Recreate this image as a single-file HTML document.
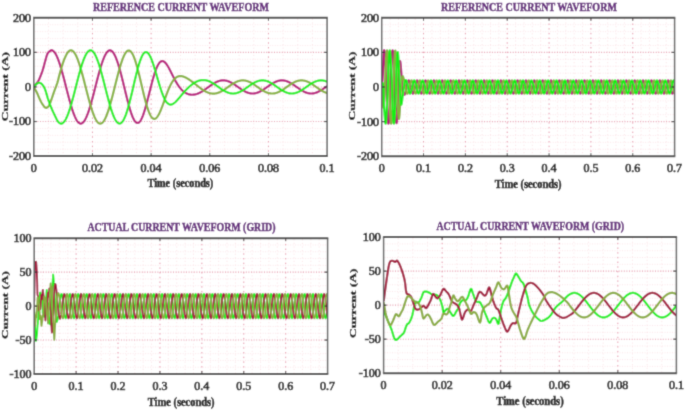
<!DOCTYPE html>
<html><head><meta charset="utf-8"><style>
html,body{margin:0;padding:0;background:#fff;width:685px;height:410px;overflow:hidden}
svg{display:block}
.mn{stroke:#fbe3e7;stroke-width:0.9;stroke-dasharray:1.2 2.4}
.mnh{stroke:#fbe3e7;stroke-width:1;stroke-dasharray:0.9 1.6}
.mj{stroke:#e590a6;stroke-width:1;stroke-dasharray:1.4 3.3}
.mjh{stroke:#e698ab;stroke-width:1.1;stroke-dasharray:1 1.6}
.ln{fill:none;stroke-linejoin:round;stroke-linecap:round}
.tk{stroke:#333;stroke-width:1.2}
.tkv{stroke:#333;stroke-width:0.9}
.bxh{fill:none;stroke:#474747;stroke-width:2}
.bxv{fill:none;stroke:#5e5e5e;stroke-width:1.5}
.tl{font-family:"Liberation Serif",serif;font-size:12px;fill:#222222;stroke:#222222;stroke-width:0.7px}
.tt{font-family:"Liberation Serif",serif;font-size:13px;font-weight:bold;fill:#62267a;stroke:#62267a;stroke-width:0.55px}
.yl{font-family:"Liberation Serif",serif;font-size:12.5px;font-weight:bold;fill:#141414;stroke:#141414;stroke-width:0.45px}
.lb{font-family:"Liberation Serif",serif;font-size:12px;font-weight:bold;fill:#111;stroke:#111;stroke-width:0.5px}
</style></head><body>
<svg width="685" height="410" viewBox="0 0 685 410">
<defs><clipPath id="c_tl"><rect x="33.8" y="17.8" width="293.3" height="138.29999999999998"/></clipPath><clipPath id="c_tr"><rect x="381.7" y="17.8" width="292.90000000000003" height="138.39999999999998"/></clipPath><clipPath id="c_bl"><rect x="34.2" y="238.2" width="293.40000000000003" height="135.8"/></clipPath><clipPath id="c_br"><rect x="383.6" y="237.1" width="292.79999999999995" height="136.1"/></clipPath><filter id="bl" x="0" y="0" width="100%" height="100%" filterUnits="userSpaceOnUse"><feConvolveMatrix order="3" kernelMatrix="0.0225 0.1050 0.0225 0.1050 0.4900 0.1050 0.0225 0.1050 0.0225" divisor="1" edgeMode="duplicate" preserveAlpha="true"/></filter></defs>
<g filter="url(#bl)">
<rect width="685" height="410" fill="#fff"/>
<line x1="48.46" y1="18.80" x2="48.46" y2="155.10" class="mn"/>
<line x1="63.13" y1="18.80" x2="63.13" y2="155.10" class="mn"/>
<line x1="77.79" y1="18.80" x2="77.79" y2="155.10" class="mn"/>
<line x1="107.12" y1="18.80" x2="107.12" y2="155.10" class="mn"/>
<line x1="121.79" y1="18.80" x2="121.79" y2="155.10" class="mn"/>
<line x1="136.46" y1="18.80" x2="136.46" y2="155.10" class="mn"/>
<line x1="165.78" y1="18.80" x2="165.78" y2="155.10" class="mn"/>
<line x1="180.45" y1="18.80" x2="180.45" y2="155.10" class="mn"/>
<line x1="195.12" y1="18.80" x2="195.12" y2="155.10" class="mn"/>
<line x1="224.44" y1="18.80" x2="224.44" y2="155.10" class="mn"/>
<line x1="239.11" y1="18.80" x2="239.11" y2="155.10" class="mn"/>
<line x1="253.77" y1="18.80" x2="253.77" y2="155.10" class="mn"/>
<line x1="283.11" y1="18.80" x2="283.11" y2="155.10" class="mn"/>
<line x1="297.77" y1="18.80" x2="297.77" y2="155.10" class="mn"/>
<line x1="312.44" y1="18.80" x2="312.44" y2="155.10" class="mn"/>
<line x1="34.80" y1="149.19" x2="326.10" y2="149.19" class="mnh"/>
<line x1="34.80" y1="142.27" x2="326.10" y2="142.27" class="mnh"/>
<line x1="34.80" y1="135.35" x2="326.10" y2="135.35" class="mnh"/>
<line x1="34.80" y1="128.44" x2="326.10" y2="128.44" class="mnh"/>
<line x1="34.80" y1="114.61" x2="326.10" y2="114.61" class="mnh"/>
<line x1="34.80" y1="107.69" x2="326.10" y2="107.69" class="mnh"/>
<line x1="34.80" y1="100.78" x2="326.10" y2="100.78" class="mnh"/>
<line x1="34.80" y1="93.87" x2="326.10" y2="93.87" class="mnh"/>
<line x1="34.80" y1="80.04" x2="326.10" y2="80.04" class="mnh"/>
<line x1="34.80" y1="73.12" x2="326.10" y2="73.12" class="mnh"/>
<line x1="34.80" y1="66.21" x2="326.10" y2="66.21" class="mnh"/>
<line x1="34.80" y1="59.29" x2="326.10" y2="59.29" class="mnh"/>
<line x1="34.80" y1="45.46" x2="326.10" y2="45.46" class="mnh"/>
<line x1="34.80" y1="38.55" x2="326.10" y2="38.55" class="mnh"/>
<line x1="34.80" y1="31.63" x2="326.10" y2="31.63" class="mnh"/>
<line x1="34.80" y1="24.72" x2="326.10" y2="24.72" class="mnh"/>
<line x1="92.46" y1="18.80" x2="92.46" y2="155.10" class="mj"/>
<line x1="151.12" y1="18.80" x2="151.12" y2="155.10" class="mj"/>
<line x1="209.78" y1="18.80" x2="209.78" y2="155.10" class="mj"/>
<line x1="268.44" y1="18.80" x2="268.44" y2="155.10" class="mj"/>
<line x1="34.80" y1="121.53" x2="326.10" y2="121.53" class="mjh"/>
<line x1="34.80" y1="86.95" x2="326.10" y2="86.95" class="mjh"/>
<line x1="34.80" y1="52.38" x2="326.10" y2="52.38" class="mjh"/>
<g clip-path="url(#c_tl)">
<path d="M33.80,86.95L34.27,86.36L34.93,85.53L35.71,84.55L36.52,83.51L37.28,82.48L37.91,81.56L38.40,80.75L38.81,80.00L39.17,79.27L39.51,78.51L39.86,77.69L40.25,76.75L40.68,75.69L41.12,74.55L41.57,73.33L42.02,72.06L42.47,70.77L42.89,69.46L43.30,68.10L43.70,66.69L44.08,65.25L44.47,63.80L44.85,62.38L45.24,61.02L45.62,59.67L45.98,58.31L46.34,56.98L46.72,55.72L47.13,54.57L47.59,53.59L48.12,52.75L48.71,52.03L49.34,51.43L49.97,50.95L50.57,50.58L51.10,50.32L51.56,50.20L51.97,50.22L52.35,50.35L52.71,50.58L53.07,50.86L53.45,51.18L53.84,51.55L54.23,51.98L54.62,52.47L55.02,53.02L55.41,53.63L55.80,54.30L56.19,55.02L56.58,55.80L56.97,56.64L57.36,57.53L57.75,58.47L58.14,59.46L58.56,60.59L59.01,61.88L59.46,63.23L59.88,64.50L60.24,65.58L60.49,66.35L60.78,67.31L61.08,68.29L61.37,69.29L61.66,70.31L61.96,71.35L62.25,72.40L62.54,73.46L62.84,74.54L63.13,75.63L63.42,76.73L63.72,77.84L64.01,78.96L64.30,80.08L64.60,81.22L64.89,82.36L65.18,83.50L65.48,84.65L65.77,85.80L66.06,86.95L66.36,88.10L66.65,89.25L66.94,90.40L67.24,91.55L67.53,92.69L67.82,93.82L68.12,94.95L68.41,96.07L68.70,97.18L69.00,98.28L69.29,99.37L69.58,100.44L69.88,101.51L70.17,102.56L70.46,103.59L70.76,104.61L71.05,105.61L71.34,106.59L71.64,107.55L71.93,108.50L72.22,109.42L72.52,110.31L72.81,111.19L73.10,112.04L73.40,112.87L73.69,113.67L73.98,114.44L74.28,115.19L74.57,115.91L74.86,116.60L75.16,117.27L75.45,117.90L75.74,118.50L76.04,119.07L76.33,119.61L76.62,120.11L76.92,120.59L77.21,121.03L77.50,121.44L77.79,121.81L78.09,122.15L78.38,122.45L78.67,122.72L78.97,122.95L79.26,123.15L79.55,123.31L79.85,123.44L80.14,123.53L80.43,123.58L80.73,123.60L81.02,123.58L81.31,123.53L81.61,123.44L81.90,123.31L82.19,123.15L82.49,122.95L82.78,122.71L83.07,122.44L83.37,122.14L83.66,121.80L83.95,121.43L84.25,121.02L84.54,120.58L84.83,120.10L85.13,119.60L85.42,119.06L85.71,118.48L86.01,117.88L86.30,117.25L86.59,116.59L86.89,115.89L87.18,115.17L87.47,114.42L87.77,113.65L88.06,112.84L88.35,112.02L88.65,111.16L88.94,110.29L89.23,109.39L89.53,108.46L89.82,107.52L90.11,106.56L90.41,105.57L90.70,104.57L90.99,103.55L91.29,102.52L91.58,101.47L91.87,100.40L92.17,99.32L92.46,98.23L92.75,97.13L93.05,96.01L93.34,94.89L93.63,93.76L93.93,92.63L94.22,91.48L94.51,90.34L94.81,89.19L95.10,88.04L95.39,86.88L95.69,85.73L95.98,84.58L96.27,83.43L96.57,82.28L96.86,81.14L97.15,80.00L97.45,78.87L97.74,77.75L98.03,76.64L98.33,75.53L98.62,74.44L98.91,73.36L99.21,72.30L99.50,71.25L99.79,70.21L100.09,69.19L100.38,68.19L100.67,67.21L100.97,66.24L101.26,65.30L101.55,64.38L101.85,63.48L102.14,62.60L102.43,61.75L102.73,60.92L103.02,60.12L103.31,59.35L103.61,58.60L103.90,57.88L104.19,57.19L104.49,56.53L104.78,55.90L105.07,55.30L105.37,54.73L105.66,54.20L105.95,53.70L106.25,53.23L106.54,52.79L106.83,52.39L107.12,52.02L107.42,51.69L107.71,51.39L108.00,51.13L108.30,50.91L108.59,50.72L108.88,50.56L109.18,50.45L109.47,50.37L109.76,50.33L110.06,50.32L110.35,50.35L110.64,50.42L110.94,50.53L111.23,50.67L111.52,50.85L111.82,51.07L112.11,51.32L112.40,51.61L112.70,51.94L112.99,52.30L113.28,52.70L113.58,53.13L113.87,53.60L114.16,54.10L114.46,54.63L114.75,55.20L115.04,55.81L115.34,56.44L115.63,57.11L115.92,57.80L116.22,58.53L116.51,59.29L116.80,60.08L117.10,60.90L117.39,61.74L117.68,62.61L117.98,63.51L118.27,64.43L118.56,65.38L118.86,66.35L119.15,67.34L119.44,68.35L119.74,69.39L120.03,70.44L120.32,71.52L120.62,72.61L120.91,73.71L121.20,74.83L121.50,75.97L121.79,77.12L122.08,78.28L122.38,79.45L122.67,80.63L122.96,81.82L123.26,83.02L123.55,84.22L123.84,85.42L124.14,86.63L124.43,87.84L124.72,89.05L125.02,90.26L125.31,91.47L125.60,92.67L125.90,93.87L126.19,95.06L126.48,96.25L126.78,97.43L127.07,98.59L127.36,99.74L127.66,100.89L127.95,102.01L128.24,103.12L128.54,104.21L128.83,105.29L129.12,106.34L129.42,107.37L129.71,108.38L130.00,109.37L130.30,110.33L130.59,111.27L130.88,112.17L131.18,113.05L131.47,113.90L131.76,114.71L132.06,115.50L132.35,116.25L132.64,116.96L132.94,117.64L133.23,118.28L133.52,118.89L133.82,119.45L134.11,119.98L134.40,120.47L134.70,120.91L134.99,121.31L135.28,121.68L135.58,121.99L135.87,122.27L136.16,122.50L136.45,122.68L136.75,122.82L137.04,122.92L137.33,122.97L137.63,122.97L137.92,122.93L138.21,122.85L138.51,122.71L138.80,122.54L139.09,122.32L139.39,122.05L139.68,121.74L139.97,121.38L140.27,120.98L140.56,120.54L140.85,120.06L141.15,119.53L141.44,118.96L141.73,118.36L142.03,117.71L142.32,117.03L142.61,116.31L142.91,115.56L143.20,114.77L143.49,113.95L143.79,113.09L144.08,112.21L144.37,111.29L144.67,110.35L144.96,109.38L145.25,108.39L145.55,107.37L145.84,106.33L146.13,105.27L146.43,104.20L146.72,103.10L147.01,101.99L147.31,100.87L147.60,99.74L147.89,98.59L148.19,97.44L148.48,96.28L148.77,95.12L149.07,93.95L149.36,92.79L149.65,91.62L149.95,90.45L150.24,89.29L150.53,88.13L150.83,86.98L151.12,85.84L151.41,84.71L151.71,83.59L152.00,82.49L152.29,81.40L152.59,80.32L152.88,79.27L153.17,78.23L153.47,77.21L153.76,76.22L154.05,75.25L154.35,74.30L154.64,73.38L154.93,72.49L155.23,71.62L155.52,70.79L155.81,69.98L156.11,69.21L156.40,68.46L156.69,67.75L156.99,67.08L157.28,66.43L157.57,65.82L157.87,65.25L158.16,64.71L158.45,64.21L158.75,63.75L159.04,63.32L159.33,62.93L159.63,62.58L159.92,62.26L160.21,61.98L160.51,61.74L160.80,61.53L161.09,61.37L161.39,61.24L161.68,61.14L161.97,61.08L162.27,61.06L162.56,61.07L162.85,61.11L163.15,61.19L163.44,61.30L163.73,61.45L164.03,61.62L164.32,61.82L164.61,62.06L164.91,62.32L165.20,62.61L165.49,62.92L165.79,63.26L166.08,63.63L166.37,64.02L166.66,64.42L166.96,64.85L167.25,65.30L167.54,65.77L167.84,66.25L168.13,66.75L168.42,67.26L168.72,67.78L169.01,68.32L169.30,68.87L169.60,69.42L169.89,69.99L170.18,70.56L170.48,71.13L170.77,71.72L171.06,72.30L171.36,72.89L171.65,73.48L171.94,74.07L172.24,74.65L172.53,75.24L172.82,75.83L173.12,76.41L173.41,76.99L173.70,77.56L174.00,78.13L174.29,78.69L174.58,79.25L174.88,79.80L175.17,80.34L175.46,80.87L175.76,81.39L176.05,81.91L176.34,82.41L176.64,82.91L176.93,83.40L177.22,83.87L177.52,84.34L177.81,84.79L178.10,85.24L178.40,85.67L178.69,86.09L178.98,86.50L179.28,86.90L179.57,87.29L179.86,87.67L180.16,88.04L180.45,88.39L180.74,88.74L181.04,89.07L181.33,89.39L181.62,89.70L181.92,90.01L182.21,90.30L182.50,90.58L182.80,90.85L183.09,91.11L183.38,91.35L183.68,91.59L183.97,91.82L184.26,92.04L184.56,92.25L184.85,92.45L185.14,92.64L185.44,92.83L185.73,93.00L186.02,93.16L186.32,93.32L186.61,93.47L186.90,93.60L187.20,93.73L187.49,93.85L187.78,93.97L188.08,94.07L188.37,94.17L188.66,94.26L188.96,94.34L189.25,94.41L189.54,94.48L189.84,94.54L190.13,94.59L190.42,94.64L190.72,94.67L191.01,94.70L191.30,94.73L191.60,94.74L191.89,94.75L192.18,94.75L192.48,94.75L192.77,94.74L193.06,94.72L193.36,94.70L193.65,94.67L193.94,94.63L194.24,94.59L194.53,94.54L194.82,94.49L195.12,94.42L195.41,94.36L195.70,94.29L195.99,94.21L196.29,94.12L196.58,94.03L196.87,93.94L197.17,93.84L197.46,93.73L197.75,93.62L198.05,93.50L198.34,93.38L198.63,93.26L198.93,93.13L199.22,92.99L199.51,92.85L199.81,92.70L200.10,92.55L200.39,92.40L200.69,92.24L200.98,92.08L201.27,91.92L201.57,91.75L201.86,91.57L202.15,91.40L202.45,91.22L202.74,91.03L203.03,90.85L203.33,90.66L203.62,90.47L203.91,90.27L204.21,90.08L204.50,89.88L204.79,89.68L205.09,89.47L205.38,89.27L205.67,89.06L205.97,88.85L206.26,88.64L206.55,88.43L206.85,88.22L207.14,88.01L207.43,87.80L207.73,87.59L208.02,87.38L208.31,87.16L208.61,86.95L208.90,86.74L209.19,86.53L209.49,86.32L209.78,86.11L210.07,85.90L210.37,85.69L210.66,85.49L210.95,85.28L211.25,85.08L211.54,84.88L211.83,84.68L212.13,84.49L212.42,84.30L212.71,84.11L213.01,83.92L213.30,83.74L213.59,83.56L213.89,83.38L214.18,83.21L214.47,83.04L214.77,82.87L215.06,82.71L215.35,82.55L215.65,82.40L215.94,82.25L216.23,82.11L216.53,81.97L216.82,81.84L217.11,81.71L217.41,81.59L217.70,81.47L217.99,81.36L218.29,81.25L218.58,81.15L218.87,81.05L219.17,80.96L219.46,80.88L219.75,80.80L220.05,80.73L220.34,80.66L220.63,80.60L220.93,80.55L221.22,80.50L221.51,80.46L221.81,80.43L222.10,80.40L222.39,80.38L222.69,80.36L222.98,80.35L223.27,80.35L223.57,80.36L223.86,80.37L224.15,80.38L224.45,80.41L224.74,80.44L225.03,80.47L225.32,80.52L225.62,80.57L225.91,80.62L226.20,80.68L226.50,80.75L226.79,80.83L227.08,80.90L227.38,80.99L227.67,81.08L227.96,81.18L228.26,81.28L228.55,81.39L228.84,81.51L229.14,81.62L229.43,81.75L229.72,81.88L230.02,82.01L230.31,82.15L230.60,82.30L230.90,82.45L231.19,82.60L231.48,82.76L231.78,82.92L232.07,83.08L232.36,83.25L232.66,83.43L232.95,83.60L233.24,83.78L233.54,83.96L233.83,84.15L234.12,84.34L234.42,84.53L234.71,84.72L235.00,84.92L235.30,85.12L235.59,85.31L235.88,85.52L236.18,85.72L236.47,85.92L236.76,86.13L237.06,86.33L237.35,86.54L237.64,86.74L237.94,86.95L238.23,87.16L238.52,87.36L238.82,87.57L239.11,87.77L239.40,87.98L239.70,88.18L239.99,88.38L240.28,88.58L240.58,88.78L240.87,88.98L241.16,89.18L241.46,89.37L241.75,89.56L242.04,89.75L242.34,89.93L242.63,90.12L242.92,90.30L243.22,90.47L243.51,90.64L243.80,90.81L244.10,90.98L244.39,91.14L244.68,91.30L244.98,91.45L245.27,91.60L245.56,91.74L245.86,91.88L246.15,92.01L246.44,92.14L246.74,92.27L247.03,92.38L247.32,92.50L247.62,92.61L247.91,92.71L248.20,92.80L248.50,92.90L248.79,92.98L249.08,93.06L249.38,93.13L249.67,93.20L249.96,93.26L250.26,93.31L250.55,93.36L250.84,93.40L251.14,93.44L251.43,93.47L251.72,93.49L252.02,93.51L252.31,93.52L252.60,93.52L252.90,93.52L253.19,93.51L253.48,93.49L253.78,93.47L254.07,93.44L254.36,93.40L254.65,93.36L254.95,93.31L255.24,93.26L255.53,93.20L255.83,93.13L256.12,93.06L256.41,92.98L256.71,92.89L257.00,92.80L257.29,92.71L257.59,92.60L257.88,92.50L258.17,92.38L258.47,92.26L258.76,92.14L259.05,92.01L259.35,91.88L259.64,91.74L259.93,91.60L260.23,91.45L260.52,91.29L260.81,91.14L261.11,90.98L261.40,90.81L261.69,90.64L261.99,90.47L262.28,90.29L262.57,90.11L262.87,89.93L263.16,89.75L263.45,89.56L263.75,89.37L264.04,89.18L264.33,88.98L264.63,88.78L264.92,88.58L265.21,88.38L265.51,88.18L265.80,87.98L266.09,87.77L266.39,87.57L266.68,87.36L266.97,87.16L267.27,86.95L267.56,86.74L267.85,86.54L268.15,86.33L268.44,86.13L268.73,85.92L269.03,85.72L269.32,85.52L269.61,85.32L269.91,85.12L270.20,84.92L270.49,84.72L270.79,84.53L271.08,84.34L271.37,84.15L271.67,83.97L271.96,83.79L272.25,83.61L272.55,83.43L272.84,83.26L273.13,83.09L273.43,82.92L273.72,82.76L274.01,82.61L274.31,82.45L274.60,82.30L274.89,82.16L275.19,82.02L275.48,81.89L275.77,81.76L276.07,81.64L276.36,81.52L276.65,81.40L276.95,81.30L277.24,81.19L277.53,81.10L277.83,81.01L278.12,80.92L278.41,80.84L278.71,80.77L279.00,80.70L279.29,80.64L279.59,80.59L279.88,80.54L280.17,80.50L280.47,80.46L280.76,80.43L281.05,80.41L281.35,80.39L281.64,80.38L281.93,80.38L282.23,80.38L282.52,80.39L282.81,80.41L283.11,80.43L283.40,80.46L283.69,80.50L283.98,80.54L284.28,80.59L284.57,80.64L284.86,80.70L285.16,80.77L285.45,80.84L285.74,80.92L286.04,81.01L286.33,81.10L286.62,81.19L286.92,81.30L287.21,81.40L287.50,81.52L287.80,81.64L288.09,81.76L288.38,81.89L288.68,82.02L288.97,82.16L289.26,82.30L289.56,82.45L289.85,82.61L290.14,82.76L290.44,82.92L290.73,83.09L291.02,83.26L291.32,83.43L291.61,83.61L291.90,83.79L292.20,83.97L292.49,84.15L292.78,84.34L293.08,84.53L293.37,84.72L293.66,84.92L293.96,85.12L294.25,85.32L294.54,85.52L294.84,85.72L295.13,85.92L295.42,86.13L295.72,86.33L296.01,86.54L296.30,86.74L296.60,86.95L296.89,87.16L297.18,87.36L297.48,87.57L297.77,87.77L298.06,87.98L298.36,88.18L298.65,88.38L298.94,88.58L299.24,88.78L299.53,88.98L299.82,89.18L300.12,89.37L300.41,89.56L300.70,89.75L301.00,89.93L301.29,90.11L301.58,90.29L301.88,90.47L302.17,90.64L302.46,90.81L302.76,90.98L303.05,91.14L303.34,91.29L303.64,91.45L303.93,91.60L304.22,91.74L304.52,91.88L304.81,92.01L305.10,92.14L305.40,92.26L305.69,92.38L305.98,92.50L306.28,92.60L306.57,92.71L306.86,92.80L307.16,92.89L307.45,92.98L307.74,93.06L308.04,93.13L308.33,93.20L308.62,93.26L308.92,93.31L309.21,93.36L309.50,93.40L309.80,93.44L310.09,93.47L310.38,93.49L310.68,93.51L310.97,93.52L311.26,93.52L311.56,93.52L311.85,93.51L312.14,93.49L312.44,93.47L312.73,93.44L313.02,93.40L313.31,93.36L313.61,93.31L313.90,93.26L314.19,93.20L314.49,93.13L314.78,93.06L315.07,92.98L315.37,92.89L315.66,92.80L315.95,92.71L316.25,92.60L316.54,92.50L316.83,92.38L317.13,92.26L317.42,92.14L317.71,92.01L318.01,91.88L318.30,91.74L318.59,91.60L318.89,91.45L319.18,91.29L319.47,91.14L319.77,90.98L320.06,90.81L320.35,90.64L320.65,90.47L320.94,90.29L321.23,90.11L321.53,89.93L321.82,89.75L322.11,89.56L322.41,89.37L322.70,89.18L322.99,88.98L323.29,88.78L323.58,88.58L323.87,88.38L324.17,88.18L324.46,87.98L324.75,87.77L325.05,87.57L325.34,87.36L325.63,87.16L325.93,86.95L326.22,86.74L326.51,86.54L326.81,86.33L327.10,86.13" stroke="#b8107c" class="ln" stroke-width="2.2"/>
<path d="M33.80,86.95L34.12,87.51L34.56,88.27L35.08,89.18L35.65,90.18L36.21,91.22L36.73,92.24L37.22,93.29L37.71,94.42L38.20,95.58L38.69,96.75L39.18,97.88L39.67,98.95L40.15,99.96L40.63,100.95L41.11,101.90L41.60,102.81L42.09,103.66L42.60,104.44L43.12,105.20L43.65,105.94L44.19,106.62L44.74,107.20L45.28,107.62L45.83,107.83L46.37,107.83L46.93,107.65L47.49,107.32L48.04,106.85L48.56,106.28L49.05,105.62L49.49,104.86L49.88,103.97L50.24,102.97L50.61,101.89L50.98,100.73L51.40,99.54L51.85,98.25L52.33,96.86L52.83,95.40L53.33,93.91L53.84,92.44L54.33,91.03L54.83,89.69L55.33,88.39L55.83,87.10L56.33,85.81L56.81,84.49L57.26,83.12L57.69,81.68L58.09,80.18L58.47,78.66L58.85,77.13L59.23,75.63L59.61,74.17L60.00,72.76L60.39,71.35L60.78,69.97L61.17,68.62L61.57,67.30L61.96,66.03L62.35,64.80L62.74,63.60L63.13,62.43L63.52,61.30L63.91,60.23L64.30,59.21L64.72,58.20L65.17,57.19L65.62,56.24L66.04,55.38L66.39,54.65L66.65,54.12L66.94,53.63L67.24,53.16L67.53,52.73L67.82,52.34L68.12,51.98L68.41,51.65L68.70,51.36L69.00,51.10L69.29,50.88L69.58,50.69L69.88,50.54L70.17,50.43L70.46,50.35L70.76,50.31L71.05,50.30L71.34,50.33L71.64,50.40L71.93,50.50L72.22,50.64L72.52,50.81L72.81,51.02L73.10,51.27L73.40,51.55L73.69,51.87L73.98,52.22L74.28,52.60L74.57,53.02L74.86,53.47L75.16,53.96L75.45,54.47L75.74,55.02L76.04,55.60L76.33,56.22L76.62,56.86L76.92,57.53L77.21,58.23L77.50,58.96L77.79,59.72L78.09,60.50L78.38,61.31L78.67,62.15L78.97,63.01L79.26,63.89L79.55,64.80L79.85,65.73L80.14,66.68L80.43,67.65L80.73,68.64L81.02,69.64L81.31,70.67L81.61,71.71L81.90,72.76L82.19,73.83L82.49,74.91L82.78,76.00L83.07,77.11L83.37,78.22L83.66,79.35L83.95,80.48L84.25,81.61L84.54,82.76L84.83,83.90L85.13,85.05L85.42,86.20L85.71,87.35L86.01,88.51L86.30,89.66L86.59,90.80L86.89,91.95L87.18,93.09L87.47,94.22L87.77,95.34L88.06,96.46L88.35,97.57L88.65,98.67L88.94,99.75L89.23,100.83L89.53,101.89L89.82,102.93L90.11,103.96L90.41,104.97L90.70,105.97L90.99,106.94L91.29,107.90L91.58,108.83L91.87,109.75L92.17,110.64L92.46,111.51L92.75,112.35L93.05,113.17L93.34,113.96L93.63,114.73L93.93,115.47L94.22,116.18L94.51,116.86L94.81,117.51L95.10,118.13L95.39,118.72L95.69,119.28L95.98,119.81L96.27,120.30L96.57,120.76L96.86,121.19L97.15,121.58L97.45,121.94L97.74,122.27L98.03,122.56L98.33,122.81L98.62,123.03L98.91,123.22L99.21,123.36L99.50,123.47L99.79,123.55L100.09,123.59L100.38,123.59L100.67,123.56L100.97,123.48L101.26,123.38L101.55,123.23L101.85,123.05L102.14,122.84L102.43,122.59L102.73,122.30L103.02,121.98L103.31,121.62L103.61,121.23L103.90,120.80L104.19,120.34L104.49,119.85L104.78,119.32L105.07,118.76L105.37,118.17L105.66,117.55L105.95,116.90L106.25,116.21L106.54,115.50L106.83,114.76L107.12,113.99L107.42,113.19L107.71,112.37L108.00,111.52L108.30,110.64L108.59,109.74L108.88,108.82L109.18,107.88L109.47,106.91L109.76,105.93L110.06,104.92L110.35,103.90L110.64,102.85L110.94,101.80L111.23,100.72L111.52,99.63L111.82,98.53L112.11,97.42L112.40,96.29L112.70,95.16L112.99,94.01L113.28,92.86L113.58,91.70L113.87,90.54L114.16,89.37L114.46,88.20L114.75,87.03L115.04,85.85L115.34,84.68L115.63,83.51L115.92,82.34L116.22,81.17L116.51,80.01L116.80,78.86L117.10,77.71L117.39,76.58L117.68,75.45L117.98,74.33L118.27,73.23L118.56,72.14L118.86,71.06L119.15,70.01L119.44,68.96L119.74,67.94L120.03,66.93L120.32,65.95L120.62,64.98L120.91,64.04L121.20,63.13L121.50,62.23L121.79,61.37L122.08,60.53L122.38,59.71L122.67,58.93L122.96,58.18L123.26,57.45L123.55,56.76L123.84,56.10L124.14,55.47L124.43,54.88L124.72,54.32L125.02,53.80L125.31,53.31L125.60,52.86L125.90,52.45L126.19,52.07L126.48,51.74L126.78,51.44L127.07,51.19L127.36,50.97L127.66,50.80L127.95,50.66L128.24,50.57L128.54,50.52L128.83,50.51L129.12,50.54L129.42,50.62L129.71,50.74L130.00,50.90L130.30,51.10L130.59,51.35L130.88,51.63L131.18,51.97L131.47,52.34L131.76,52.75L132.06,53.21L132.35,53.70L132.64,54.24L132.94,54.82L133.23,55.43L133.52,56.09L133.82,56.78L134.11,57.51L134.40,58.28L134.70,59.08L134.99,59.92L135.28,60.79L135.58,61.69L135.87,62.62L136.16,63.59L136.45,64.58L136.75,65.61L137.04,66.65L137.33,67.73L137.63,68.83L137.92,69.94L138.21,71.08L138.51,72.24L138.80,73.42L139.09,74.61L139.39,75.82L139.68,77.04L139.97,78.27L140.27,79.51L140.56,80.76L140.85,82.01L141.15,83.27L141.44,84.52L141.73,85.78L142.03,87.04L142.32,88.29L142.61,89.54L142.91,90.78L143.20,92.02L143.49,93.24L143.79,94.45L144.08,95.65L144.37,96.83L144.67,97.99L144.96,99.14L145.25,100.26L145.55,101.37L145.84,102.44L146.13,103.50L146.43,104.53L146.72,105.53L147.01,106.50L147.31,107.45L147.60,108.36L147.89,109.24L148.19,110.08L148.48,110.89L148.77,111.67L149.07,112.41L149.36,113.11L149.65,113.77L149.95,114.40L150.24,114.99L150.53,115.53L150.83,116.04L151.12,116.50L151.41,116.93L151.71,117.31L152.00,117.65L152.29,117.95L152.59,118.21L152.88,118.43L153.17,118.60L153.47,118.73L153.76,118.82L154.05,118.87L154.35,118.88L154.64,118.85L154.93,118.78L155.23,118.66L155.52,118.51L155.81,118.32L156.11,118.09L156.40,117.83L156.69,117.53L156.99,117.19L157.28,116.82L157.57,116.41L157.87,115.98L158.16,115.51L158.45,115.01L158.75,114.48L159.04,113.92L159.33,113.34L159.63,112.73L159.92,112.10L160.21,111.44L160.51,110.76L160.80,110.07L161.09,109.35L161.39,108.62L161.68,107.87L161.97,107.11L162.27,106.33L162.56,105.55L162.85,104.75L163.15,103.95L163.44,103.14L163.73,102.32L164.03,101.50L164.32,100.68L164.61,99.86L164.91,99.04L165.20,98.22L165.49,97.40L165.79,96.59L166.08,95.79L166.37,94.99L166.66,94.20L166.96,93.42L167.25,92.65L167.54,91.89L167.84,91.14L168.13,90.41L168.42,89.69L168.72,88.99L169.01,88.30L169.30,87.63L169.60,86.98L169.89,86.35L170.18,85.73L170.48,85.13L170.77,84.55L171.06,83.99L171.36,83.45L171.65,82.93L171.94,82.44L172.24,81.96L172.53,81.50L172.82,81.06L173.12,80.64L173.41,80.24L173.70,79.87L174.00,79.51L174.29,79.17L174.58,78.86L174.88,78.56L175.17,78.28L175.46,78.02L175.76,77.77L176.05,77.55L176.34,77.34L176.64,77.16L176.93,76.98L177.22,76.83L177.52,76.69L177.81,76.56L178.10,76.45L178.40,76.36L178.69,76.28L178.98,76.21L179.28,76.16L179.57,76.12L179.86,76.09L180.16,76.08L180.45,76.08L180.74,76.08L181.04,76.10L181.33,76.13L181.62,76.17L181.92,76.22L182.21,76.28L182.50,76.34L182.80,76.42L183.09,76.50L183.38,76.59L183.68,76.69L183.97,76.80L184.26,76.91L184.56,77.03L184.85,77.16L185.14,77.29L185.44,77.43L185.73,77.57L186.02,77.72L186.32,77.87L186.61,78.03L186.90,78.20L187.20,78.36L187.49,78.54L187.78,78.71L188.08,78.89L188.37,79.08L188.66,79.27L188.96,79.46L189.25,79.65L189.54,79.85L189.84,80.05L190.13,80.26L190.42,80.46L190.72,80.67L191.01,80.88L191.30,81.10L191.60,81.31L191.89,81.53L192.18,81.75L192.48,81.97L192.77,82.20L193.06,82.42L193.36,82.65L193.65,82.88L193.94,83.10L194.24,83.33L194.53,83.56L194.82,83.80L195.12,84.03L195.41,84.26L195.70,84.49L195.99,84.72L196.29,84.96L196.58,85.19L196.87,85.42L197.17,85.65L197.46,85.88L197.75,86.11L198.05,86.34L198.34,86.57L198.63,86.80L198.93,87.02L199.22,87.25L199.51,87.47L199.81,87.69L200.10,87.91L200.39,88.13L200.69,88.34L200.98,88.56L201.27,88.77L201.57,88.97L201.86,89.18L202.15,89.38L202.45,89.58L202.74,89.77L203.03,89.97L203.33,90.15L203.62,90.34L203.91,90.52L204.21,90.70L204.50,90.87L204.79,91.04L205.09,91.20L205.38,91.36L205.67,91.52L205.97,91.67L206.26,91.82L206.55,91.96L206.85,92.09L207.14,92.22L207.43,92.35L207.73,92.47L208.02,92.58L208.31,92.69L208.61,92.79L208.90,92.89L209.19,92.98L209.49,93.07L209.78,93.15L210.07,93.22L210.37,93.29L210.66,93.35L210.95,93.41L211.25,93.46L211.54,93.50L211.83,93.53L212.13,93.56L212.42,93.59L212.71,93.60L213.01,93.61L213.30,93.62L213.59,93.62L213.89,93.61L214.18,93.59L214.47,93.57L214.77,93.54L215.06,93.51L215.35,93.47L215.65,93.42L215.94,93.36L216.23,93.31L216.53,93.24L216.82,93.17L217.11,93.09L217.41,93.01L217.70,92.92L217.99,92.82L218.29,92.72L218.58,92.61L218.87,92.50L219.17,92.38L219.46,92.26L219.75,92.13L220.05,92.00L220.34,91.86L220.63,91.72L220.93,91.57L221.22,91.42L221.51,91.27L221.81,91.11L222.10,90.94L222.39,90.77L222.69,90.60L222.98,90.43L223.27,90.25L223.57,90.07L223.86,89.88L224.15,89.70L224.45,89.51L224.74,89.31L225.03,89.12L225.32,88.92L225.62,88.72L225.91,88.52L226.20,88.32L226.50,88.12L226.79,87.91L227.08,87.71L227.38,87.50L227.67,87.29L227.96,87.09L228.26,86.88L228.55,86.67L228.84,86.47L229.14,86.26L229.43,86.06L229.72,85.85L230.02,85.65L230.31,85.45L230.60,85.25L230.90,85.05L231.19,84.85L231.48,84.66L231.78,84.46L232.07,84.27L232.36,84.09L232.66,83.90L232.95,83.72L233.24,83.54L233.54,83.37L233.83,83.20L234.12,83.03L234.42,82.87L234.71,82.71L235.00,82.55L235.30,82.40L235.59,82.25L235.88,82.11L236.18,81.97L236.47,81.84L236.76,81.71L237.06,81.59L237.35,81.47L237.64,81.36L237.94,81.26L238.23,81.16L238.52,81.06L238.82,80.97L239.11,80.89L239.40,80.81L239.70,80.74L239.99,80.68L240.28,80.62L240.58,80.57L240.87,80.52L241.16,80.48L241.46,80.45L241.75,80.42L242.04,80.40L242.34,80.39L242.63,80.38L242.92,80.38L243.22,80.38L243.51,80.40L243.80,80.41L244.10,80.44L244.39,80.47L244.68,80.51L244.98,80.55L245.27,80.60L245.56,80.66L245.86,80.72L246.15,80.79L246.44,80.87L246.74,80.95L247.03,81.03L247.32,81.13L247.62,81.23L247.91,81.33L248.20,81.44L248.50,81.55L248.79,81.68L249.08,81.80L249.38,81.93L249.67,82.07L249.96,82.21L250.26,82.35L250.55,82.50L250.84,82.66L251.14,82.82L251.43,82.98L251.72,83.14L252.02,83.31L252.31,83.49L252.60,83.67L252.90,83.85L253.19,84.03L253.48,84.22L253.78,84.40L254.07,84.60L254.36,84.79L254.65,84.99L254.95,85.18L255.24,85.38L255.53,85.58L255.83,85.79L256.12,85.99L256.41,86.19L256.71,86.40L257.00,86.61L257.29,86.81L257.59,87.02L257.88,87.23L258.17,87.43L258.47,87.64L258.76,87.84L259.05,88.05L259.35,88.25L259.64,88.45L259.93,88.65L260.23,88.85L260.52,89.05L260.81,89.24L261.11,89.43L261.40,89.62L261.69,89.81L261.99,89.99L262.28,90.17L262.57,90.35L262.87,90.53L263.16,90.70L263.45,90.87L263.75,91.03L264.04,91.19L264.33,91.35L264.63,91.50L264.92,91.64L265.21,91.79L265.51,91.92L265.80,92.06L266.09,92.18L266.39,92.30L266.68,92.42L266.97,92.53L267.27,92.64L267.56,92.74L267.85,92.83L268.15,92.92L268.44,93.01L268.73,93.08L269.03,93.15L269.32,93.22L269.61,93.28L269.91,93.33L270.20,93.38L270.49,93.42L270.79,93.45L271.08,93.48L271.37,93.50L271.67,93.51L271.96,93.52L272.25,93.52L272.55,93.51L272.84,93.50L273.13,93.48L273.43,93.46L273.72,93.43L274.01,93.39L274.31,93.35L274.60,93.30L274.89,93.24L275.19,93.18L275.48,93.11L275.77,93.03L276.07,92.95L276.36,92.86L276.65,92.77L276.95,92.67L277.24,92.57L277.53,92.46L277.83,92.34L278.12,92.22L278.41,92.10L278.71,91.97L279.00,91.83L279.29,91.69L279.59,91.55L279.88,91.40L280.17,91.24L280.47,91.08L280.76,90.92L281.05,90.76L281.35,90.59L281.64,90.41L281.93,90.23L282.23,90.05L282.52,89.87L282.81,89.68L283.11,89.50L283.40,89.30L283.69,89.11L283.98,88.91L284.28,88.72L284.57,88.52L284.86,88.32L285.16,88.11L285.45,87.91L285.74,87.71L286.04,87.50L286.33,87.29L286.62,87.09L286.92,86.88L287.21,86.67L287.50,86.47L287.80,86.26L288.09,86.06L288.38,85.85L288.68,85.65L288.97,85.45L289.26,85.25L289.56,85.05L289.85,84.85L290.14,84.66L290.44,84.47L290.73,84.28L291.02,84.09L291.32,83.91L291.61,83.73L291.90,83.55L292.20,83.37L292.49,83.20L292.78,83.03L293.08,82.87L293.37,82.71L293.66,82.55L293.96,82.40L294.25,82.26L294.54,82.11L294.84,81.98L295.13,81.84L295.42,81.72L295.72,81.60L296.01,81.48L296.30,81.37L296.60,81.26L296.89,81.16L297.18,81.07L297.48,80.98L297.77,80.89L298.06,80.82L298.36,80.75L298.65,80.68L298.94,80.62L299.24,80.57L299.53,80.52L299.82,80.48L300.12,80.45L300.41,80.42L300.70,80.40L301.00,80.39L301.29,80.38L301.58,80.38L301.88,80.39L302.17,80.40L302.46,80.42L302.76,80.44L303.05,80.47L303.34,80.51L303.64,80.55L303.93,80.60L304.22,80.66L304.52,80.72L304.81,80.79L305.10,80.87L305.40,80.95L305.69,81.04L305.98,81.13L306.28,81.23L306.57,81.33L306.86,81.44L307.16,81.56L307.45,81.68L307.74,81.80L308.04,81.93L308.33,82.07L308.62,82.21L308.92,82.35L309.21,82.50L309.50,82.66L309.80,82.82L310.09,82.98L310.38,83.14L310.68,83.31L310.97,83.49L311.26,83.67L311.56,83.85L311.85,84.03L312.14,84.22L312.44,84.40L312.73,84.60L313.02,84.79L313.31,84.99L313.61,85.18L313.90,85.38L314.19,85.58L314.49,85.79L314.78,85.99L315.07,86.19L315.37,86.40L315.66,86.61L315.95,86.81L316.25,87.02L316.54,87.23L316.83,87.43L317.13,87.64L317.42,87.84L317.71,88.05L318.01,88.25L318.30,88.45L318.59,88.65L318.89,88.85L319.18,89.05L319.47,89.24L319.77,89.43L320.06,89.62L320.35,89.81L320.65,89.99L320.94,90.17L321.23,90.35L321.53,90.53L321.82,90.70L322.11,90.87L322.41,91.03L322.70,91.19L322.99,91.35L323.29,91.50L323.58,91.64L323.87,91.79L324.17,91.92L324.46,92.06L324.75,92.18L325.05,92.30L325.34,92.42L325.63,92.53L325.93,92.64L326.22,92.74L326.51,92.83L326.81,92.92L327.10,93.01" stroke="#86b23e" class="ln" stroke-width="2.2"/>
<path d="M33.80,86.95L34.12,86.58L34.56,86.04L35.08,85.42L35.65,84.78L36.21,84.21L36.73,83.77L37.22,83.44L37.71,83.17L38.20,82.95L38.69,82.81L39.18,82.76L39.67,82.80L40.16,82.95L40.65,83.18L41.15,83.51L41.64,83.91L42.13,84.39L42.60,84.94L43.05,85.54L43.49,86.19L43.92,86.92L44.35,87.75L44.79,88.70L45.24,89.82L45.71,91.15L46.18,92.70L46.67,94.37L47.16,96.10L47.66,97.80L48.17,99.40L48.69,100.90L49.21,102.38L49.75,103.84L50.29,105.27L50.84,106.67L51.40,108.04L51.98,109.40L52.59,110.77L53.21,112.10L53.82,113.38L54.40,114.58L54.92,115.67L55.38,116.66L55.79,117.55L56.16,118.36L56.53,119.11L56.89,119.79L57.26,120.43L57.66,121.02L58.05,121.56L58.44,122.03L58.83,122.45L59.22,122.80L59.61,123.09L60.00,123.31L60.39,123.47L60.78,123.56L61.17,123.60L61.57,123.57L61.96,123.47L62.38,123.26L62.83,122.93L63.28,122.54L63.69,122.14L64.05,121.79L64.30,121.56L64.60,121.16L64.89,120.74L65.18,120.27L65.48,119.78L65.77,119.25L66.06,118.69L66.36,118.10L66.65,117.47L66.94,116.82L67.24,116.14L67.53,115.43L67.82,114.69L68.12,113.93L68.41,113.13L68.70,112.31L69.00,111.47L69.29,110.60L69.58,109.71L69.88,108.80L70.17,107.86L70.46,106.91L70.76,105.93L71.05,104.94L71.34,103.93L71.64,102.90L71.93,101.85L72.22,100.79L72.52,99.72L72.81,98.64L73.10,97.54L73.40,96.43L73.69,95.31L73.98,94.19L74.28,93.06L74.57,91.92L74.86,90.78L75.16,89.63L75.45,88.48L75.74,87.33L76.04,86.18L76.33,85.03L76.62,83.88L76.92,82.73L77.21,81.59L77.50,80.45L77.79,79.32L78.09,78.20L78.38,77.09L78.67,75.98L78.97,74.89L79.26,73.81L79.55,72.74L79.85,71.68L80.14,70.65L80.43,69.62L80.73,68.62L81.02,67.63L81.31,66.66L81.61,65.71L81.90,64.78L82.19,63.88L82.49,62.99L82.78,62.13L83.07,61.30L83.37,60.49L83.66,59.70L83.95,58.95L84.25,58.22L84.54,57.52L84.83,56.85L85.13,56.20L85.42,55.59L85.71,55.01L86.01,54.46L86.30,53.94L86.59,53.46L86.89,53.01L87.18,52.59L87.47,52.21L87.77,51.86L88.06,51.54L88.35,51.26L88.65,51.02L88.94,50.81L89.23,50.64L89.53,50.50L89.82,50.40L90.11,50.33L90.41,50.30L90.70,50.31L90.99,50.35L91.29,50.43L91.58,50.55L91.87,50.70L92.17,50.89L92.46,51.11L92.75,51.37L93.05,51.67L93.34,52.00L93.63,52.36L93.93,52.76L94.22,53.19L94.51,53.65L94.81,54.15L95.10,54.68L95.39,55.25L95.69,55.84L95.98,56.47L96.27,57.12L96.57,57.81L96.86,58.52L97.15,59.26L97.45,60.03L97.74,60.83L98.03,61.65L98.33,62.50L98.62,63.37L98.91,64.27L99.21,65.19L99.50,66.13L99.79,67.09L100.09,68.07L100.38,69.07L100.67,70.09L100.97,71.12L101.26,72.17L101.55,73.24L101.85,74.32L102.14,75.41L102.43,76.51L102.73,77.63L103.02,78.75L103.31,79.88L103.61,81.02L103.90,82.17L104.19,83.32L104.49,84.47L104.78,85.63L105.07,86.79L105.37,87.94L105.66,89.10L105.95,90.26L106.25,91.41L106.54,92.56L106.83,93.70L107.12,94.84L107.42,95.97L107.71,97.09L108.00,98.20L108.30,99.30L108.59,100.39L108.88,101.46L109.18,102.52L109.47,103.57L109.76,104.60L110.06,105.61L110.35,106.60L110.64,107.57L110.94,108.53L111.23,109.46L111.52,110.36L111.82,111.25L112.11,112.11L112.40,112.95L112.70,113.75L112.99,114.54L113.28,115.29L113.58,116.02L113.87,116.71L114.16,117.38L114.46,118.02L114.75,118.62L115.04,119.19L115.34,119.73L115.63,120.24L115.92,120.71L116.22,121.14L116.51,121.54L116.80,121.91L117.10,122.24L117.39,122.53L117.68,122.79L117.98,123.01L118.27,123.19L118.56,123.33L118.86,123.44L119.15,123.51L119.44,123.53L119.74,123.52L120.03,123.47L120.32,123.39L120.62,123.26L120.91,123.09L121.20,122.89L121.50,122.65L121.79,122.36L122.08,122.04L122.38,121.69L122.67,121.29L122.96,120.85L123.26,120.38L123.55,119.87L123.84,119.33L124.14,118.75L124.43,118.13L124.72,117.48L125.02,116.79L125.31,116.07L125.60,115.32L125.90,114.53L126.19,113.71L126.48,112.86L126.78,111.98L127.07,111.07L127.36,110.13L127.66,109.17L127.95,108.18L128.24,107.16L128.54,106.12L128.83,105.05L129.12,103.97L129.42,102.86L129.71,101.73L130.00,100.58L130.30,99.42L130.59,98.24L130.88,97.04L131.18,95.83L131.47,94.62L131.76,93.39L132.06,92.15L132.35,90.90L132.64,89.65L132.94,88.39L133.23,87.13L133.52,85.88L133.82,84.62L134.11,83.36L134.40,82.11L134.70,80.86L134.99,79.62L135.28,78.39L135.58,77.17L135.87,75.96L136.16,74.76L136.45,73.58L136.75,72.42L137.04,71.28L137.33,70.15L137.63,69.05L137.92,67.97L138.21,66.92L138.51,65.89L138.80,64.89L139.09,63.92L139.39,62.98L139.68,62.07L139.97,61.20L140.27,60.36L140.56,59.55L140.85,58.78L141.15,58.05L141.44,57.36L141.73,56.71L142.03,56.10L142.32,55.52L142.61,55.00L142.91,54.51L143.20,54.07L143.49,53.67L143.79,53.31L144.08,53.00L144.37,52.73L144.67,52.51L144.96,52.33L145.25,52.20L145.55,52.11L145.84,52.07L146.13,52.08L146.43,52.12L146.72,52.22L147.01,52.35L147.31,52.53L147.60,52.75L147.89,53.02L148.19,53.33L148.48,53.67L148.77,54.06L149.07,54.49L149.36,54.95L149.65,55.46L149.95,56.00L150.24,56.57L150.53,57.18L150.83,57.83L151.12,58.50L151.41,59.21L151.71,59.94L152.00,60.71L152.29,61.50L152.59,62.31L152.88,63.15L153.17,64.02L153.47,64.90L153.76,65.80L154.05,66.73L154.35,67.66L154.64,68.62L154.93,69.58L155.23,70.56L155.52,71.55L155.81,72.55L156.11,73.55L156.40,74.56L156.69,75.57L156.99,76.58L157.28,77.60L157.57,78.61L157.87,79.62L158.16,80.63L158.45,81.63L158.75,82.62L159.04,83.61L159.33,84.58L159.63,85.54L159.92,86.49L160.21,87.43L160.51,88.35L160.80,89.25L161.09,90.13L161.39,90.99L161.68,91.84L161.97,92.66L162.27,93.46L162.56,94.23L162.85,94.98L163.15,95.71L163.44,96.41L163.73,97.08L164.03,97.73L164.32,98.34L164.61,98.93L164.91,99.49L165.20,100.02L165.49,100.52L165.79,100.99L166.08,101.43L166.37,101.85L166.66,102.23L166.96,102.58L167.25,102.90L167.54,103.19L167.84,103.46L168.13,103.69L168.42,103.90L168.72,104.08L169.01,104.23L169.30,104.35L169.60,104.45L169.89,104.52L170.18,104.56L170.48,104.58L170.77,104.58L171.06,104.56L171.36,104.51L171.65,104.44L171.94,104.35L172.24,104.24L172.53,104.11L172.82,103.96L173.12,103.80L173.41,103.62L173.70,103.42L174.00,103.21L174.29,102.99L174.58,102.75L174.88,102.50L175.17,102.24L175.46,101.96L175.76,101.68L176.05,101.39L176.34,101.09L176.64,100.79L176.93,100.47L177.22,100.15L177.52,99.83L177.81,99.49L178.10,99.16L178.40,98.82L178.69,98.48L178.98,98.13L179.28,97.79L179.57,97.44L179.86,97.09L180.16,96.73L180.45,96.38L180.74,96.03L181.04,95.68L181.33,95.33L181.62,94.98L181.92,94.63L182.21,94.28L182.50,93.93L182.80,93.59L183.09,93.24L183.38,92.90L183.68,92.56L183.97,92.23L184.26,91.90L184.56,91.57L184.85,91.24L185.14,90.92L185.44,90.60L185.73,90.28L186.02,89.97L186.32,89.66L186.61,89.35L186.90,89.05L187.20,88.75L187.49,88.46L187.78,88.17L188.08,87.88L188.37,87.60L188.66,87.32L188.96,87.05L189.25,86.78L189.54,86.52L189.84,86.26L190.13,86.00L190.42,85.75L190.72,85.50L191.01,85.26L191.30,85.02L191.60,84.79L191.89,84.57L192.18,84.34L192.48,84.13L192.77,83.91L193.06,83.70L193.36,83.50L193.65,83.31L193.94,83.11L194.24,82.93L194.53,82.75L194.82,82.57L195.12,82.40L195.41,82.23L195.70,82.07L195.99,81.92L196.29,81.77L196.58,81.63L196.87,81.49L197.17,81.36L197.46,81.24L197.75,81.12L198.05,81.00L198.34,80.90L198.63,80.80L198.93,80.70L199.22,80.61L199.51,80.53L199.81,80.46L200.10,80.39L200.39,80.32L200.69,80.26L200.98,80.21L201.27,80.17L201.57,80.13L201.86,80.10L202.15,80.07L202.45,80.06L202.74,80.04L203.03,80.04L203.33,80.04L203.62,80.04L203.91,80.06L204.21,80.08L204.50,80.10L204.79,80.14L205.09,80.17L205.38,80.22L205.67,80.27L205.97,80.33L206.26,80.39L206.55,80.46L206.85,80.53L207.14,80.61L207.43,80.70L207.73,80.79L208.02,80.89L208.31,81.00L208.61,81.10L208.90,81.22L209.19,81.34L209.49,81.46L209.78,81.59L210.07,81.73L210.37,81.87L210.66,82.01L210.95,82.16L211.25,82.31L211.54,82.47L211.83,82.63L212.13,82.80L212.42,82.97L212.71,83.14L213.01,83.32L213.30,83.49L213.59,83.68L213.89,83.86L214.18,84.05L214.47,84.24L214.77,84.44L215.06,84.63L215.35,84.83L215.65,85.03L215.94,85.23L216.23,85.43L216.53,85.64L216.82,85.84L217.11,86.05L217.41,86.26L217.70,86.46L217.99,86.67L218.29,86.88L218.58,87.09L218.87,87.30L219.17,87.50L219.46,87.71L219.75,87.92L220.05,88.12L220.34,88.32L220.63,88.53L220.93,88.73L221.22,88.93L221.51,89.12L221.81,89.32L222.10,89.51L222.39,89.70L222.69,89.88L222.98,90.07L223.27,90.25L223.57,90.43L223.86,90.60L224.15,90.77L224.45,90.94L224.74,91.10L225.03,91.26L225.32,91.41L225.62,91.56L225.91,91.71L226.20,91.85L226.50,91.98L226.79,92.11L227.08,92.24L227.38,92.36L227.67,92.47L227.96,92.58L228.26,92.69L228.55,92.78L228.84,92.88L229.14,92.96L229.43,93.04L229.72,93.12L230.02,93.19L230.31,93.25L230.60,93.31L230.90,93.36L231.19,93.40L231.48,93.44L231.78,93.47L232.07,93.49L232.36,93.51L232.66,93.52L232.95,93.53L233.24,93.53L233.54,93.52L233.83,93.50L234.12,93.48L234.42,93.46L234.71,93.42L235.00,93.38L235.30,93.34L235.59,93.28L235.88,93.22L236.18,93.16L236.47,93.09L236.76,93.01L237.06,92.93L237.35,92.84L237.64,92.74L237.94,92.64L238.23,92.54L238.52,92.43L238.82,92.31L239.11,92.19L239.40,92.06L239.70,91.93L239.99,91.79L240.28,91.65L240.58,91.50L240.87,91.35L241.16,91.19L241.46,91.03L241.75,90.87L242.04,90.70L242.34,90.53L242.63,90.35L242.92,90.18L243.22,89.99L243.51,89.81L243.80,89.62L244.10,89.43L244.39,89.24L244.68,89.05L244.98,88.85L245.27,88.65L245.56,88.45L245.86,88.25L246.15,88.05L246.44,87.84L246.74,87.64L247.03,87.43L247.32,87.23L247.62,87.02L247.91,86.81L248.20,86.61L248.50,86.40L248.79,86.19L249.08,85.99L249.38,85.79L249.67,85.58L249.96,85.38L250.26,85.18L250.55,84.99L250.84,84.79L251.14,84.60L251.43,84.40L251.72,84.22L252.02,84.03L252.31,83.85L252.60,83.67L252.90,83.49L253.19,83.31L253.48,83.14L253.78,82.98L254.07,82.82L254.36,82.66L254.65,82.50L254.95,82.35L255.24,82.21L255.53,82.07L255.83,81.93L256.12,81.80L256.41,81.68L256.71,81.56L257.00,81.44L257.29,81.33L257.59,81.23L257.88,81.13L258.17,81.04L258.47,80.95L258.76,80.87L259.05,80.79L259.35,80.72L259.64,80.66L259.93,80.60L260.23,80.55L260.52,80.51L260.81,80.47L261.11,80.44L261.40,80.42L261.69,80.40L261.99,80.39L262.28,80.38L262.57,80.38L262.87,80.39L263.16,80.40L263.45,80.42L263.75,80.45L264.04,80.48L264.33,80.52L264.63,80.57L264.92,80.62L265.21,80.68L265.51,80.75L265.80,80.82L266.09,80.89L266.39,80.98L266.68,81.07L266.97,81.16L267.27,81.26L267.56,81.37L267.85,81.48L268.15,81.60L268.44,81.72L268.73,81.84L269.03,81.98L269.32,82.11L269.61,82.26L269.91,82.40L270.20,82.55L270.49,82.71L270.79,82.87L271.08,83.03L271.37,83.20L271.67,83.37L271.96,83.55L272.25,83.73L272.55,83.91L272.84,84.09L273.13,84.28L273.43,84.47L273.72,84.66L274.01,84.85L274.31,85.05L274.60,85.25L274.89,85.45L275.19,85.65L275.48,85.85L275.77,86.06L276.07,86.26L276.36,86.47L276.65,86.67L276.95,86.88L277.24,87.09L277.53,87.29L277.83,87.50L278.12,87.71L278.41,87.91L278.71,88.11L279.00,88.32L279.29,88.52L279.59,88.72L279.88,88.91L280.17,89.11L280.47,89.30L280.76,89.50L281.05,89.68L281.35,89.87L281.64,90.05L281.93,90.23L282.23,90.41L282.52,90.59L282.81,90.76L283.11,90.92L283.40,91.08L283.69,91.24L283.98,91.40L284.28,91.55L284.57,91.69L284.86,91.83L285.16,91.97L285.45,92.10L285.74,92.22L286.04,92.34L286.33,92.46L286.62,92.57L286.92,92.67L287.21,92.77L287.50,92.86L287.80,92.95L288.09,93.03L288.38,93.11L288.68,93.18L288.97,93.24L289.26,93.30L289.56,93.35L289.85,93.39L290.14,93.43L290.44,93.46L290.73,93.48L291.02,93.50L291.32,93.51L291.61,93.52L291.90,93.52L292.20,93.51L292.49,93.50L292.78,93.48L293.08,93.45L293.37,93.42L293.66,93.38L293.96,93.33L294.25,93.28L294.54,93.22L294.84,93.15L295.13,93.08L295.42,93.01L295.72,92.92L296.01,92.83L296.30,92.74L296.60,92.64L296.89,92.53L297.18,92.42L297.48,92.30L297.77,92.18L298.06,92.06L298.36,91.92L298.65,91.79L298.94,91.64L299.24,91.50L299.53,91.35L299.82,91.19L300.12,91.03L300.41,90.87L300.70,90.70L301.00,90.53L301.29,90.35L301.58,90.17L301.88,89.99L302.17,89.81L302.46,89.62L302.76,89.43L303.05,89.24L303.34,89.05L303.64,88.85L303.93,88.65L304.22,88.45L304.52,88.25L304.81,88.05L305.10,87.84L305.40,87.64L305.69,87.43L305.98,87.23L306.28,87.02L306.57,86.81L306.86,86.61L307.16,86.40L307.45,86.19L307.74,85.99L308.04,85.79L308.33,85.58L308.62,85.38L308.92,85.18L309.21,84.99L309.50,84.79L309.80,84.60L310.09,84.40L310.38,84.22L310.68,84.03L310.97,83.85L311.26,83.67L311.56,83.49L311.85,83.31L312.14,83.14L312.44,82.98L312.73,82.82L313.02,82.66L313.31,82.50L313.61,82.35L313.90,82.21L314.19,82.07L314.49,81.93L314.78,81.80L315.07,81.68L315.37,81.56L315.66,81.44L315.95,81.33L316.25,81.23L316.54,81.13L316.83,81.04L317.13,80.95L317.42,80.87L317.71,80.79L318.01,80.72L318.30,80.66L318.59,80.60L318.89,80.55L319.18,80.51L319.47,80.47L319.77,80.44L320.06,80.42L320.35,80.40L320.65,80.39L320.94,80.38L321.23,80.38L321.53,80.39L321.82,80.40L322.11,80.42L322.41,80.45L322.70,80.48L322.99,80.52L323.29,80.57L323.58,80.62L323.87,80.68L324.17,80.75L324.46,80.82L324.75,80.89L325.05,80.98L325.34,81.07L325.63,81.16L325.93,81.26L326.22,81.37L326.51,81.48L326.81,81.60L327.10,81.72" stroke="#18ee18" class="ln" stroke-width="2.2"/>
</g>
<line x1="92.46" y1="156.10" x2="92.46" y2="153.10" class="tkv"/>
<line x1="92.46" y1="17.80" x2="92.46" y2="20.80" class="tkv"/>
<line x1="151.12" y1="156.10" x2="151.12" y2="153.10" class="tkv"/>
<line x1="151.12" y1="17.80" x2="151.12" y2="20.80" class="tkv"/>
<line x1="209.78" y1="156.10" x2="209.78" y2="153.10" class="tkv"/>
<line x1="209.78" y1="17.80" x2="209.78" y2="20.80" class="tkv"/>
<line x1="268.44" y1="156.10" x2="268.44" y2="153.10" class="tkv"/>
<line x1="268.44" y1="17.80" x2="268.44" y2="20.80" class="tkv"/>
<line x1="33.80" y1="121.53" x2="36.80" y2="121.53" class="tk"/>
<line x1="327.10" y1="121.53" x2="324.10" y2="121.53" class="tk"/>
<line x1="33.80" y1="86.95" x2="36.80" y2="86.95" class="tk"/>
<line x1="327.10" y1="86.95" x2="324.10" y2="86.95" class="tk"/>
<line x1="33.80" y1="52.38" x2="36.80" y2="52.38" class="tk"/>
<line x1="327.10" y1="52.38" x2="324.10" y2="52.38" class="tk"/>
<path d="M33.10,17.80H327.80M33.10,156.10H327.80" class="bxh"/>
<path d="M33.80,17.80V156.10M327.10,17.80V156.10" class="bxv"/>
<text x="33.80" y="172.00" class="tl" text-anchor="middle">0</text>
<text x="92.46" y="172.00" class="tl" text-anchor="middle">0.02</text>
<text x="151.12" y="172.00" class="tl" text-anchor="middle">0.04</text>
<text x="209.78" y="172.00" class="tl" text-anchor="middle">0.06</text>
<text x="268.44" y="172.00" class="tl" text-anchor="middle">0.08</text>
<text x="327.10" y="172.00" class="tl" text-anchor="middle">0.1</text>
<text x="31.00" y="160.00" class="tl" text-anchor="end">-200</text>
<text x="31.00" y="125.43" class="tl" text-anchor="end">-100</text>
<text x="31.00" y="90.85" class="tl" text-anchor="end">0</text>
<text x="31.00" y="56.28" class="tl" text-anchor="end">100</text>
<text x="31.00" y="21.70" class="tl" text-anchor="end">200</text>
<text x="93" y="10.6" class="tt" textLength="176.0" lengthAdjust="spacingAndGlyphs">REFERENCE CURRENT WAVEFORM</text>
<text x="147.5" y="187.4" class="lb" textLength="65.8" lengthAdjust="spacingAndGlyphs">Time (seconds)</text>
<text transform="translate(7.70,121.20) rotate(-90) scale(1,0.7)" x="0" y="0" class="yl" textLength="69.2" lengthAdjust="spacingAndGlyphs">Current (A)</text><line x1="390.07" y1="18.80" x2="390.07" y2="155.20" class="mn"/>
<line x1="398.44" y1="18.80" x2="398.44" y2="155.20" class="mn"/>
<line x1="406.81" y1="18.80" x2="406.81" y2="155.20" class="mn"/>
<line x1="415.17" y1="18.80" x2="415.17" y2="155.20" class="mn"/>
<line x1="431.91" y1="18.80" x2="431.91" y2="155.20" class="mn"/>
<line x1="440.28" y1="18.80" x2="440.28" y2="155.20" class="mn"/>
<line x1="448.65" y1="18.80" x2="448.65" y2="155.20" class="mn"/>
<line x1="457.02" y1="18.80" x2="457.02" y2="155.20" class="mn"/>
<line x1="473.75" y1="18.80" x2="473.75" y2="155.20" class="mn"/>
<line x1="482.12" y1="18.80" x2="482.12" y2="155.20" class="mn"/>
<line x1="490.49" y1="18.80" x2="490.49" y2="155.20" class="mn"/>
<line x1="498.86" y1="18.80" x2="498.86" y2="155.20" class="mn"/>
<line x1="515.60" y1="18.80" x2="515.60" y2="155.20" class="mn"/>
<line x1="523.97" y1="18.80" x2="523.97" y2="155.20" class="mn"/>
<line x1="532.33" y1="18.80" x2="532.33" y2="155.20" class="mn"/>
<line x1="540.70" y1="18.80" x2="540.70" y2="155.20" class="mn"/>
<line x1="557.44" y1="18.80" x2="557.44" y2="155.20" class="mn"/>
<line x1="565.81" y1="18.80" x2="565.81" y2="155.20" class="mn"/>
<line x1="574.18" y1="18.80" x2="574.18" y2="155.20" class="mn"/>
<line x1="582.55" y1="18.80" x2="582.55" y2="155.20" class="mn"/>
<line x1="599.28" y1="18.80" x2="599.28" y2="155.20" class="mn"/>
<line x1="607.65" y1="18.80" x2="607.65" y2="155.20" class="mn"/>
<line x1="616.02" y1="18.80" x2="616.02" y2="155.20" class="mn"/>
<line x1="624.39" y1="18.80" x2="624.39" y2="155.20" class="mn"/>
<line x1="641.13" y1="18.80" x2="641.13" y2="155.20" class="mn"/>
<line x1="649.49" y1="18.80" x2="649.49" y2="155.20" class="mn"/>
<line x1="657.86" y1="18.80" x2="657.86" y2="155.20" class="mn"/>
<line x1="666.23" y1="18.80" x2="666.23" y2="155.20" class="mn"/>
<line x1="382.70" y1="149.28" x2="673.60" y2="149.28" class="mnh"/>
<line x1="382.70" y1="142.36" x2="673.60" y2="142.36" class="mnh"/>
<line x1="382.70" y1="135.44" x2="673.60" y2="135.44" class="mnh"/>
<line x1="382.70" y1="128.52" x2="673.60" y2="128.52" class="mnh"/>
<line x1="382.70" y1="114.68" x2="673.60" y2="114.68" class="mnh"/>
<line x1="382.70" y1="107.76" x2="673.60" y2="107.76" class="mnh"/>
<line x1="382.70" y1="100.84" x2="673.60" y2="100.84" class="mnh"/>
<line x1="382.70" y1="93.92" x2="673.60" y2="93.92" class="mnh"/>
<line x1="382.70" y1="80.08" x2="673.60" y2="80.08" class="mnh"/>
<line x1="382.70" y1="73.16" x2="673.60" y2="73.16" class="mnh"/>
<line x1="382.70" y1="66.24" x2="673.60" y2="66.24" class="mnh"/>
<line x1="382.70" y1="59.32" x2="673.60" y2="59.32" class="mnh"/>
<line x1="382.70" y1="45.48" x2="673.60" y2="45.48" class="mnh"/>
<line x1="382.70" y1="38.56" x2="673.60" y2="38.56" class="mnh"/>
<line x1="382.70" y1="31.64" x2="673.60" y2="31.64" class="mnh"/>
<line x1="382.70" y1="24.72" x2="673.60" y2="24.72" class="mnh"/>
<line x1="423.54" y1="18.80" x2="423.54" y2="155.20" class="mj"/>
<line x1="465.39" y1="18.80" x2="465.39" y2="155.20" class="mj"/>
<line x1="507.23" y1="18.80" x2="507.23" y2="155.20" class="mj"/>
<line x1="549.07" y1="18.80" x2="549.07" y2="155.20" class="mj"/>
<line x1="590.91" y1="18.80" x2="590.91" y2="155.20" class="mj"/>
<line x1="632.76" y1="18.80" x2="632.76" y2="155.20" class="mj"/>
<line x1="382.70" y1="121.60" x2="673.60" y2="121.60" class="mjh"/>
<line x1="382.70" y1="87.00" x2="673.60" y2="87.00" class="mjh"/>
<line x1="382.70" y1="52.40" x2="673.60" y2="52.40" class="mjh"/>
<g clip-path="url(#c_tr)">
<path d="M381.70,87.00L381.77,86.41L381.86,85.58L381.97,84.60L382.09,83.56L382.20,82.53L382.29,81.60L382.36,80.80L382.41,80.05L382.47,79.32L382.52,78.56L382.57,77.73L382.62,76.79L382.68,75.73L382.74,74.59L382.81,73.37L382.87,72.10L382.94,70.80L383.00,69.49L383.06,68.14L383.11,66.73L383.17,65.28L383.22,63.83L383.28,62.41L383.33,61.05L383.39,59.70L383.44,58.34L383.49,57.01L383.54,55.74L383.60,54.60L383.67,53.61L383.74,52.78L383.83,52.06L383.92,51.46L384.01,50.97L384.09,50.60L384.17,50.34L384.23,50.22L384.29,50.24L384.35,50.38L384.40,50.60L384.45,50.89L384.50,51.21L384.56,51.57L384.62,52.00L384.67,52.50L384.73,53.05L384.78,53.66L384.84,54.32L384.89,55.04L384.95,55.83L385.01,56.67L385.06,57.56L385.12,58.50L385.17,59.49L385.23,60.62L385.30,61.92L385.36,63.26L385.42,64.53L385.47,65.62L385.51,66.39L385.68,70.35L385.84,74.58L386.01,79.00L386.18,83.55L386.34,88.15L386.51,92.74L386.68,97.23L386.85,101.57L387.01,105.67L387.18,109.48L387.35,112.94L387.52,115.98L387.68,118.57L387.85,120.66L388.02,122.22L388.19,123.23L388.35,123.66L388.52,123.51L388.69,122.79L388.86,121.50L389.02,119.67L389.19,117.32L389.36,114.49L389.52,111.23L389.69,107.59L389.86,103.61L390.03,99.38L390.19,94.95L390.36,90.39L390.53,85.78L390.70,81.18L390.86,76.68L391.03,72.34L391.20,68.23L391.37,64.41L391.53,60.96L391.70,57.91L391.87,55.33L392.04,53.25L392.20,51.71L392.37,50.74L392.54,50.35L392.70,50.55L392.87,51.35L393.04,52.72L393.21,54.66L393.37,57.13L393.54,60.11L393.71,63.54L393.88,67.38L394.04,71.55L394.21,76.01L394.38,80.68L394.55,85.47L394.71,90.31L394.88,95.12L395.05,99.80L395.22,104.28L395.38,108.45L395.55,112.24L395.72,115.57L395.88,118.36L396.05,120.54L396.22,122.07L396.39,122.90L396.55,123.01L396.72,122.39L396.89,121.06L397.06,119.04L397.22,116.38L397.39,113.16L397.56,109.45L397.73,105.34L397.89,100.93L398.06,96.34L398.23,91.67L398.40,87.03L398.56,82.53L398.73,78.27L398.90,74.34L399.06,70.83L399.23,67.79L399.40,65.29L399.57,63.35L399.73,62.01L399.90,61.27L400.07,61.10L400.24,61.48L400.40,62.35L400.57,63.66L400.74,65.33L400.91,67.29L401.07,69.46L401.24,71.75L401.41,74.11L401.58,76.45L401.74,78.74L401.91,80.91L402.08,82.96L402.24,84.84L402.41,86.55L402.58,88.09L402.75,89.44L402.91,90.63L403.08,91.65L403.25,92.51L403.42,93.22L403.58,93.79L403.75,94.22L403.92,94.54L404.09,94.73L404.25,94.81L404.42,94.78L404.59,94.64L404.76,94.41L404.92,94.09L405.09,93.68L405.26,93.18L405.42,92.61L405.59,91.97L405.76,91.27L405.93,90.52L406.09,89.73L406.26,88.91L406.43,88.06L406.60,87.21L406.76,86.37L406.93,85.54L407.10,84.73L407.27,83.97L407.43,83.25L407.60,82.60L407.77,82.02L407.94,81.52L408.10,81.10L408.27,80.77L408.44,80.55L408.60,80.42L408.77,80.40L408.94,80.48L409.11,80.67L409.27,80.95L409.44,81.33L409.61,81.80L409.78,82.34L409.94,82.96L410.11,83.65L410.28,84.39L410.45,85.16L410.61,85.97L410.78,86.79L410.95,87.62L411.12,88.43L411.28,89.23L411.45,89.99L411.62,90.70L411.79,91.35L411.95,91.93L412.12,92.44L412.29,92.86L412.45,93.19L412.62,93.42L412.79,93.55L412.96,93.57L413.12,93.49L413.29,93.31L413.46,93.03L413.63,92.66L413.79,92.19L413.96,91.65L414.13,91.03L414.30,90.35L414.46,89.61L414.63,88.83L414.80,88.03L414.97,87.21L415.13,86.38L415.30,85.57L415.47,84.77L415.63,84.02L415.80,83.30L415.97,82.65L416.14,82.07L416.30,81.56L416.47,81.14L416.64,80.81L416.81,80.58L416.97,80.46L417.14,80.43L417.31,80.51L417.48,80.69L417.64,80.97L417.81,81.34L417.98,81.81L418.15,82.35L418.31,82.97L418.48,83.65L418.65,84.39L418.81,85.17L418.98,85.97L419.15,86.79L419.32,87.62L419.48,88.43L419.65,89.23L419.82,89.98L419.99,90.70L420.15,91.35L420.32,91.93L420.49,92.44L420.66,92.86L420.82,93.19L420.99,93.42L421.16,93.54L421.33,93.57L421.49,93.49L421.66,93.31L421.83,93.03L421.99,92.66L422.16,92.19L422.33,91.65L422.50,91.03L422.66,90.35L422.83,89.61L423.00,88.83L423.17,88.03L423.33,87.21L423.50,86.38L423.67,85.57L423.84,84.77L424.00,84.02L424.17,83.30L424.34,82.65L424.51,82.07L424.67,81.56L424.84,81.14L425.01,80.81L425.17,80.58L425.34,80.46L425.51,80.43L425.68,80.51L425.84,80.69L426.01,80.97L426.18,81.34L426.35,81.81L426.51,82.35L426.68,82.97L426.85,83.65L427.02,84.39L427.18,85.17L427.35,85.97L427.52,86.79L427.69,87.62L427.85,88.43L428.02,89.23L428.19,89.98L428.35,90.70L428.52,91.35L428.69,91.93L428.86,92.44L429.02,92.86L429.19,93.19L429.36,93.42L429.53,93.54L429.69,93.57L429.86,93.49L430.03,93.31L430.20,93.03L430.36,92.66L430.53,92.19L430.70,91.65L430.87,91.03L431.03,90.35L431.20,89.61L431.37,88.83L431.53,88.03L431.70,87.21L431.87,86.38L432.04,85.57L432.20,84.77L432.37,84.02L432.54,83.30L432.71,82.65L432.87,82.07L433.04,81.56L433.21,81.14L433.38,80.81L433.54,80.58L433.71,80.46L433.88,80.43L434.05,80.51L434.21,80.69L434.38,80.97L434.55,81.34L434.71,81.81L434.88,82.35L435.05,82.97L435.22,83.65L435.38,84.39L435.55,85.17L435.72,85.97L435.89,86.79L436.05,87.62L436.22,88.43L436.39,89.23L436.56,89.98L436.72,90.70L436.89,91.35L437.06,91.93L437.23,92.44L437.39,92.86L437.56,93.19L437.73,93.42L437.89,93.54L438.06,93.57L438.23,93.49L438.40,93.31L438.56,93.03L438.73,92.66L438.90,92.19L439.07,91.65L439.23,91.03L439.40,90.35L439.57,89.61L439.74,88.83L439.90,88.03L440.07,87.21L440.24,86.38L440.41,85.57L440.57,84.77L440.74,84.02L440.91,83.30L441.08,82.65L441.24,82.07L441.41,81.56L441.58,81.14L441.74,80.81L441.91,80.58L442.08,80.46L442.25,80.43L442.41,80.51L442.58,80.69L442.75,80.97L442.92,81.34L443.08,81.81L443.25,82.35L443.42,82.97L443.59,83.65L443.75,84.39L443.92,85.17L444.09,85.97L444.26,86.79L444.42,87.62L444.59,88.43L444.76,89.23L444.92,89.98L445.09,90.70L445.26,91.35L445.43,91.93L445.59,92.44L445.76,92.86L445.93,93.19L446.10,93.42L446.26,93.54L446.43,93.57L446.60,93.49L446.77,93.31L446.93,93.03L447.10,92.66L447.27,92.19L447.44,91.65L447.60,91.03L447.77,90.35L447.94,89.61L448.10,88.83L448.27,88.03L448.44,87.21L448.61,86.38L448.77,85.57L448.94,84.77L449.11,84.02L449.28,83.30L449.44,82.65L449.61,82.07L449.78,81.56L449.95,81.14L450.11,80.81L450.28,80.58L450.45,80.46L450.62,80.43L450.78,80.51L450.95,80.69L451.12,80.97L451.28,81.34L451.45,81.81L451.62,82.35L451.79,82.97L451.95,83.65L452.12,84.39L452.29,85.17L452.46,85.97L452.62,86.79L452.79,87.62L452.96,88.43L453.13,89.23L453.29,89.98L453.46,90.70L453.63,91.35L453.80,91.93L453.96,92.44L454.13,92.86L454.30,93.19L454.46,93.42L454.63,93.54L454.80,93.57L454.97,93.49L455.13,93.31L455.30,93.03L455.47,92.66L455.64,92.19L455.80,91.65L455.97,91.03L456.14,90.35L456.31,89.61L456.47,88.83L456.64,88.03L456.81,87.21L456.98,86.38L457.14,85.57L457.31,84.77L457.48,84.02L457.64,83.30L457.81,82.65L457.98,82.07L458.15,81.56L458.31,81.14L458.48,80.81L458.65,80.58L458.82,80.46L458.98,80.43L459.15,80.51L459.32,80.69L459.49,80.97L459.65,81.34L459.82,81.81L459.99,82.35L460.16,82.97L460.32,83.65L460.49,84.39L460.66,85.17L460.82,85.97L460.99,86.79L461.16,87.62L461.33,88.43L461.49,89.23L461.66,89.98L461.83,90.70L462.00,91.35L462.16,91.93L462.33,92.44L462.50,92.86L462.67,93.19L462.83,93.42L463.00,93.54L463.17,93.57L463.34,93.49L463.50,93.31L463.67,93.03L463.84,92.66L464.00,92.19L464.17,91.65L464.34,91.03L464.51,90.35L464.67,89.61L464.84,88.83L465.01,88.03L465.18,87.21L465.34,86.38L465.51,85.57L465.68,84.77L465.85,84.02L466.01,83.30L466.18,82.65L466.35,82.07L466.52,81.56L466.68,81.14L466.85,80.81L467.02,80.58L467.18,80.46L467.35,80.43L467.52,80.51L467.69,80.69L467.85,80.97L468.02,81.34L468.19,81.81L468.36,82.35L468.52,82.97L468.69,83.65L468.86,84.39L469.03,85.17L469.19,85.97L469.36,86.79L469.53,87.62L469.70,88.43L469.86,89.23L470.03,89.98L470.20,90.70L470.37,91.35L470.53,91.93L470.70,92.44L470.87,92.86L471.03,93.19L471.20,93.42L471.37,93.54L471.54,93.57L471.70,93.49L471.87,93.31L472.04,93.03L472.21,92.66L472.37,92.19L472.54,91.65L472.71,91.03L472.88,90.35L473.04,89.61L473.21,88.83L473.38,88.03L473.55,87.21L473.71,86.38L473.88,85.57L474.05,84.77L474.21,84.02L474.38,83.30L474.55,82.65L474.72,82.07L474.88,81.56L475.05,81.14L475.22,80.81L475.39,80.58L475.55,80.46L475.72,80.43L475.89,80.51L476.06,80.69L476.22,80.97L476.39,81.34L476.56,81.81L476.73,82.35L476.89,82.97L477.06,83.65L477.23,84.39L477.39,85.17L477.56,85.97L477.73,86.79L477.90,87.62L478.06,88.43L478.23,89.23L478.40,89.98L478.57,90.70L478.73,91.35L478.90,91.93L479.07,92.44L479.24,92.86L479.40,93.19L479.57,93.42L479.74,93.54L479.91,93.57L480.07,93.49L480.24,93.31L480.41,93.03L480.57,92.66L480.74,92.19L480.91,91.65L481.08,91.03L481.24,90.35L481.41,89.61L481.58,88.83L481.75,88.03L481.91,87.21L482.08,86.38L482.25,85.57L482.42,84.77L482.58,84.02L482.75,83.30L482.92,82.65L483.09,82.07L483.25,81.56L483.42,81.14L483.59,80.81L483.75,80.58L483.92,80.46L484.09,80.43L484.26,80.51L484.42,80.69L484.59,80.97L484.76,81.34L484.93,81.81L485.09,82.35L485.26,82.97L485.43,83.65L485.60,84.39L485.76,85.17L485.93,85.97L486.10,86.79L486.27,87.62L486.43,88.43L486.60,89.23L486.77,89.98L486.93,90.70L487.10,91.35L487.27,91.93L487.44,92.44L487.60,92.86L487.77,93.19L487.94,93.42L488.11,93.54L488.27,93.57L488.44,93.49L488.61,93.31L488.78,93.03L488.94,92.66L489.11,92.19L489.28,91.65L489.45,91.03L489.61,90.35L489.78,89.61L489.95,88.83L490.11,88.03L490.28,87.21L490.45,86.38L490.62,85.57L490.78,84.77L490.95,84.02L491.12,83.30L491.29,82.65L491.45,82.07L491.62,81.56L491.79,81.14L491.96,80.81L492.12,80.58L492.29,80.46L492.46,80.43L492.63,80.51L492.79,80.69L492.96,80.97L493.13,81.34L493.29,81.81L493.46,82.35L493.63,82.97L493.80,83.65L493.96,84.39L494.13,85.17L494.30,85.97L494.47,86.79L494.63,87.62L494.80,88.43L494.97,89.23L495.14,89.98L495.30,90.70L495.47,91.35L495.64,91.93L495.81,92.44L495.97,92.86L496.14,93.19L496.31,93.42L496.47,93.54L496.64,93.57L496.81,93.49L496.98,93.31L497.14,93.03L497.31,92.66L497.48,92.19L497.65,91.65L497.81,91.03L497.98,90.35L498.15,89.61L498.32,88.83L498.48,88.03L498.65,87.21L498.82,86.38L498.99,85.57L499.15,84.77L499.32,84.02L499.49,83.30L499.66,82.65L499.82,82.07L499.99,81.56L500.16,81.14L500.32,80.81L500.49,80.58L500.66,80.46L500.83,80.43L500.99,80.51L501.16,80.69L501.33,80.97L501.50,81.34L501.66,81.81L501.83,82.35L502.00,82.97L502.17,83.65L502.33,84.39L502.50,85.17L502.67,85.97L502.84,86.79L503.00,87.62L503.17,88.43L503.34,89.23L503.50,89.98L503.67,90.70L503.84,91.35L504.01,91.93L504.17,92.44L504.34,92.86L504.51,93.19L504.68,93.42L504.84,93.54L505.01,93.57L505.18,93.49L505.35,93.31L505.51,93.03L505.68,92.66L505.85,92.19L506.02,91.65L506.18,91.03L506.35,90.35L506.52,89.61L506.68,88.83L506.85,88.03L507.02,87.21L507.19,86.38L507.35,85.57L507.52,84.77L507.69,84.02L507.86,83.30L508.02,82.65L508.19,82.07L508.36,81.56L508.53,81.14L508.69,80.81L508.86,80.58L509.03,80.46L509.20,80.43L509.36,80.51L509.53,80.69L509.70,80.97L509.86,81.34L510.03,81.81L510.20,82.35L510.37,82.97L510.53,83.65L510.70,84.39L510.87,85.17L511.04,85.97L511.20,86.79L511.37,87.62L511.54,88.43L511.71,89.23L511.87,89.98L512.04,90.70L512.21,91.35L512.38,91.93L512.54,92.44L512.71,92.86L512.88,93.19L513.04,93.42L513.21,93.54L513.38,93.57L513.55,93.49L513.71,93.31L513.88,93.03L514.05,92.66L514.22,92.19L514.38,91.65L514.55,91.03L514.72,90.35L514.89,89.61L515.05,88.83L515.22,88.03L515.39,87.21L515.56,86.38L515.72,85.57L515.89,84.77L516.06,84.02L516.22,83.30L516.39,82.65L516.56,82.07L516.73,81.56L516.89,81.14L517.06,80.81L517.23,80.58L517.40,80.46L517.56,80.43L517.73,80.51L517.90,80.69L518.07,80.97L518.23,81.34L518.40,81.81L518.57,82.35L518.74,82.97L518.90,83.65L519.07,84.39L519.24,85.17L519.40,85.97L519.57,86.79L519.74,87.62L519.91,88.43L520.07,89.23L520.24,89.98L520.41,90.70L520.58,91.35L520.74,91.93L520.91,92.44L521.08,92.86L521.25,93.19L521.41,93.42L521.58,93.54L521.75,93.57L521.92,93.49L522.08,93.31L522.25,93.03L522.42,92.66L522.58,92.19L522.75,91.65L522.92,91.03L523.09,90.35L523.25,89.61L523.42,88.83L523.59,88.03L523.76,87.21L523.92,86.38L524.09,85.57L524.26,84.77L524.43,84.02L524.59,83.30L524.76,82.65L524.93,82.07L525.10,81.56L525.26,81.14L525.43,80.81L525.60,80.58L525.76,80.46L525.93,80.43L526.10,80.51L526.27,80.69L526.43,80.97L526.60,81.34L526.77,81.81L526.94,82.35L527.10,82.97L527.27,83.65L527.44,84.39L527.61,85.17L527.77,85.97L527.94,86.79L528.11,87.62L528.28,88.43L528.44,89.23L528.61,89.98L528.78,90.70L528.95,91.35L529.11,91.93L529.28,92.44L529.45,92.86L529.61,93.19L529.78,93.42L529.95,93.54L530.12,93.57L530.28,93.49L530.45,93.31L530.62,93.03L530.79,92.66L530.95,92.19L531.12,91.65L531.29,91.03L531.46,90.35L531.62,89.61L531.79,88.83L531.96,88.03L532.13,87.21L532.29,86.38L532.46,85.57L532.63,84.77L532.79,84.02L532.96,83.30L533.13,82.65L533.30,82.07L533.46,81.56L533.63,81.14L533.80,80.81L533.97,80.58L534.13,80.46L534.30,80.43L534.47,80.51L534.64,80.69L534.80,80.97L534.97,81.34L535.14,81.81L535.31,82.35L535.47,82.97L535.64,83.65L535.81,84.39L535.97,85.17L536.14,85.97L536.31,86.79L536.48,87.62L536.64,88.43L536.81,89.23L536.98,89.98L537.15,90.70L537.31,91.35L537.48,91.93L537.65,92.44L537.82,92.86L537.98,93.19L538.15,93.42L538.32,93.54L538.49,93.57L538.65,93.49L538.82,93.31L538.99,93.03L539.15,92.66L539.32,92.19L539.49,91.65L539.66,91.03L539.82,90.35L539.99,89.61L540.16,88.83L540.33,88.03L540.49,87.21L540.66,86.38L540.83,85.57L541.00,84.77L541.16,84.02L541.33,83.30L541.50,82.65L541.67,82.07L541.83,81.56L542.00,81.14L542.17,80.81L542.33,80.58L542.50,80.46L542.67,80.43L542.84,80.51L543.00,80.69L543.17,80.97L543.34,81.34L543.51,81.81L543.67,82.35L543.84,82.97L544.01,83.65L544.18,84.39L544.34,85.17L544.51,85.97L544.68,86.79L544.85,87.62L545.01,88.43L545.18,89.23L545.35,89.98L545.51,90.70L545.68,91.35L545.85,91.93L546.02,92.44L546.18,92.86L546.35,93.19L546.52,93.42L546.69,93.54L546.85,93.57L547.02,93.49L547.19,93.31L547.36,93.03L547.52,92.66L547.69,92.19L547.86,91.65L548.03,91.03L548.19,90.35L548.36,89.61L548.53,88.83L548.69,88.03L548.86,87.21L549.03,86.38L549.20,85.57L549.36,84.77L549.53,84.02L549.70,83.30L549.87,82.65L550.03,82.07L550.20,81.56L550.37,81.14L550.54,80.81L550.70,80.58L550.87,80.46L551.04,80.43L551.21,80.51L551.37,80.69L551.54,80.97L551.71,81.34L551.87,81.81L552.04,82.35L552.21,82.97L552.38,83.65L552.54,84.39L552.71,85.17L552.88,85.97L553.05,86.79L553.21,87.62L553.38,88.43L553.55,89.23L553.72,89.98L553.88,90.70L554.05,91.35L554.22,91.93L554.39,92.44L554.55,92.86L554.72,93.19L554.89,93.42L555.05,93.54L555.22,93.57L555.39,93.49L555.56,93.31L555.72,93.03L555.89,92.66L556.06,92.19L556.23,91.65L556.39,91.03L556.56,90.35L556.73,89.61L556.90,88.83L557.06,88.03L557.23,87.21L557.40,86.38L557.57,85.57L557.73,84.77L557.90,84.02L558.07,83.30L558.24,82.65L558.40,82.07L558.57,81.56L558.74,81.14L558.90,80.81L559.07,80.58L559.24,80.46L559.41,80.43L559.57,80.51L559.74,80.69L559.91,80.97L560.08,81.34L560.24,81.81L560.41,82.35L560.58,82.97L560.75,83.65L560.91,84.39L561.08,85.17L561.25,85.97L561.42,86.79L561.58,87.62L561.75,88.43L561.92,89.23L562.08,89.98L562.25,90.70L562.42,91.35L562.59,91.93L562.75,92.44L562.92,92.86L563.09,93.19L563.26,93.42L563.42,93.54L563.59,93.57L563.76,93.49L563.93,93.31L564.09,93.03L564.26,92.66L564.43,92.19L564.60,91.65L564.76,91.03L564.93,90.35L565.10,89.61L565.26,88.83L565.43,88.03L565.60,87.21L565.77,86.38L565.93,85.57L566.10,84.77L566.27,84.02L566.44,83.30L566.60,82.65L566.77,82.07L566.94,81.56L567.11,81.14L567.27,80.81L567.44,80.58L567.61,80.46L567.78,80.43L567.94,80.51L568.11,80.69L568.28,80.97L568.44,81.34L568.61,81.81L568.78,82.35L568.95,82.97L569.11,83.65L569.28,84.39L569.45,85.17L569.62,85.97L569.78,86.79L569.95,87.62L570.12,88.43L570.29,89.23L570.45,89.98L570.62,90.70L570.79,91.35L570.96,91.93L571.12,92.44L571.29,92.86L571.46,93.19L571.62,93.42L571.79,93.54L571.96,93.57L572.13,93.49L572.29,93.31L572.46,93.03L572.63,92.66L572.80,92.19L572.96,91.65L573.13,91.03L573.30,90.35L573.47,89.61L573.63,88.83L573.80,88.03L573.97,87.21L574.14,86.38L574.30,85.57L574.47,84.77L574.64,84.02L574.80,83.30L574.97,82.65L575.14,82.07L575.31,81.56L575.47,81.14L575.64,80.81L575.81,80.58L575.98,80.46L576.14,80.43L576.31,80.51L576.48,80.69L576.65,80.97L576.81,81.34L576.98,81.81L577.15,82.35L577.32,82.97L577.48,83.65L577.65,84.39L577.82,85.17L577.98,85.97L578.15,86.79L578.32,87.62L578.49,88.43L578.65,89.23L578.82,89.98L578.99,90.70L579.16,91.35L579.32,91.93L579.49,92.44L579.66,92.86L579.83,93.19L579.99,93.42L580.16,93.54L580.33,93.57L580.50,93.49L580.66,93.31L580.83,93.03L581.00,92.66L581.16,92.19L581.33,91.65L581.50,91.03L581.67,90.35L581.83,89.61L582.00,88.83L582.17,88.03L582.34,87.21L582.50,86.38L582.67,85.57L582.84,84.77L583.01,84.02L583.17,83.30L583.34,82.65L583.51,82.07L583.68,81.56L583.84,81.14L584.01,80.81L584.18,80.58L584.34,80.46L584.51,80.43L584.68,80.51L584.85,80.69L585.01,80.97L585.18,81.34L585.35,81.81L585.52,82.35L585.68,82.97L585.85,83.65L586.02,84.39L586.19,85.17L586.35,85.97L586.52,86.79L586.69,87.62L586.86,88.43L587.02,89.23L587.19,89.98L587.36,90.70L587.53,91.35L587.69,91.93L587.86,92.44L588.03,92.86L588.19,93.19L588.36,93.42L588.53,93.54L588.70,93.57L588.86,93.49L589.03,93.31L589.20,93.03L589.37,92.66L589.53,92.19L589.70,91.65L589.87,91.03L590.04,90.35L590.20,89.61L590.37,88.83L590.54,88.03L590.71,87.21L590.87,86.38L591.04,85.57L591.21,84.77L591.37,84.02L591.54,83.30L591.71,82.65L591.88,82.07L592.04,81.56L592.21,81.14L592.38,80.81L592.55,80.58L592.71,80.46L592.88,80.43L593.05,80.51L593.22,80.69L593.38,80.97L593.55,81.34L593.72,81.81L593.89,82.35L594.05,82.97L594.22,83.65L594.39,84.39L594.55,85.17L594.72,85.97L594.89,86.79L595.06,87.62L595.22,88.43L595.39,89.23L595.56,89.98L595.73,90.70L595.89,91.35L596.06,91.93L596.23,92.44L596.40,92.86L596.56,93.19L596.73,93.42L596.90,93.54L597.07,93.57L597.23,93.49L597.40,93.31L597.57,93.03L597.73,92.66L597.90,92.19L598.07,91.65L598.24,91.03L598.40,90.35L598.57,89.61L598.74,88.83L598.91,88.03L599.07,87.21L599.24,86.38L599.41,85.57L599.58,84.77L599.74,84.02L599.91,83.30L600.08,82.65L600.25,82.07L600.41,81.56L600.58,81.14L600.75,80.81L600.91,80.58L601.08,80.46L601.25,80.43L601.42,80.51L601.58,80.69L601.75,80.97L601.92,81.34L602.09,81.81L602.25,82.35L602.42,82.97L602.59,83.65L602.76,84.39L602.92,85.17L603.09,85.97L603.26,86.79L603.43,87.62L603.59,88.43L603.76,89.23L603.93,89.98L604.09,90.70L604.26,91.35L604.43,91.93L604.60,92.44L604.76,92.86L604.93,93.19L605.10,93.42L605.27,93.54L605.43,93.57L605.60,93.49L605.77,93.31L605.94,93.03L606.10,92.66L606.27,92.19L606.44,91.65L606.61,91.03L606.77,90.35L606.94,89.61L607.11,88.83L607.27,88.03L607.44,87.21L607.61,86.38L607.78,85.57L607.94,84.77L608.11,84.02L608.28,83.30L608.45,82.65L608.61,82.07L608.78,81.56L608.95,81.14L609.12,80.81L609.28,80.58L609.45,80.46L609.62,80.43L609.79,80.51L609.95,80.69L610.12,80.97L610.29,81.34L610.45,81.81L610.62,82.35L610.79,82.97L610.96,83.65L611.12,84.39L611.29,85.17L611.46,85.97L611.63,86.79L611.79,87.62L611.96,88.43L612.13,89.23L612.30,89.98L612.46,90.70L612.63,91.35L612.80,91.93L612.97,92.44L613.13,92.86L613.30,93.19L613.47,93.42L613.63,93.54L613.80,93.57L613.97,93.49L614.14,93.31L614.30,93.03L614.47,92.66L614.64,92.19L614.81,91.65L614.97,91.03L615.14,90.35L615.31,89.61L615.48,88.83L615.64,88.03L615.81,87.21L615.98,86.38L616.15,85.57L616.31,84.77L616.48,84.02L616.65,83.30L616.82,82.65L616.98,82.07L617.15,81.56L617.32,81.14L617.48,80.81L617.65,80.58L617.82,80.46L617.99,80.43L618.15,80.51L618.32,80.69L618.49,80.97L618.66,81.34L618.82,81.81L618.99,82.35L619.16,82.97L619.33,83.65L619.49,84.39L619.66,85.17L619.83,85.97L620.00,86.79L620.16,87.62L620.33,88.43L620.50,89.23L620.66,89.98L620.83,90.70L621.00,91.35L621.17,91.93L621.33,92.44L621.50,92.86L621.67,93.19L621.84,93.42L622.00,93.54L622.17,93.57L622.34,93.49L622.51,93.31L622.67,93.03L622.84,92.66L623.01,92.19L623.18,91.65L623.34,91.03L623.51,90.35L623.68,89.61L623.84,88.83L624.01,88.03L624.18,87.21L624.35,86.38L624.51,85.57L624.68,84.77L624.85,84.02L625.02,83.30L625.18,82.65L625.35,82.07L625.52,81.56L625.69,81.14L625.85,80.81L626.02,80.58L626.19,80.46L626.36,80.43L626.52,80.51L626.69,80.69L626.86,80.97L627.02,81.34L627.19,81.81L627.36,82.35L627.53,82.97L627.69,83.65L627.86,84.39L628.03,85.17L628.20,85.97L628.36,86.79L628.53,87.62L628.70,88.43L628.87,89.23L629.03,89.98L629.20,90.70L629.37,91.35L629.54,91.93L629.70,92.44L629.87,92.86L630.04,93.19L630.20,93.42L630.37,93.54L630.54,93.57L630.71,93.49L630.87,93.31L631.04,93.03L631.21,92.66L631.38,92.19L631.54,91.65L631.71,91.03L631.88,90.35L632.05,89.61L632.21,88.83L632.38,88.03L632.55,87.21L632.72,86.38L632.88,85.57L633.05,84.77L633.22,84.02L633.38,83.30L633.55,82.65L633.72,82.07L633.89,81.56L634.05,81.14L634.22,80.81L634.39,80.58L634.56,80.46L634.72,80.43L634.89,80.51L635.06,80.69L635.23,80.97L635.39,81.34L635.56,81.81L635.73,82.35L635.90,82.97L636.06,83.65L636.23,84.39L636.40,85.17L636.56,85.97L636.73,86.79L636.90,87.62L637.07,88.43L637.23,89.23L637.40,89.98L637.57,90.70L637.74,91.35L637.90,91.93L638.07,92.44L638.24,92.86L638.41,93.19L638.57,93.42L638.74,93.54L638.91,93.57L639.08,93.49L639.24,93.31L639.41,93.03L639.58,92.66L639.74,92.19L639.91,91.65L640.08,91.03L640.25,90.35L640.41,89.61L640.58,88.83L640.75,88.03L640.92,87.21L641.08,86.38L641.25,85.57L641.42,84.77L641.59,84.02L641.75,83.30L641.92,82.65L642.09,82.07L642.26,81.56L642.42,81.14L642.59,80.81L642.76,80.58L642.92,80.46L643.09,80.43L643.26,80.51L643.43,80.69L643.59,80.97L643.76,81.34L643.93,81.81L644.10,82.35L644.26,82.97L644.43,83.65L644.60,84.39L644.77,85.17L644.93,85.97L645.10,86.79L645.27,87.62L645.44,88.43L645.60,89.23L645.77,89.98L645.94,90.70L646.11,91.35L646.27,91.93L646.44,92.44L646.61,92.86L646.77,93.19L646.94,93.42L647.11,93.54L647.28,93.57L647.44,93.49L647.61,93.31L647.78,93.03L647.95,92.66L648.11,92.19L648.28,91.65L648.45,91.03L648.62,90.35L648.78,89.61L648.95,88.83L649.12,88.03L649.29,87.21L649.45,86.38L649.62,85.57L649.79,84.77L649.95,84.02L650.12,83.30L650.29,82.65L650.46,82.07L650.62,81.56L650.79,81.14L650.96,80.81L651.13,80.58L651.29,80.46L651.46,80.43L651.63,80.51L651.80,80.69L651.96,80.97L652.13,81.34L652.30,81.81L652.47,82.35L652.63,82.97L652.80,83.65L652.97,84.39L653.13,85.17L653.30,85.97L653.47,86.79L653.64,87.62L653.80,88.43L653.97,89.23L654.14,89.98L654.31,90.70L654.47,91.35L654.64,91.93L654.81,92.44L654.98,92.86L655.14,93.19L655.31,93.42L655.48,93.54L655.65,93.57L655.81,93.49L655.98,93.31L656.15,93.03L656.31,92.66L656.48,92.19L656.65,91.65L656.82,91.03L656.98,90.35L657.15,89.61L657.32,88.83L657.49,88.03L657.65,87.21L657.82,86.38L657.99,85.57L658.16,84.77L658.32,84.02L658.49,83.30L658.66,82.65L658.83,82.07L658.99,81.56L659.16,81.14L659.33,80.81L659.49,80.58L659.66,80.46L659.83,80.43L660.00,80.51L660.16,80.69L660.33,80.97L660.50,81.34L660.67,81.81L660.83,82.35L661.00,82.97L661.17,83.65L661.34,84.39L661.50,85.17L661.67,85.97L661.84,86.79L662.01,87.62L662.17,88.43L662.34,89.23L662.51,89.98L662.67,90.70L662.84,91.35L663.01,91.93L663.18,92.44L663.34,92.86L663.51,93.19L663.68,93.42L663.85,93.54L664.01,93.57L664.18,93.49L664.35,93.31L664.52,93.03L664.68,92.66L664.85,92.19L665.02,91.65L665.19,91.03L665.35,90.35L665.52,89.61L665.69,88.83L665.85,88.03L666.02,87.21L666.19,86.38L666.36,85.57L666.52,84.77L666.69,84.02L666.86,83.30L667.03,82.65L667.19,82.07L667.36,81.56L667.53,81.14L667.70,80.81L667.86,80.58L668.03,80.46L668.20,80.43L668.37,80.51L668.53,80.69L668.70,80.97L668.87,81.34L669.03,81.81L669.20,82.35L669.37,82.97L669.54,83.65L669.70,84.39L669.87,85.17L670.04,85.97L670.21,86.79L670.37,87.62L670.54,88.43L670.71,89.23L670.88,89.98L671.04,90.70L671.21,91.35L671.38,91.93L671.55,92.44L671.71,92.86L671.88,93.19L672.05,93.42L672.21,93.54L672.38,93.57L672.55,93.49L672.72,93.31L672.88,93.03L673.05,92.66L673.22,92.19L673.39,91.65L673.55,91.03L673.72,90.35L673.89,89.61L674.06,88.83L674.22,88.03L674.39,87.21L674.56,86.38" stroke="#b8107c" class="ln" stroke-width="2.2"/>
<path d="M381.70,87.00L381.75,87.56L381.81,88.32L381.88,89.23L381.96,90.23L382.04,91.27L382.12,92.29L382.19,93.34L382.26,94.47L382.33,95.64L382.40,96.81L382.47,97.94L382.54,99.01L382.61,100.02L382.67,101.01L382.74,101.96L382.81,102.87L382.88,103.73L382.96,104.51L383.03,105.26L383.11,106.00L383.18,106.69L383.26,107.26L383.34,107.68L383.42,107.90L383.49,107.90L383.57,107.72L383.65,107.38L383.73,106.92L383.81,106.34L383.88,105.68L383.94,104.92L383.99,104.03L384.05,103.03L384.10,101.95L384.15,100.79L384.21,99.59L384.28,98.31L384.34,96.91L384.41,95.45L384.49,93.97L384.56,92.50L384.63,91.08L384.70,89.74L384.77,88.44L384.84,87.15L384.91,85.86L384.98,84.54L385.05,83.17L385.11,81.72L385.17,80.23L385.22,78.70L385.27,77.18L385.33,75.67L385.38,74.21L385.44,72.80L385.49,71.39L385.55,70.01L385.61,68.66L385.66,67.34L385.72,66.07L385.77,64.83L385.83,63.63L385.88,62.46L385.94,61.33L386.00,60.26L386.05,59.24L386.11,58.23L386.18,57.22L386.24,56.26L386.30,55.40L386.35,54.68L386.39,54.15L386.55,52.36L386.72,51.12L386.89,50.45L387.06,50.36L387.22,50.84L387.39,51.89L387.56,53.50L387.73,55.63L387.89,58.26L388.06,61.35L388.23,64.83L388.39,68.67L388.56,72.80L388.73,77.15L388.90,81.66L389.06,86.25L389.23,90.86L389.40,95.40L389.57,99.81L389.73,104.02L389.90,107.96L390.07,111.58L390.24,114.80L390.40,117.58L390.57,119.88L390.74,121.66L390.91,122.89L391.07,123.55L391.24,123.63L391.41,123.13L391.57,122.05L391.74,120.42L391.91,118.24L392.08,115.57L392.24,112.44L392.41,108.89L392.58,104.98L392.75,100.78L392.91,96.35L393.08,91.76L393.25,87.08L393.42,82.39L393.58,77.76L393.75,73.27L393.92,69.00L394.09,65.02L394.25,61.40L394.42,58.20L394.59,55.50L394.75,53.34L394.92,51.76L395.09,50.82L395.26,50.53L395.42,50.92L395.59,51.99L395.76,53.73L395.93,56.11L396.09,59.11L396.26,62.66L396.43,66.69L396.60,71.12L396.76,75.86L396.93,80.80L397.10,85.83L397.27,90.84L397.43,95.70L397.60,100.32L397.77,104.59L397.94,108.42L398.10,111.74L398.27,114.47L398.44,116.58L398.60,118.03L398.77,118.81L398.94,118.92L399.11,118.39L399.27,117.26L399.44,115.58L399.61,113.41L399.78,110.83L399.94,107.94L400.11,104.82L400.28,101.56L400.45,98.28L400.61,95.05L400.78,91.94L400.95,89.04L401.12,86.40L401.28,84.04L401.45,82.00L401.62,80.29L401.78,78.90L401.95,77.82L402.12,77.03L402.29,76.50L402.45,76.20L402.62,76.12L402.79,76.21L402.96,76.46L403.12,76.84L403.29,77.33L403.46,77.92L403.63,78.58L403.79,79.31L403.96,80.10L404.13,80.93L404.30,81.80L404.46,82.70L404.63,83.61L404.80,84.54L404.96,85.47L405.13,86.39L405.30,87.30L405.47,88.18L405.63,89.02L405.80,89.83L405.97,90.57L406.14,91.26L406.30,91.87L406.47,92.40L406.64,92.85L406.81,93.20L406.97,93.46L407.14,93.62L407.31,93.67L407.48,93.62L407.64,93.47L407.81,93.22L407.98,92.88L408.14,92.44L408.31,91.92L408.48,91.32L408.65,90.66L408.81,89.93L408.98,89.17L409.15,88.37L409.32,87.55L409.48,86.72L409.65,85.90L409.82,85.10L409.99,84.32L410.15,83.59L410.32,82.91L410.49,82.30L410.66,81.76L410.82,81.30L410.99,80.94L411.16,80.66L411.32,80.49L411.49,80.42L411.66,80.46L411.83,80.60L411.99,80.84L412.16,81.17L412.33,81.60L412.50,82.11L412.66,82.70L412.83,83.36L413.00,84.08L413.17,84.84L413.33,85.63L413.50,86.45L413.67,87.28L413.84,88.10L414.00,88.90L414.17,89.67L414.34,90.41L414.50,91.08L414.67,91.70L414.84,92.24L415.01,92.69L415.17,93.06L415.34,93.33L415.51,93.50L415.68,93.57L415.84,93.54L416.01,93.40L416.18,93.16L416.35,92.83L416.51,92.40L416.68,91.89L416.85,91.30L417.02,90.64L417.18,89.92L417.35,89.16L417.52,88.37L417.68,87.55L417.85,86.72L418.02,85.90L418.19,85.10L418.35,84.33L418.52,83.59L418.69,82.92L418.86,82.30L419.02,81.76L419.19,81.31L419.36,80.94L419.53,80.67L419.69,80.50L419.86,80.43L420.03,80.46L420.20,80.60L420.36,80.84L420.53,81.17L420.70,81.60L420.86,82.11L421.03,82.70L421.20,83.36L421.37,84.08L421.53,84.84L421.70,85.63L421.87,86.45L422.04,87.28L422.20,88.10L422.37,88.90L422.54,89.67L422.71,90.41L422.87,91.08L423.04,91.70L423.21,92.24L423.38,92.69L423.54,93.06L423.71,93.33L423.88,93.50L424.04,93.57L424.21,93.54L424.38,93.40L424.55,93.16L424.71,92.83L424.88,92.40L425.05,91.89L425.22,91.30L425.38,90.64L425.55,89.92L425.72,89.16L425.89,88.37L426.05,87.55L426.22,86.72L426.39,85.90L426.56,85.10L426.72,84.33L426.89,83.59L427.06,82.92L427.23,82.30L427.39,81.76L427.56,81.31L427.73,80.94L427.89,80.67L428.06,80.50L428.23,80.43L428.40,80.46L428.56,80.60L428.73,80.84L428.90,81.17L429.07,81.60L429.23,82.11L429.40,82.70L429.57,83.36L429.74,84.08L429.90,84.84L430.07,85.63L430.24,86.45L430.41,87.28L430.57,88.10L430.74,88.90L430.91,89.67L431.07,90.41L431.24,91.08L431.41,91.70L431.58,92.24L431.74,92.69L431.91,93.06L432.08,93.33L432.25,93.50L432.41,93.57L432.58,93.54L432.75,93.40L432.92,93.16L433.08,92.83L433.25,92.40L433.42,91.89L433.59,91.30L433.75,90.64L433.92,89.92L434.09,89.16L434.25,88.37L434.42,87.55L434.59,86.72L434.76,85.90L434.92,85.10L435.09,84.33L435.26,83.59L435.43,82.92L435.59,82.30L435.76,81.76L435.93,81.31L436.10,80.94L436.26,80.67L436.43,80.50L436.60,80.43L436.77,80.46L436.93,80.60L437.10,80.84L437.27,81.17L437.43,81.60L437.60,82.11L437.77,82.70L437.94,83.36L438.10,84.08L438.27,84.84L438.44,85.63L438.61,86.45L438.77,87.28L438.94,88.10L439.11,88.90L439.28,89.67L439.44,90.41L439.61,91.08L439.78,91.70L439.95,92.24L440.11,92.69L440.28,93.06L440.45,93.33L440.61,93.50L440.78,93.57L440.95,93.54L441.12,93.40L441.28,93.16L441.45,92.83L441.62,92.40L441.79,91.89L441.95,91.30L442.12,90.64L442.29,89.92L442.46,89.16L442.62,88.37L442.79,87.55L442.96,86.72L443.13,85.90L443.29,85.10L443.46,84.33L443.63,83.59L443.79,82.92L443.96,82.30L444.13,81.76L444.30,81.31L444.46,80.94L444.63,80.67L444.80,80.50L444.97,80.43L445.13,80.46L445.30,80.60L445.47,80.84L445.64,81.17L445.80,81.60L445.97,82.11L446.14,82.70L446.31,83.36L446.47,84.08L446.64,84.84L446.81,85.63L446.97,86.45L447.14,87.28L447.31,88.10L447.48,88.90L447.64,89.67L447.81,90.41L447.98,91.08L448.15,91.70L448.31,92.24L448.48,92.69L448.65,93.06L448.82,93.33L448.98,93.50L449.15,93.57L449.32,93.54L449.49,93.40L449.65,93.16L449.82,92.83L449.99,92.40L450.15,91.89L450.32,91.30L450.49,90.64L450.66,89.92L450.82,89.16L450.99,88.37L451.16,87.55L451.33,86.72L451.49,85.90L451.66,85.10L451.83,84.33L452.00,83.59L452.16,82.92L452.33,82.30L452.50,81.76L452.67,81.31L452.83,80.94L453.00,80.67L453.17,80.50L453.33,80.43L453.50,80.46L453.67,80.60L453.84,80.84L454.00,81.17L454.17,81.60L454.34,82.11L454.51,82.70L454.67,83.36L454.84,84.08L455.01,84.84L455.18,85.63L455.34,86.45L455.51,87.28L455.68,88.10L455.85,88.90L456.01,89.67L456.18,90.41L456.35,91.08L456.52,91.70L456.68,92.24L456.85,92.69L457.02,93.06L457.18,93.33L457.35,93.50L457.52,93.57L457.69,93.54L457.85,93.40L458.02,93.16L458.19,92.83L458.36,92.40L458.52,91.89L458.69,91.30L458.86,90.64L459.03,89.92L459.19,89.16L459.36,88.37L459.53,87.55L459.70,86.72L459.86,85.90L460.03,85.10L460.20,84.33L460.36,83.59L460.53,82.92L460.70,82.30L460.87,81.76L461.03,81.31L461.20,80.94L461.37,80.67L461.54,80.50L461.70,80.43L461.87,80.46L462.04,80.60L462.21,80.84L462.37,81.17L462.54,81.60L462.71,82.11L462.88,82.70L463.04,83.36L463.21,84.08L463.38,84.84L463.54,85.63L463.71,86.45L463.88,87.28L464.05,88.10L464.21,88.90L464.38,89.67L464.55,90.41L464.72,91.08L464.88,91.70L465.05,92.24L465.22,92.69L465.39,93.06L465.55,93.33L465.72,93.50L465.89,93.57L466.06,93.54L466.22,93.40L466.39,93.16L466.56,92.83L466.72,92.40L466.89,91.89L467.06,91.30L467.23,90.64L467.39,89.92L467.56,89.16L467.73,88.37L467.90,87.55L468.06,86.72L468.23,85.90L468.40,85.10L468.57,84.33L468.73,83.59L468.90,82.92L469.07,82.30L469.24,81.76L469.40,81.31L469.57,80.94L469.74,80.67L469.90,80.50L470.07,80.43L470.24,80.46L470.41,80.60L470.57,80.84L470.74,81.17L470.91,81.60L471.08,82.11L471.24,82.70L471.41,83.36L471.58,84.08L471.75,84.84L471.91,85.63L472.08,86.45L472.25,87.28L472.42,88.10L472.58,88.90L472.75,89.67L472.92,90.41L473.08,91.08L473.25,91.70L473.42,92.24L473.59,92.69L473.75,93.06L473.92,93.33L474.09,93.50L474.26,93.57L474.42,93.54L474.59,93.40L474.76,93.16L474.93,92.83L475.09,92.40L475.26,91.89L475.43,91.30L475.60,90.64L475.76,89.92L475.93,89.16L476.10,88.37L476.26,87.55L476.43,86.72L476.60,85.90L476.77,85.10L476.93,84.33L477.10,83.59L477.27,82.92L477.44,82.30L477.60,81.76L477.77,81.31L477.94,80.94L478.11,80.67L478.27,80.50L478.44,80.43L478.61,80.46L478.78,80.60L478.94,80.84L479.11,81.17L479.28,81.60L479.44,82.11L479.61,82.70L479.78,83.36L479.95,84.08L480.11,84.84L480.28,85.63L480.45,86.45L480.62,87.28L480.78,88.10L480.95,88.90L481.12,89.67L481.29,90.41L481.45,91.08L481.62,91.70L481.79,92.24L481.96,92.69L482.12,93.06L482.29,93.33L482.46,93.50L482.62,93.57L482.79,93.54L482.96,93.40L483.13,93.16L483.29,92.83L483.46,92.40L483.63,91.89L483.80,91.30L483.96,90.64L484.13,89.92L484.30,89.16L484.47,88.37L484.63,87.55L484.80,86.72L484.97,85.90L485.14,85.10L485.30,84.33L485.47,83.59L485.64,82.92L485.81,82.30L485.97,81.76L486.14,81.31L486.31,80.94L486.47,80.67L486.64,80.50L486.81,80.43L486.98,80.46L487.14,80.60L487.31,80.84L487.48,81.17L487.65,81.60L487.81,82.11L487.98,82.70L488.15,83.36L488.32,84.08L488.48,84.84L488.65,85.63L488.82,86.45L488.99,87.28L489.15,88.10L489.32,88.90L489.49,89.67L489.65,90.41L489.82,91.08L489.99,91.70L490.16,92.24L490.32,92.69L490.49,93.06L490.66,93.33L490.83,93.50L490.99,93.57L491.16,93.54L491.33,93.40L491.50,93.16L491.66,92.83L491.83,92.40L492.00,91.89L492.17,91.30L492.33,90.64L492.50,89.92L492.67,89.16L492.83,88.37L493.00,87.55L493.17,86.72L493.34,85.90L493.50,85.10L493.67,84.33L493.84,83.59L494.01,82.92L494.17,82.30L494.34,81.76L494.51,81.31L494.68,80.94L494.84,80.67L495.01,80.50L495.18,80.43L495.35,80.46L495.51,80.60L495.68,80.84L495.85,81.17L496.01,81.60L496.18,82.11L496.35,82.70L496.52,83.36L496.68,84.08L496.85,84.84L497.02,85.63L497.19,86.45L497.35,87.28L497.52,88.10L497.69,88.90L497.86,89.67L498.02,90.41L498.19,91.08L498.36,91.70L498.53,92.24L498.69,92.69L498.86,93.06L499.03,93.33L499.19,93.50L499.36,93.57L499.53,93.54L499.70,93.40L499.86,93.16L500.03,92.83L500.20,92.40L500.37,91.89L500.53,91.30L500.70,90.64L500.87,89.92L501.04,89.16L501.20,88.37L501.37,87.55L501.54,86.72L501.71,85.90L501.87,85.10L502.04,84.33L502.21,83.59L502.37,82.92L502.54,82.30L502.71,81.76L502.88,81.31L503.04,80.94L503.21,80.67L503.38,80.50L503.55,80.43L503.71,80.46L503.88,80.60L504.05,80.84L504.22,81.17L504.38,81.60L504.55,82.11L504.72,82.70L504.89,83.36L505.05,84.08L505.22,84.84L505.39,85.63L505.55,86.45L505.72,87.28L505.89,88.10L506.06,88.90L506.22,89.67L506.39,90.41L506.56,91.08L506.73,91.70L506.89,92.24L507.06,92.69L507.23,93.06L507.40,93.33L507.56,93.50L507.73,93.57L507.90,93.54L508.07,93.40L508.23,93.16L508.40,92.83L508.57,92.40L508.73,91.89L508.90,91.30L509.07,90.64L509.24,89.92L509.40,89.16L509.57,88.37L509.74,87.55L509.91,86.72L510.07,85.90L510.24,85.10L510.41,84.33L510.58,83.59L510.74,82.92L510.91,82.30L511.08,81.76L511.25,81.31L511.41,80.94L511.58,80.67L511.75,80.50L511.91,80.43L512.08,80.46L512.25,80.60L512.42,80.84L512.58,81.17L512.75,81.60L512.92,82.11L513.09,82.70L513.25,83.36L513.42,84.08L513.59,84.84L513.76,85.63L513.92,86.45L514.09,87.28L514.26,88.10L514.43,88.90L514.59,89.67L514.76,90.41L514.93,91.08L515.10,91.70L515.26,92.24L515.43,92.69L515.60,93.06L515.76,93.33L515.93,93.50L516.10,93.57L516.27,93.54L516.43,93.40L516.60,93.16L516.77,92.83L516.94,92.40L517.10,91.89L517.27,91.30L517.44,90.64L517.61,89.92L517.77,89.16L517.94,88.37L518.11,87.55L518.28,86.72L518.44,85.90L518.61,85.10L518.78,84.33L518.94,83.59L519.11,82.92L519.28,82.30L519.45,81.76L519.61,81.31L519.78,80.94L519.95,80.67L520.12,80.50L520.28,80.43L520.45,80.46L520.62,80.60L520.79,80.84L520.95,81.17L521.12,81.60L521.29,82.11L521.46,82.70L521.62,83.36L521.79,84.08L521.96,84.84L522.12,85.63L522.29,86.45L522.46,87.28L522.63,88.10L522.79,88.90L522.96,89.67L523.13,90.41L523.30,91.08L523.46,91.70L523.63,92.24L523.80,92.69L523.97,93.06L524.13,93.33L524.30,93.50L524.47,93.57L524.64,93.54L524.80,93.40L524.97,93.16L525.14,92.83L525.30,92.40L525.47,91.89L525.64,91.30L525.81,90.64L525.97,89.92L526.14,89.16L526.31,88.37L526.48,87.55L526.64,86.72L526.81,85.90L526.98,85.10L527.15,84.33L527.31,83.59L527.48,82.92L527.65,82.30L527.82,81.76L527.98,81.31L528.15,80.94L528.32,80.67L528.48,80.50L528.65,80.43L528.82,80.46L528.99,80.60L529.15,80.84L529.32,81.17L529.49,81.60L529.66,82.11L529.82,82.70L529.99,83.36L530.16,84.08L530.33,84.84L530.49,85.63L530.66,86.45L530.83,87.28L531.00,88.10L531.16,88.90L531.33,89.67L531.50,90.41L531.66,91.08L531.83,91.70L532.00,92.24L532.17,92.69L532.33,93.06L532.50,93.33L532.67,93.50L532.84,93.57L533.00,93.54L533.17,93.40L533.34,93.16L533.51,92.83L533.67,92.40L533.84,91.89L534.01,91.30L534.18,90.64L534.34,89.92L534.51,89.16L534.68,88.37L534.84,87.55L535.01,86.72L535.18,85.90L535.35,85.10L535.51,84.33L535.68,83.59L535.85,82.92L536.02,82.30L536.18,81.76L536.35,81.31L536.52,80.94L536.69,80.67L536.85,80.50L537.02,80.43L537.19,80.46L537.36,80.60L537.52,80.84L537.69,81.17L537.86,81.60L538.02,82.11L538.19,82.70L538.36,83.36L538.53,84.08L538.69,84.84L538.86,85.63L539.03,86.45L539.20,87.28L539.36,88.10L539.53,88.90L539.70,89.67L539.87,90.41L540.03,91.08L540.20,91.70L540.37,92.24L540.54,92.69L540.70,93.06L540.87,93.33L541.04,93.50L541.20,93.57L541.37,93.54L541.54,93.40L541.71,93.16L541.87,92.83L542.04,92.40L542.21,91.89L542.38,91.30L542.54,90.64L542.71,89.92L542.88,89.16L543.05,88.37L543.21,87.55L543.38,86.72L543.55,85.90L543.72,85.10L543.88,84.33L544.05,83.59L544.22,82.92L544.39,82.30L544.55,81.76L544.72,81.31L544.89,80.94L545.05,80.67L545.22,80.50L545.39,80.43L545.56,80.46L545.72,80.60L545.89,80.84L546.06,81.17L546.23,81.60L546.39,82.11L546.56,82.70L546.73,83.36L546.90,84.08L547.06,84.84L547.23,85.63L547.40,86.45L547.57,87.28L547.73,88.10L547.90,88.90L548.07,89.67L548.23,90.41L548.40,91.08L548.57,91.70L548.74,92.24L548.90,92.69L549.07,93.06L549.24,93.33L549.41,93.50L549.57,93.57L549.74,93.54L549.91,93.40L550.08,93.16L550.24,92.83L550.41,92.40L550.58,91.89L550.75,91.30L550.91,90.64L551.08,89.92L551.25,89.16L551.41,88.37L551.58,87.55L551.75,86.72L551.92,85.90L552.08,85.10L552.25,84.33L552.42,83.59L552.59,82.92L552.75,82.30L552.92,81.76L553.09,81.31L553.26,80.94L553.42,80.67L553.59,80.50L553.76,80.43L553.93,80.46L554.09,80.60L554.26,80.84L554.43,81.17L554.59,81.60L554.76,82.11L554.93,82.70L555.10,83.36L555.26,84.08L555.43,84.84L555.60,85.63L555.77,86.45L555.93,87.28L556.10,88.10L556.27,88.90L556.44,89.67L556.60,90.41L556.77,91.08L556.94,91.70L557.11,92.24L557.27,92.69L557.44,93.06L557.61,93.33L557.77,93.50L557.94,93.57L558.11,93.54L558.28,93.40L558.44,93.16L558.61,92.83L558.78,92.40L558.95,91.89L559.11,91.30L559.28,90.64L559.45,89.92L559.62,89.16L559.78,88.37L559.95,87.55L560.12,86.72L560.29,85.90L560.45,85.10L560.62,84.33L560.79,83.59L560.95,82.92L561.12,82.30L561.29,81.76L561.46,81.31L561.62,80.94L561.79,80.67L561.96,80.50L562.13,80.43L562.29,80.46L562.46,80.60L562.63,80.84L562.80,81.17L562.96,81.60L563.13,82.11L563.30,82.70L563.47,83.36L563.63,84.08L563.80,84.84L563.97,85.63L564.13,86.45L564.30,87.28L564.47,88.10L564.64,88.90L564.80,89.67L564.97,90.41L565.14,91.08L565.31,91.70L565.47,92.24L565.64,92.69L565.81,93.06L565.98,93.33L566.14,93.50L566.31,93.57L566.48,93.54L566.65,93.40L566.81,93.16L566.98,92.83L567.15,92.40L567.31,91.89L567.48,91.30L567.65,90.64L567.82,89.92L567.98,89.16L568.15,88.37L568.32,87.55L568.49,86.72L568.65,85.90L568.82,85.10L568.99,84.33L569.16,83.59L569.32,82.92L569.49,82.30L569.66,81.76L569.83,81.31L569.99,80.94L570.16,80.67L570.33,80.50L570.49,80.43L570.66,80.46L570.83,80.60L571.00,80.84L571.16,81.17L571.33,81.60L571.50,82.11L571.67,82.70L571.83,83.36L572.00,84.08L572.17,84.84L572.34,85.63L572.50,86.45L572.67,87.28L572.84,88.10L573.01,88.90L573.17,89.67L573.34,90.41L573.51,91.08L573.68,91.70L573.84,92.24L574.01,92.69L574.18,93.06L574.34,93.33L574.51,93.50L574.68,93.57L574.85,93.54L575.01,93.40L575.18,93.16L575.35,92.83L575.52,92.40L575.68,91.89L575.85,91.30L576.02,90.64L576.19,89.92L576.35,89.16L576.52,88.37L576.69,87.55L576.86,86.72L577.02,85.90L577.19,85.10L577.36,84.33L577.52,83.59L577.69,82.92L577.86,82.30L578.03,81.76L578.19,81.31L578.36,80.94L578.53,80.67L578.70,80.50L578.86,80.43L579.03,80.46L579.20,80.60L579.37,80.84L579.53,81.17L579.70,81.60L579.87,82.11L580.04,82.70L580.20,83.36L580.37,84.08L580.54,84.84L580.70,85.63L580.87,86.45L581.04,87.28L581.21,88.10L581.37,88.90L581.54,89.67L581.71,90.41L581.88,91.08L582.04,91.70L582.21,92.24L582.38,92.69L582.55,93.06L582.71,93.33L582.88,93.50L583.05,93.57L583.22,93.54L583.38,93.40L583.55,93.16L583.72,92.83L583.88,92.40L584.05,91.89L584.22,91.30L584.39,90.64L584.55,89.92L584.72,89.16L584.89,88.37L585.06,87.55L585.22,86.72L585.39,85.90L585.56,85.10L585.73,84.33L585.89,83.59L586.06,82.92L586.23,82.30L586.40,81.76L586.56,81.31L586.73,80.94L586.90,80.67L587.06,80.50L587.23,80.43L587.40,80.46L587.57,80.60L587.73,80.84L587.90,81.17L588.07,81.60L588.24,82.11L588.40,82.70L588.57,83.36L588.74,84.08L588.91,84.84L589.07,85.63L589.24,86.45L589.41,87.28L589.58,88.10L589.74,88.90L589.91,89.67L590.08,90.41L590.24,91.08L590.41,91.70L590.58,92.24L590.75,92.69L590.91,93.06L591.08,93.33L591.25,93.50L591.42,93.57L591.58,93.54L591.75,93.40L591.92,93.16L592.09,92.83L592.25,92.40L592.42,91.89L592.59,91.30L592.76,90.64L592.92,89.92L593.09,89.16L593.26,88.37L593.42,87.55L593.59,86.72L593.76,85.90L593.93,85.10L594.09,84.33L594.26,83.59L594.43,82.92L594.60,82.30L594.76,81.76L594.93,81.31L595.10,80.94L595.27,80.67L595.43,80.50L595.60,80.43L595.77,80.46L595.94,80.60L596.10,80.84L596.27,81.17L596.44,81.60L596.60,82.11L596.77,82.70L596.94,83.36L597.11,84.08L597.27,84.84L597.44,85.63L597.61,86.45L597.78,87.28L597.94,88.10L598.11,88.90L598.28,89.67L598.45,90.41L598.61,91.08L598.78,91.70L598.95,92.24L599.12,92.69L599.28,93.06L599.45,93.33L599.62,93.50L599.78,93.57L599.95,93.54L600.12,93.40L600.29,93.16L600.45,92.83L600.62,92.40L600.79,91.89L600.96,91.30L601.12,90.64L601.29,89.92L601.46,89.16L601.63,88.37L601.79,87.55L601.96,86.72L602.13,85.90L602.30,85.10L602.46,84.33L602.63,83.59L602.80,82.92L602.97,82.30L603.13,81.76L603.30,81.31L603.47,80.94L603.63,80.67L603.80,80.50L603.97,80.43L604.14,80.46L604.30,80.60L604.47,80.84L604.64,81.17L604.81,81.60L604.97,82.11L605.14,82.70L605.31,83.36L605.48,84.08L605.64,84.84L605.81,85.63L605.98,86.45L606.15,87.28L606.31,88.10L606.48,88.90L606.65,89.67L606.81,90.41L606.98,91.08L607.15,91.70L607.32,92.24L607.48,92.69L607.65,93.06L607.82,93.33L607.99,93.50L608.15,93.57L608.32,93.54L608.49,93.40L608.66,93.16L608.82,92.83L608.99,92.40L609.16,91.89L609.33,91.30L609.49,90.64L609.66,89.92L609.83,89.16L609.99,88.37L610.16,87.55L610.33,86.72L610.50,85.90L610.66,85.10L610.83,84.33L611.00,83.59L611.17,82.92L611.33,82.30L611.50,81.76L611.67,81.31L611.84,80.94L612.00,80.67L612.17,80.50L612.34,80.43L612.51,80.46L612.67,80.60L612.84,80.84L613.01,81.17L613.17,81.60L613.34,82.11L613.51,82.70L613.68,83.36L613.84,84.08L614.01,84.84L614.18,85.63L614.35,86.45L614.51,87.28L614.68,88.10L614.85,88.90L615.02,89.67L615.18,90.41L615.35,91.08L615.52,91.70L615.69,92.24L615.85,92.69L616.02,93.06L616.19,93.33L616.35,93.50L616.52,93.57L616.69,93.54L616.86,93.40L617.02,93.16L617.19,92.83L617.36,92.40L617.53,91.89L617.69,91.30L617.86,90.64L618.03,89.92L618.20,89.16L618.36,88.37L618.53,87.55L618.70,86.72L618.87,85.90L619.03,85.10L619.20,84.33L619.37,83.59L619.53,82.92L619.70,82.30L619.87,81.76L620.04,81.31L620.20,80.94L620.37,80.67L620.54,80.50L620.71,80.43L620.87,80.46L621.04,80.60L621.21,80.84L621.38,81.17L621.54,81.60L621.71,82.11L621.88,82.70L622.05,83.36L622.21,84.08L622.38,84.84L622.55,85.63L622.71,86.45L622.88,87.28L623.05,88.10L623.22,88.90L623.38,89.67L623.55,90.41L623.72,91.08L623.89,91.70L624.05,92.24L624.22,92.69L624.39,93.06L624.56,93.33L624.72,93.50L624.89,93.57L625.06,93.54L625.23,93.40L625.39,93.16L625.56,92.83L625.73,92.40L625.89,91.89L626.06,91.30L626.23,90.64L626.40,89.92L626.56,89.16L626.73,88.37L626.90,87.55L627.07,86.72L627.23,85.90L627.40,85.10L627.57,84.33L627.74,83.59L627.90,82.92L628.07,82.30L628.24,81.76L628.41,81.31L628.57,80.94L628.74,80.67L628.91,80.50L629.07,80.43L629.24,80.46L629.41,80.60L629.58,80.84L629.74,81.17L629.91,81.60L630.08,82.11L630.25,82.70L630.41,83.36L630.58,84.08L630.75,84.84L630.92,85.63L631.08,86.45L631.25,87.28L631.42,88.10L631.59,88.90L631.75,89.67L631.92,90.41L632.09,91.08L632.26,91.70L632.42,92.24L632.59,92.69L632.76,93.06L632.92,93.33L633.09,93.50L633.26,93.57L633.43,93.54L633.59,93.40L633.76,93.16L633.93,92.83L634.10,92.40L634.26,91.89L634.43,91.30L634.60,90.64L634.77,89.92L634.93,89.16L635.10,88.37L635.27,87.55L635.44,86.72L635.60,85.90L635.77,85.10L635.94,84.33L636.10,83.59L636.27,82.92L636.44,82.30L636.61,81.76L636.77,81.31L636.94,80.94L637.11,80.67L637.28,80.50L637.44,80.43L637.61,80.46L637.78,80.60L637.95,80.84L638.11,81.17L638.28,81.60L638.45,82.11L638.62,82.70L638.78,83.36L638.95,84.08L639.12,84.84L639.28,85.63L639.45,86.45L639.62,87.28L639.79,88.10L639.95,88.90L640.12,89.67L640.29,90.41L640.46,91.08L640.62,91.70L640.79,92.24L640.96,92.69L641.13,93.06L641.29,93.33L641.46,93.50L641.63,93.57L641.80,93.54L641.96,93.40L642.13,93.16L642.30,92.83L642.46,92.40L642.63,91.89L642.80,91.30L642.97,90.64L643.13,89.92L643.30,89.16L643.47,88.37L643.64,87.55L643.80,86.72L643.97,85.90L644.14,85.10L644.31,84.33L644.47,83.59L644.64,82.92L644.81,82.30L644.98,81.76L645.14,81.31L645.31,80.94L645.48,80.67L645.64,80.50L645.81,80.43L645.98,80.46L646.15,80.60L646.31,80.84L646.48,81.17L646.65,81.60L646.82,82.11L646.98,82.70L647.15,83.36L647.32,84.08L647.49,84.84L647.65,85.63L647.82,86.45L647.99,87.28L648.16,88.10L648.32,88.90L648.49,89.67L648.66,90.41L648.82,91.08L648.99,91.70L649.16,92.24L649.33,92.69L649.49,93.06L649.66,93.33L649.83,93.50L650.00,93.57L650.16,93.54L650.33,93.40L650.50,93.16L650.67,92.83L650.83,92.40L651.00,91.89L651.17,91.30L651.34,90.64L651.50,89.92L651.67,89.16L651.84,88.37L652.00,87.55L652.17,86.72L652.34,85.90L652.51,85.10L652.67,84.33L652.84,83.59L653.01,82.92L653.18,82.30L653.34,81.76L653.51,81.31L653.68,80.94L653.85,80.67L654.01,80.50L654.18,80.43L654.35,80.46L654.52,80.60L654.68,80.84L654.85,81.17L655.02,81.60L655.18,82.11L655.35,82.70L655.52,83.36L655.69,84.08L655.85,84.84L656.02,85.63L656.19,86.45L656.36,87.28L656.52,88.10L656.69,88.90L656.86,89.67L657.03,90.41L657.19,91.08L657.36,91.70L657.53,92.24L657.70,92.69L657.86,93.06L658.03,93.33L658.20,93.50L658.36,93.57L658.53,93.54L658.70,93.40L658.87,93.16L659.03,92.83L659.20,92.40L659.37,91.89L659.54,91.30L659.70,90.64L659.87,89.92L660.04,89.16L660.21,88.37L660.37,87.55L660.54,86.72L660.71,85.90L660.88,85.10L661.04,84.33L661.21,83.59L661.38,82.92L661.55,82.30L661.71,81.76L661.88,81.31L662.05,80.94L662.21,80.67L662.38,80.50L662.55,80.43L662.72,80.46L662.88,80.60L663.05,80.84L663.22,81.17L663.39,81.60L663.55,82.11L663.72,82.70L663.89,83.36L664.06,84.08L664.22,84.84L664.39,85.63L664.56,86.45L664.73,87.28L664.89,88.10L665.06,88.90L665.23,89.67L665.39,90.41L665.56,91.08L665.73,91.70L665.90,92.24L666.06,92.69L666.23,93.06L666.40,93.33L666.57,93.50L666.73,93.57L666.90,93.54L667.07,93.40L667.24,93.16L667.40,92.83L667.57,92.40L667.74,91.89L667.91,91.30L668.07,90.64L668.24,89.92L668.41,89.16L668.57,88.37L668.74,87.55L668.91,86.72L669.08,85.90L669.24,85.10L669.41,84.33L669.58,83.59L669.75,82.92L669.91,82.30L670.08,81.76L670.25,81.31L670.42,80.94L670.58,80.67L670.75,80.50L670.92,80.43L671.09,80.46L671.25,80.60L671.42,80.84L671.59,81.17L671.75,81.60L671.92,82.11L672.09,82.70L672.26,83.36L672.42,84.08L672.59,84.84L672.76,85.63L672.93,86.45L673.09,87.28L673.26,88.10L673.43,88.90L673.60,89.67L673.76,90.41L673.93,91.08L674.10,91.70L674.27,92.24L674.43,92.69L674.60,93.06" stroke="#86b23e" class="ln" stroke-width="2.2"/>
<path d="M381.70,87.00L381.75,86.63L381.81,86.09L381.88,85.47L381.96,84.83L382.04,84.26L382.12,83.82L382.19,83.49L382.26,83.21L382.33,83.00L382.40,82.86L382.47,82.80L382.54,82.85L382.61,82.99L382.68,83.23L382.75,83.56L382.82,83.96L382.89,84.44L382.96,84.99L383.02,85.59L383.08,86.24L383.14,86.97L383.20,87.80L383.27,88.75L383.33,89.87L383.40,91.21L383.47,92.75L383.54,94.43L383.61,96.16L383.68,97.86L383.75,99.46L383.82,100.96L383.90,102.45L383.98,103.90L384.05,105.33L384.13,106.73L384.21,108.11L384.29,109.47L384.38,110.83L384.47,112.17L384.56,113.45L384.64,114.65L384.71,115.74L384.78,116.73L384.84,117.62L384.89,118.44L384.94,119.18L384.99,119.87L385.05,120.51L385.10,121.10L385.16,121.63L385.21,122.11L385.27,122.52L385.33,122.88L385.38,123.16L385.44,123.38L385.49,123.54L385.55,123.64L385.61,123.67L385.66,123.64L385.72,123.55L385.78,123.34L385.84,123.01L385.91,122.62L385.96,122.22L386.02,121.87L386.05,121.64L386.22,119.85L386.39,117.55L386.55,114.76L386.72,111.54L386.89,107.93L387.06,103.99L387.22,99.78L387.39,95.37L387.56,90.83L387.73,86.23L387.89,81.63L388.06,77.13L388.23,72.78L388.39,68.65L388.56,64.82L388.73,61.33L388.90,58.25L389.06,55.62L389.23,53.49L389.40,51.88L389.57,50.83L389.73,50.36L389.90,50.46L390.07,51.14L390.24,52.38L390.40,54.18L390.57,56.50L390.74,59.29L390.91,62.53L391.07,66.16L391.24,70.13L391.41,74.36L391.57,78.79L391.74,83.36L391.91,87.99L392.08,92.61L392.24,97.15L392.41,101.52L392.58,105.67L392.75,109.52L392.91,113.01L393.08,116.09L393.25,118.69L393.42,120.78L393.58,122.32L393.75,123.27L393.92,123.61L394.09,123.34L394.25,122.44L394.42,120.93L394.59,118.82L394.75,116.14L394.92,112.93L395.09,109.24L395.26,105.12L395.42,100.64L395.59,95.89L395.76,90.95L395.93,85.92L396.09,80.91L396.26,76.00L396.43,71.32L396.60,66.95L396.76,63.01L396.93,59.58L397.10,56.74L397.27,54.54L397.43,53.02L397.60,52.23L397.77,52.15L397.94,52.78L398.10,54.09L398.27,56.03L398.44,58.53L398.60,61.53L398.77,64.94L398.94,68.65L399.11,72.59L399.27,76.63L399.44,80.68L399.61,84.63L399.78,88.40L399.94,91.89L400.11,95.04L400.28,97.78L400.45,100.08L400.61,101.91L400.78,103.26L400.95,104.14L401.12,104.58L401.28,104.62L401.45,104.30L401.62,103.68L401.78,102.81L401.95,101.74L402.12,100.53L402.29,99.22L402.45,97.84L402.62,96.44L402.79,95.03L402.96,93.64L403.12,92.28L403.29,90.97L403.46,89.71L403.63,88.51L403.79,87.37L403.96,86.31L404.13,85.31L404.30,84.39L404.46,83.55L404.63,82.79L404.80,82.12L404.96,81.54L405.13,81.05L405.30,80.66L405.47,80.37L405.63,80.18L405.80,80.09L405.97,80.10L406.14,80.22L406.30,80.43L406.47,80.75L406.64,81.15L406.81,81.64L406.97,82.21L407.14,82.84L407.31,83.54L407.48,84.29L407.64,85.08L407.81,85.89L407.98,86.72L408.14,87.55L408.31,88.38L408.48,89.17L408.65,89.94L408.81,90.65L408.98,91.31L409.15,91.90L409.32,92.41L409.48,92.84L409.65,93.17L409.82,93.41L409.99,93.55L410.15,93.58L410.32,93.51L410.49,93.34L410.66,93.07L410.82,92.70L410.99,92.24L411.16,91.70L411.32,91.09L411.49,90.41L411.66,89.67L411.83,88.90L411.99,88.10L412.16,87.28L412.33,86.45L412.50,85.63L412.66,84.84L412.83,84.08L413.00,83.36L413.17,82.70L413.33,82.11L413.50,81.60L413.67,81.17L413.84,80.84L414.00,80.60L414.17,80.46L414.34,80.43L414.50,80.50L414.67,80.67L414.84,80.94L415.01,81.31L415.17,81.76L415.34,82.30L415.51,82.92L415.68,83.59L415.84,84.33L416.01,85.10L416.18,85.90L416.35,86.72L416.51,87.55L416.68,88.37L416.85,89.16L417.02,89.92L417.18,90.64L417.35,91.30L417.52,91.89L417.68,92.40L417.85,92.83L418.02,93.16L418.19,93.40L418.35,93.54L418.52,93.57L418.69,93.50L418.86,93.33L419.02,93.06L419.19,92.69L419.36,92.24L419.53,91.70L419.69,91.08L419.86,90.41L420.03,89.67L420.20,88.90L420.36,88.10L420.53,87.28L420.70,86.45L420.86,85.63L421.03,84.84L421.20,84.08L421.37,83.36L421.53,82.70L421.70,82.11L421.87,81.60L422.04,81.17L422.20,80.84L422.37,80.60L422.54,80.46L422.71,80.43L422.87,80.50L423.04,80.67L423.21,80.94L423.38,81.31L423.54,81.76L423.71,82.30L423.88,82.92L424.04,83.59L424.21,84.33L424.38,85.10L424.55,85.90L424.71,86.72L424.88,87.55L425.05,88.37L425.22,89.16L425.38,89.92L425.55,90.64L425.72,91.30L425.89,91.89L426.05,92.40L426.22,92.83L426.39,93.16L426.56,93.40L426.72,93.54L426.89,93.57L427.06,93.50L427.23,93.33L427.39,93.06L427.56,92.69L427.73,92.24L427.89,91.70L428.06,91.08L428.23,90.41L428.40,89.67L428.56,88.90L428.73,88.10L428.90,87.28L429.07,86.45L429.23,85.63L429.40,84.84L429.57,84.08L429.74,83.36L429.90,82.70L430.07,82.11L430.24,81.60L430.41,81.17L430.57,80.84L430.74,80.60L430.91,80.46L431.07,80.43L431.24,80.50L431.41,80.67L431.58,80.94L431.74,81.31L431.91,81.76L432.08,82.30L432.25,82.92L432.41,83.59L432.58,84.33L432.75,85.10L432.92,85.90L433.08,86.72L433.25,87.55L433.42,88.37L433.59,89.16L433.75,89.92L433.92,90.64L434.09,91.30L434.25,91.89L434.42,92.40L434.59,92.83L434.76,93.16L434.92,93.40L435.09,93.54L435.26,93.57L435.43,93.50L435.59,93.33L435.76,93.06L435.93,92.69L436.10,92.24L436.26,91.70L436.43,91.08L436.60,90.41L436.77,89.67L436.93,88.90L437.10,88.10L437.27,87.28L437.43,86.45L437.60,85.63L437.77,84.84L437.94,84.08L438.10,83.36L438.27,82.70L438.44,82.11L438.61,81.60L438.77,81.17L438.94,80.84L439.11,80.60L439.28,80.46L439.44,80.43L439.61,80.50L439.78,80.67L439.95,80.94L440.11,81.31L440.28,81.76L440.45,82.30L440.61,82.92L440.78,83.59L440.95,84.33L441.12,85.10L441.28,85.90L441.45,86.72L441.62,87.55L441.79,88.37L441.95,89.16L442.12,89.92L442.29,90.64L442.46,91.30L442.62,91.89L442.79,92.40L442.96,92.83L443.13,93.16L443.29,93.40L443.46,93.54L443.63,93.57L443.79,93.50L443.96,93.33L444.13,93.06L444.30,92.69L444.46,92.24L444.63,91.70L444.80,91.08L444.97,90.41L445.13,89.67L445.30,88.90L445.47,88.10L445.64,87.28L445.80,86.45L445.97,85.63L446.14,84.84L446.31,84.08L446.47,83.36L446.64,82.70L446.81,82.11L446.97,81.60L447.14,81.17L447.31,80.84L447.48,80.60L447.64,80.46L447.81,80.43L447.98,80.50L448.15,80.67L448.31,80.94L448.48,81.31L448.65,81.76L448.82,82.30L448.98,82.92L449.15,83.59L449.32,84.33L449.49,85.10L449.65,85.90L449.82,86.72L449.99,87.55L450.15,88.37L450.32,89.16L450.49,89.92L450.66,90.64L450.82,91.30L450.99,91.89L451.16,92.40L451.33,92.83L451.49,93.16L451.66,93.40L451.83,93.54L452.00,93.57L452.16,93.50L452.33,93.33L452.50,93.06L452.67,92.69L452.83,92.24L453.00,91.70L453.17,91.08L453.33,90.41L453.50,89.67L453.67,88.90L453.84,88.10L454.00,87.28L454.17,86.45L454.34,85.63L454.51,84.84L454.67,84.08L454.84,83.36L455.01,82.70L455.18,82.11L455.34,81.60L455.51,81.17L455.68,80.84L455.85,80.60L456.01,80.46L456.18,80.43L456.35,80.50L456.52,80.67L456.68,80.94L456.85,81.31L457.02,81.76L457.18,82.30L457.35,82.92L457.52,83.59L457.69,84.33L457.85,85.10L458.02,85.90L458.19,86.72L458.36,87.55L458.52,88.37L458.69,89.16L458.86,89.92L459.03,90.64L459.19,91.30L459.36,91.89L459.53,92.40L459.70,92.83L459.86,93.16L460.03,93.40L460.20,93.54L460.36,93.57L460.53,93.50L460.70,93.33L460.87,93.06L461.03,92.69L461.20,92.24L461.37,91.70L461.54,91.08L461.70,90.41L461.87,89.67L462.04,88.90L462.21,88.10L462.37,87.28L462.54,86.45L462.71,85.63L462.88,84.84L463.04,84.08L463.21,83.36L463.38,82.70L463.54,82.11L463.71,81.60L463.88,81.17L464.05,80.84L464.21,80.60L464.38,80.46L464.55,80.43L464.72,80.50L464.88,80.67L465.05,80.94L465.22,81.31L465.39,81.76L465.55,82.30L465.72,82.92L465.89,83.59L466.06,84.33L466.22,85.10L466.39,85.90L466.56,86.72L466.72,87.55L466.89,88.37L467.06,89.16L467.23,89.92L467.39,90.64L467.56,91.30L467.73,91.89L467.90,92.40L468.06,92.83L468.23,93.16L468.40,93.40L468.57,93.54L468.73,93.57L468.90,93.50L469.07,93.33L469.24,93.06L469.40,92.69L469.57,92.24L469.74,91.70L469.90,91.08L470.07,90.41L470.24,89.67L470.41,88.90L470.57,88.10L470.74,87.28L470.91,86.45L471.08,85.63L471.24,84.84L471.41,84.08L471.58,83.36L471.75,82.70L471.91,82.11L472.08,81.60L472.25,81.17L472.42,80.84L472.58,80.60L472.75,80.46L472.92,80.43L473.08,80.50L473.25,80.67L473.42,80.94L473.59,81.31L473.75,81.76L473.92,82.30L474.09,82.92L474.26,83.59L474.42,84.33L474.59,85.10L474.76,85.90L474.93,86.72L475.09,87.55L475.26,88.37L475.43,89.16L475.60,89.92L475.76,90.64L475.93,91.30L476.10,91.89L476.26,92.40L476.43,92.83L476.60,93.16L476.77,93.40L476.93,93.54L477.10,93.57L477.27,93.50L477.44,93.33L477.60,93.06L477.77,92.69L477.94,92.24L478.11,91.70L478.27,91.08L478.44,90.41L478.61,89.67L478.78,88.90L478.94,88.10L479.11,87.28L479.28,86.45L479.44,85.63L479.61,84.84L479.78,84.08L479.95,83.36L480.11,82.70L480.28,82.11L480.45,81.60L480.62,81.17L480.78,80.84L480.95,80.60L481.12,80.46L481.29,80.43L481.45,80.50L481.62,80.67L481.79,80.94L481.96,81.31L482.12,81.76L482.29,82.30L482.46,82.92L482.62,83.59L482.79,84.33L482.96,85.10L483.13,85.90L483.29,86.72L483.46,87.55L483.63,88.37L483.80,89.16L483.96,89.92L484.13,90.64L484.30,91.30L484.47,91.89L484.63,92.40L484.80,92.83L484.97,93.16L485.14,93.40L485.30,93.54L485.47,93.57L485.64,93.50L485.81,93.33L485.97,93.06L486.14,92.69L486.31,92.24L486.47,91.70L486.64,91.08L486.81,90.41L486.98,89.67L487.14,88.90L487.31,88.10L487.48,87.28L487.65,86.45L487.81,85.63L487.98,84.84L488.15,84.08L488.32,83.36L488.48,82.70L488.65,82.11L488.82,81.60L488.99,81.17L489.15,80.84L489.32,80.60L489.49,80.46L489.65,80.43L489.82,80.50L489.99,80.67L490.16,80.94L490.32,81.31L490.49,81.76L490.66,82.30L490.83,82.92L490.99,83.59L491.16,84.33L491.33,85.10L491.50,85.90L491.66,86.72L491.83,87.55L492.00,88.37L492.17,89.16L492.33,89.92L492.50,90.64L492.67,91.30L492.83,91.89L493.00,92.40L493.17,92.83L493.34,93.16L493.50,93.40L493.67,93.54L493.84,93.57L494.01,93.50L494.17,93.33L494.34,93.06L494.51,92.69L494.68,92.24L494.84,91.70L495.01,91.08L495.18,90.41L495.35,89.67L495.51,88.90L495.68,88.10L495.85,87.28L496.01,86.45L496.18,85.63L496.35,84.84L496.52,84.08L496.68,83.36L496.85,82.70L497.02,82.11L497.19,81.60L497.35,81.17L497.52,80.84L497.69,80.60L497.86,80.46L498.02,80.43L498.19,80.50L498.36,80.67L498.53,80.94L498.69,81.31L498.86,81.76L499.03,82.30L499.19,82.92L499.36,83.59L499.53,84.33L499.70,85.10L499.86,85.90L500.03,86.72L500.20,87.55L500.37,88.37L500.53,89.16L500.70,89.92L500.87,90.64L501.04,91.30L501.20,91.89L501.37,92.40L501.54,92.83L501.71,93.16L501.87,93.40L502.04,93.54L502.21,93.57L502.37,93.50L502.54,93.33L502.71,93.06L502.88,92.69L503.04,92.24L503.21,91.70L503.38,91.08L503.55,90.41L503.71,89.67L503.88,88.90L504.05,88.10L504.22,87.28L504.38,86.45L504.55,85.63L504.72,84.84L504.89,84.08L505.05,83.36L505.22,82.70L505.39,82.11L505.55,81.60L505.72,81.17L505.89,80.84L506.06,80.60L506.22,80.46L506.39,80.43L506.56,80.50L506.73,80.67L506.89,80.94L507.06,81.31L507.23,81.76L507.40,82.30L507.56,82.92L507.73,83.59L507.90,84.33L508.07,85.10L508.23,85.90L508.40,86.72L508.57,87.55L508.73,88.37L508.90,89.16L509.07,89.92L509.24,90.64L509.40,91.30L509.57,91.89L509.74,92.40L509.91,92.83L510.07,93.16L510.24,93.40L510.41,93.54L510.58,93.57L510.74,93.50L510.91,93.33L511.08,93.06L511.25,92.69L511.41,92.24L511.58,91.70L511.75,91.08L511.91,90.41L512.08,89.67L512.25,88.90L512.42,88.10L512.58,87.28L512.75,86.45L512.92,85.63L513.09,84.84L513.25,84.08L513.42,83.36L513.59,82.70L513.76,82.11L513.92,81.60L514.09,81.17L514.26,80.84L514.43,80.60L514.59,80.46L514.76,80.43L514.93,80.50L515.10,80.67L515.26,80.94L515.43,81.31L515.60,81.76L515.76,82.30L515.93,82.92L516.10,83.59L516.27,84.33L516.43,85.10L516.60,85.90L516.77,86.72L516.94,87.55L517.10,88.37L517.27,89.16L517.44,89.92L517.61,90.64L517.77,91.30L517.94,91.89L518.11,92.40L518.28,92.83L518.44,93.16L518.61,93.40L518.78,93.54L518.94,93.57L519.11,93.50L519.28,93.33L519.45,93.06L519.61,92.69L519.78,92.24L519.95,91.70L520.12,91.08L520.28,90.41L520.45,89.67L520.62,88.90L520.79,88.10L520.95,87.28L521.12,86.45L521.29,85.63L521.46,84.84L521.62,84.08L521.79,83.36L521.96,82.70L522.12,82.11L522.29,81.60L522.46,81.17L522.63,80.84L522.79,80.60L522.96,80.46L523.13,80.43L523.30,80.50L523.46,80.67L523.63,80.94L523.80,81.31L523.97,81.76L524.13,82.30L524.30,82.92L524.47,83.59L524.64,84.33L524.80,85.10L524.97,85.90L525.14,86.72L525.30,87.55L525.47,88.37L525.64,89.16L525.81,89.92L525.97,90.64L526.14,91.30L526.31,91.89L526.48,92.40L526.64,92.83L526.81,93.16L526.98,93.40L527.15,93.54L527.31,93.57L527.48,93.50L527.65,93.33L527.82,93.06L527.98,92.69L528.15,92.24L528.32,91.70L528.48,91.08L528.65,90.41L528.82,89.67L528.99,88.90L529.15,88.10L529.32,87.28L529.49,86.45L529.66,85.63L529.82,84.84L529.99,84.08L530.16,83.36L530.33,82.70L530.49,82.11L530.66,81.60L530.83,81.17L531.00,80.84L531.16,80.60L531.33,80.46L531.50,80.43L531.66,80.50L531.83,80.67L532.00,80.94L532.17,81.31L532.33,81.76L532.50,82.30L532.67,82.92L532.84,83.59L533.00,84.33L533.17,85.10L533.34,85.90L533.51,86.72L533.67,87.55L533.84,88.37L534.01,89.16L534.18,89.92L534.34,90.64L534.51,91.30L534.68,91.89L534.84,92.40L535.01,92.83L535.18,93.16L535.35,93.40L535.51,93.54L535.68,93.57L535.85,93.50L536.02,93.33L536.18,93.06L536.35,92.69L536.52,92.24L536.69,91.70L536.85,91.08L537.02,90.41L537.19,89.67L537.36,88.90L537.52,88.10L537.69,87.28L537.86,86.45L538.02,85.63L538.19,84.84L538.36,84.08L538.53,83.36L538.69,82.70L538.86,82.11L539.03,81.60L539.20,81.17L539.36,80.84L539.53,80.60L539.70,80.46L539.87,80.43L540.03,80.50L540.20,80.67L540.37,80.94L540.54,81.31L540.70,81.76L540.87,82.30L541.04,82.92L541.20,83.59L541.37,84.33L541.54,85.10L541.71,85.90L541.87,86.72L542.04,87.55L542.21,88.37L542.38,89.16L542.54,89.92L542.71,90.64L542.88,91.30L543.05,91.89L543.21,92.40L543.38,92.83L543.55,93.16L543.72,93.40L543.88,93.54L544.05,93.57L544.22,93.50L544.39,93.33L544.55,93.06L544.72,92.69L544.89,92.24L545.05,91.70L545.22,91.08L545.39,90.41L545.56,89.67L545.72,88.90L545.89,88.10L546.06,87.28L546.23,86.45L546.39,85.63L546.56,84.84L546.73,84.08L546.90,83.36L547.06,82.70L547.23,82.11L547.40,81.60L547.57,81.17L547.73,80.84L547.90,80.60L548.07,80.46L548.23,80.43L548.40,80.50L548.57,80.67L548.74,80.94L548.90,81.31L549.07,81.76L549.24,82.30L549.41,82.92L549.57,83.59L549.74,84.33L549.91,85.10L550.08,85.90L550.24,86.72L550.41,87.55L550.58,88.37L550.75,89.16L550.91,89.92L551.08,90.64L551.25,91.30L551.41,91.89L551.58,92.40L551.75,92.83L551.92,93.16L552.08,93.40L552.25,93.54L552.42,93.57L552.59,93.50L552.75,93.33L552.92,93.06L553.09,92.69L553.26,92.24L553.42,91.70L553.59,91.08L553.76,90.41L553.93,89.67L554.09,88.90L554.26,88.10L554.43,87.28L554.59,86.45L554.76,85.63L554.93,84.84L555.10,84.08L555.26,83.36L555.43,82.70L555.60,82.11L555.77,81.60L555.93,81.17L556.10,80.84L556.27,80.60L556.44,80.46L556.60,80.43L556.77,80.50L556.94,80.67L557.11,80.94L557.27,81.31L557.44,81.76L557.61,82.30L557.77,82.92L557.94,83.59L558.11,84.33L558.28,85.10L558.44,85.90L558.61,86.72L558.78,87.55L558.95,88.37L559.11,89.16L559.28,89.92L559.45,90.64L559.62,91.30L559.78,91.89L559.95,92.40L560.12,92.83L560.29,93.16L560.45,93.40L560.62,93.54L560.79,93.57L560.95,93.50L561.12,93.33L561.29,93.06L561.46,92.69L561.62,92.24L561.79,91.70L561.96,91.08L562.13,90.41L562.29,89.67L562.46,88.90L562.63,88.10L562.80,87.28L562.96,86.45L563.13,85.63L563.30,84.84L563.47,84.08L563.63,83.36L563.80,82.70L563.97,82.11L564.13,81.60L564.30,81.17L564.47,80.84L564.64,80.60L564.80,80.46L564.97,80.43L565.14,80.50L565.31,80.67L565.47,80.94L565.64,81.31L565.81,81.76L565.98,82.30L566.14,82.92L566.31,83.59L566.48,84.33L566.65,85.10L566.81,85.90L566.98,86.72L567.15,87.55L567.31,88.37L567.48,89.16L567.65,89.92L567.82,90.64L567.98,91.30L568.15,91.89L568.32,92.40L568.49,92.83L568.65,93.16L568.82,93.40L568.99,93.54L569.16,93.57L569.32,93.50L569.49,93.33L569.66,93.06L569.83,92.69L569.99,92.24L570.16,91.70L570.33,91.08L570.49,90.41L570.66,89.67L570.83,88.90L571.00,88.10L571.16,87.28L571.33,86.45L571.50,85.63L571.67,84.84L571.83,84.08L572.00,83.36L572.17,82.70L572.34,82.11L572.50,81.60L572.67,81.17L572.84,80.84L573.01,80.60L573.17,80.46L573.34,80.43L573.51,80.50L573.68,80.67L573.84,80.94L574.01,81.31L574.18,81.76L574.34,82.30L574.51,82.92L574.68,83.59L574.85,84.33L575.01,85.10L575.18,85.90L575.35,86.72L575.52,87.55L575.68,88.37L575.85,89.16L576.02,89.92L576.19,90.64L576.35,91.30L576.52,91.89L576.69,92.40L576.86,92.83L577.02,93.16L577.19,93.40L577.36,93.54L577.52,93.57L577.69,93.50L577.86,93.33L578.03,93.06L578.19,92.69L578.36,92.24L578.53,91.70L578.70,91.08L578.86,90.41L579.03,89.67L579.20,88.90L579.37,88.10L579.53,87.28L579.70,86.45L579.87,85.63L580.04,84.84L580.20,84.08L580.37,83.36L580.54,82.70L580.70,82.11L580.87,81.60L581.04,81.17L581.21,80.84L581.37,80.60L581.54,80.46L581.71,80.43L581.88,80.50L582.04,80.67L582.21,80.94L582.38,81.31L582.55,81.76L582.71,82.30L582.88,82.92L583.05,83.59L583.22,84.33L583.38,85.10L583.55,85.90L583.72,86.72L583.88,87.55L584.05,88.37L584.22,89.16L584.39,89.92L584.55,90.64L584.72,91.30L584.89,91.89L585.06,92.40L585.22,92.83L585.39,93.16L585.56,93.40L585.73,93.54L585.89,93.57L586.06,93.50L586.23,93.33L586.40,93.06L586.56,92.69L586.73,92.24L586.90,91.70L587.06,91.08L587.23,90.41L587.40,89.67L587.57,88.90L587.73,88.10L587.90,87.28L588.07,86.45L588.24,85.63L588.40,84.84L588.57,84.08L588.74,83.36L588.91,82.70L589.07,82.11L589.24,81.60L589.41,81.17L589.58,80.84L589.74,80.60L589.91,80.46L590.08,80.43L590.24,80.50L590.41,80.67L590.58,80.94L590.75,81.31L590.91,81.76L591.08,82.30L591.25,82.92L591.42,83.59L591.58,84.33L591.75,85.10L591.92,85.90L592.09,86.72L592.25,87.55L592.42,88.37L592.59,89.16L592.76,89.92L592.92,90.64L593.09,91.30L593.26,91.89L593.42,92.40L593.59,92.83L593.76,93.16L593.93,93.40L594.09,93.54L594.26,93.57L594.43,93.50L594.60,93.33L594.76,93.06L594.93,92.69L595.10,92.24L595.27,91.70L595.43,91.08L595.60,90.41L595.77,89.67L595.94,88.90L596.10,88.10L596.27,87.28L596.44,86.45L596.60,85.63L596.77,84.84L596.94,84.08L597.11,83.36L597.27,82.70L597.44,82.11L597.61,81.60L597.78,81.17L597.94,80.84L598.11,80.60L598.28,80.46L598.45,80.43L598.61,80.50L598.78,80.67L598.95,80.94L599.12,81.31L599.28,81.76L599.45,82.30L599.62,82.92L599.78,83.59L599.95,84.33L600.12,85.10L600.29,85.90L600.45,86.72L600.62,87.55L600.79,88.37L600.96,89.16L601.12,89.92L601.29,90.64L601.46,91.30L601.63,91.89L601.79,92.40L601.96,92.83L602.13,93.16L602.30,93.40L602.46,93.54L602.63,93.57L602.80,93.50L602.97,93.33L603.13,93.06L603.30,92.69L603.47,92.24L603.63,91.70L603.80,91.08L603.97,90.41L604.14,89.67L604.30,88.90L604.47,88.10L604.64,87.28L604.81,86.45L604.97,85.63L605.14,84.84L605.31,84.08L605.48,83.36L605.64,82.70L605.81,82.11L605.98,81.60L606.15,81.17L606.31,80.84L606.48,80.60L606.65,80.46L606.81,80.43L606.98,80.50L607.15,80.67L607.32,80.94L607.48,81.31L607.65,81.76L607.82,82.30L607.99,82.92L608.15,83.59L608.32,84.33L608.49,85.10L608.66,85.90L608.82,86.72L608.99,87.55L609.16,88.37L609.33,89.16L609.49,89.92L609.66,90.64L609.83,91.30L609.99,91.89L610.16,92.40L610.33,92.83L610.50,93.16L610.66,93.40L610.83,93.54L611.00,93.57L611.17,93.50L611.33,93.33L611.50,93.06L611.67,92.69L611.84,92.24L612.00,91.70L612.17,91.08L612.34,90.41L612.51,89.67L612.67,88.90L612.84,88.10L613.01,87.28L613.17,86.45L613.34,85.63L613.51,84.84L613.68,84.08L613.84,83.36L614.01,82.70L614.18,82.11L614.35,81.60L614.51,81.17L614.68,80.84L614.85,80.60L615.02,80.46L615.18,80.43L615.35,80.50L615.52,80.67L615.69,80.94L615.85,81.31L616.02,81.76L616.19,82.30L616.35,82.92L616.52,83.59L616.69,84.33L616.86,85.10L617.02,85.90L617.19,86.72L617.36,87.55L617.53,88.37L617.69,89.16L617.86,89.92L618.03,90.64L618.20,91.30L618.36,91.89L618.53,92.40L618.70,92.83L618.87,93.16L619.03,93.40L619.20,93.54L619.37,93.57L619.53,93.50L619.70,93.33L619.87,93.06L620.04,92.69L620.20,92.24L620.37,91.70L620.54,91.08L620.71,90.41L620.87,89.67L621.04,88.90L621.21,88.10L621.38,87.28L621.54,86.45L621.71,85.63L621.88,84.84L622.05,84.08L622.21,83.36L622.38,82.70L622.55,82.11L622.71,81.60L622.88,81.17L623.05,80.84L623.22,80.60L623.38,80.46L623.55,80.43L623.72,80.50L623.89,80.67L624.05,80.94L624.22,81.31L624.39,81.76L624.56,82.30L624.72,82.92L624.89,83.59L625.06,84.33L625.23,85.10L625.39,85.90L625.56,86.72L625.73,87.55L625.89,88.37L626.06,89.16L626.23,89.92L626.40,90.64L626.56,91.30L626.73,91.89L626.90,92.40L627.07,92.83L627.23,93.16L627.40,93.40L627.57,93.54L627.74,93.57L627.90,93.50L628.07,93.33L628.24,93.06L628.41,92.69L628.57,92.24L628.74,91.70L628.91,91.08L629.07,90.41L629.24,89.67L629.41,88.90L629.58,88.10L629.74,87.28L629.91,86.45L630.08,85.63L630.25,84.84L630.41,84.08L630.58,83.36L630.75,82.70L630.92,82.11L631.08,81.60L631.25,81.17L631.42,80.84L631.59,80.60L631.75,80.46L631.92,80.43L632.09,80.50L632.26,80.67L632.42,80.94L632.59,81.31L632.76,81.76L632.92,82.30L633.09,82.92L633.26,83.59L633.43,84.33L633.59,85.10L633.76,85.90L633.93,86.72L634.10,87.55L634.26,88.37L634.43,89.16L634.60,89.92L634.77,90.64L634.93,91.30L635.10,91.89L635.27,92.40L635.44,92.83L635.60,93.16L635.77,93.40L635.94,93.54L636.10,93.57L636.27,93.50L636.44,93.33L636.61,93.06L636.77,92.69L636.94,92.24L637.11,91.70L637.28,91.08L637.44,90.41L637.61,89.67L637.78,88.90L637.95,88.10L638.11,87.28L638.28,86.45L638.45,85.63L638.62,84.84L638.78,84.08L638.95,83.36L639.12,82.70L639.28,82.11L639.45,81.60L639.62,81.17L639.79,80.84L639.95,80.60L640.12,80.46L640.29,80.43L640.46,80.50L640.62,80.67L640.79,80.94L640.96,81.31L641.13,81.76L641.29,82.30L641.46,82.92L641.63,83.59L641.80,84.33L641.96,85.10L642.13,85.90L642.30,86.72L642.46,87.55L642.63,88.37L642.80,89.16L642.97,89.92L643.13,90.64L643.30,91.30L643.47,91.89L643.64,92.40L643.80,92.83L643.97,93.16L644.14,93.40L644.31,93.54L644.47,93.57L644.64,93.50L644.81,93.33L644.98,93.06L645.14,92.69L645.31,92.24L645.48,91.70L645.64,91.08L645.81,90.41L645.98,89.67L646.15,88.90L646.31,88.10L646.48,87.28L646.65,86.45L646.82,85.63L646.98,84.84L647.15,84.08L647.32,83.36L647.49,82.70L647.65,82.11L647.82,81.60L647.99,81.17L648.16,80.84L648.32,80.60L648.49,80.46L648.66,80.43L648.82,80.50L648.99,80.67L649.16,80.94L649.33,81.31L649.49,81.76L649.66,82.30L649.83,82.92L650.00,83.59L650.16,84.33L650.33,85.10L650.50,85.90L650.67,86.72L650.83,87.55L651.00,88.37L651.17,89.16L651.34,89.92L651.50,90.64L651.67,91.30L651.84,91.89L652.00,92.40L652.17,92.83L652.34,93.16L652.51,93.40L652.67,93.54L652.84,93.57L653.01,93.50L653.18,93.33L653.34,93.06L653.51,92.69L653.68,92.24L653.85,91.70L654.01,91.08L654.18,90.41L654.35,89.67L654.52,88.90L654.68,88.10L654.85,87.28L655.02,86.45L655.18,85.63L655.35,84.84L655.52,84.08L655.69,83.36L655.85,82.70L656.02,82.11L656.19,81.60L656.36,81.17L656.52,80.84L656.69,80.60L656.86,80.46L657.03,80.43L657.19,80.50L657.36,80.67L657.53,80.94L657.70,81.31L657.86,81.76L658.03,82.30L658.20,82.92L658.36,83.59L658.53,84.33L658.70,85.10L658.87,85.90L659.03,86.72L659.20,87.55L659.37,88.37L659.54,89.16L659.70,89.92L659.87,90.64L660.04,91.30L660.21,91.89L660.37,92.40L660.54,92.83L660.71,93.16L660.88,93.40L661.04,93.54L661.21,93.57L661.38,93.50L661.55,93.33L661.71,93.06L661.88,92.69L662.05,92.24L662.21,91.70L662.38,91.08L662.55,90.41L662.72,89.67L662.88,88.90L663.05,88.10L663.22,87.28L663.39,86.45L663.55,85.63L663.72,84.84L663.89,84.08L664.06,83.36L664.22,82.70L664.39,82.11L664.56,81.60L664.73,81.17L664.89,80.84L665.06,80.60L665.23,80.46L665.39,80.43L665.56,80.50L665.73,80.67L665.90,80.94L666.06,81.31L666.23,81.76L666.40,82.30L666.57,82.92L666.73,83.59L666.90,84.33L667.07,85.10L667.24,85.90L667.40,86.72L667.57,87.55L667.74,88.37L667.91,89.16L668.07,89.92L668.24,90.64L668.41,91.30L668.57,91.89L668.74,92.40L668.91,92.83L669.08,93.16L669.24,93.40L669.41,93.54L669.58,93.57L669.75,93.50L669.91,93.33L670.08,93.06L670.25,92.69L670.42,92.24L670.58,91.70L670.75,91.08L670.92,90.41L671.09,89.67L671.25,88.90L671.42,88.10L671.59,87.28L671.75,86.45L671.92,85.63L672.09,84.84L672.26,84.08L672.42,83.36L672.59,82.70L672.76,82.11L672.93,81.60L673.09,81.17L673.26,80.84L673.43,80.60L673.60,80.46L673.76,80.43L673.93,80.50L674.10,80.67L674.27,80.94L674.43,81.31L674.60,81.76" stroke="#18ee18" class="ln" stroke-width="2.2"/>
</g>
<line x1="423.54" y1="156.20" x2="423.54" y2="153.20" class="tkv"/>
<line x1="423.54" y1="17.80" x2="423.54" y2="20.80" class="tkv"/>
<line x1="465.39" y1="156.20" x2="465.39" y2="153.20" class="tkv"/>
<line x1="465.39" y1="17.80" x2="465.39" y2="20.80" class="tkv"/>
<line x1="507.23" y1="156.20" x2="507.23" y2="153.20" class="tkv"/>
<line x1="507.23" y1="17.80" x2="507.23" y2="20.80" class="tkv"/>
<line x1="549.07" y1="156.20" x2="549.07" y2="153.20" class="tkv"/>
<line x1="549.07" y1="17.80" x2="549.07" y2="20.80" class="tkv"/>
<line x1="590.91" y1="156.20" x2="590.91" y2="153.20" class="tkv"/>
<line x1="590.91" y1="17.80" x2="590.91" y2="20.80" class="tkv"/>
<line x1="632.76" y1="156.20" x2="632.76" y2="153.20" class="tkv"/>
<line x1="632.76" y1="17.80" x2="632.76" y2="20.80" class="tkv"/>
<line x1="381.70" y1="121.60" x2="384.70" y2="121.60" class="tk"/>
<line x1="674.60" y1="121.60" x2="671.60" y2="121.60" class="tk"/>
<line x1="381.70" y1="87.00" x2="384.70" y2="87.00" class="tk"/>
<line x1="674.60" y1="87.00" x2="671.60" y2="87.00" class="tk"/>
<line x1="381.70" y1="52.40" x2="384.70" y2="52.40" class="tk"/>
<line x1="674.60" y1="52.40" x2="671.60" y2="52.40" class="tk"/>
<path d="M381.00,17.80H675.30M381.00,156.20H675.30" class="bxh"/>
<path d="M381.70,17.80V156.20M674.60,17.80V156.20" class="bxv"/>
<text x="381.70" y="172.10" class="tl" text-anchor="middle">0</text>
<text x="423.54" y="172.10" class="tl" text-anchor="middle">0.1</text>
<text x="465.39" y="172.10" class="tl" text-anchor="middle">0.2</text>
<text x="507.23" y="172.10" class="tl" text-anchor="middle">0.3</text>
<text x="549.07" y="172.10" class="tl" text-anchor="middle">0.4</text>
<text x="590.91" y="172.10" class="tl" text-anchor="middle">0.5</text>
<text x="632.76" y="172.10" class="tl" text-anchor="middle">0.6</text>
<text x="674.60" y="172.10" class="tl" text-anchor="middle">0.7</text>
<text x="378.90" y="160.10" class="tl" text-anchor="end">-200</text>
<text x="378.90" y="125.50" class="tl" text-anchor="end">-100</text>
<text x="378.90" y="90.90" class="tl" text-anchor="end">0</text>
<text x="378.90" y="56.30" class="tl" text-anchor="end">100</text>
<text x="378.90" y="21.70" class="tl" text-anchor="end">200</text>
<text x="441.1" y="10.6" class="tt" textLength="175.8" lengthAdjust="spacingAndGlyphs">REFERENCE CURRENT WAVEFORM</text>
<text x="494.8" y="187.8" class="lb" textLength="66.8" lengthAdjust="spacingAndGlyphs">Time (seconds)</text>
<text transform="translate(355.40,120.50) rotate(-90) scale(1,0.7)" x="0" y="0" class="yl" textLength="69.0" lengthAdjust="spacingAndGlyphs">Current (A)</text><line x1="42.58" y1="239.20" x2="42.58" y2="373.00" class="mn"/>
<line x1="50.97" y1="239.20" x2="50.97" y2="373.00" class="mn"/>
<line x1="59.35" y1="239.20" x2="59.35" y2="373.00" class="mn"/>
<line x1="67.73" y1="239.20" x2="67.73" y2="373.00" class="mn"/>
<line x1="84.50" y1="239.20" x2="84.50" y2="373.00" class="mn"/>
<line x1="92.88" y1="239.20" x2="92.88" y2="373.00" class="mn"/>
<line x1="101.26" y1="239.20" x2="101.26" y2="373.00" class="mn"/>
<line x1="109.65" y1="239.20" x2="109.65" y2="373.00" class="mn"/>
<line x1="126.41" y1="239.20" x2="126.41" y2="373.00" class="mn"/>
<line x1="134.79" y1="239.20" x2="134.79" y2="373.00" class="mn"/>
<line x1="143.18" y1="239.20" x2="143.18" y2="373.00" class="mn"/>
<line x1="151.56" y1="239.20" x2="151.56" y2="373.00" class="mn"/>
<line x1="168.33" y1="239.20" x2="168.33" y2="373.00" class="mn"/>
<line x1="176.71" y1="239.20" x2="176.71" y2="373.00" class="mn"/>
<line x1="185.09" y1="239.20" x2="185.09" y2="373.00" class="mn"/>
<line x1="193.47" y1="239.20" x2="193.47" y2="373.00" class="mn"/>
<line x1="210.24" y1="239.20" x2="210.24" y2="373.00" class="mn"/>
<line x1="218.62" y1="239.20" x2="218.62" y2="373.00" class="mn"/>
<line x1="227.01" y1="239.20" x2="227.01" y2="373.00" class="mn"/>
<line x1="235.39" y1="239.20" x2="235.39" y2="373.00" class="mn"/>
<line x1="252.15" y1="239.20" x2="252.15" y2="373.00" class="mn"/>
<line x1="260.54" y1="239.20" x2="260.54" y2="373.00" class="mn"/>
<line x1="268.92" y1="239.20" x2="268.92" y2="373.00" class="mn"/>
<line x1="277.30" y1="239.20" x2="277.30" y2="373.00" class="mn"/>
<line x1="294.07" y1="239.20" x2="294.07" y2="373.00" class="mn"/>
<line x1="302.45" y1="239.20" x2="302.45" y2="373.00" class="mn"/>
<line x1="310.83" y1="239.20" x2="310.83" y2="373.00" class="mn"/>
<line x1="319.22" y1="239.20" x2="319.22" y2="373.00" class="mn"/>
<line x1="35.20" y1="367.21" x2="326.60" y2="367.21" class="mnh"/>
<line x1="35.20" y1="360.42" x2="326.60" y2="360.42" class="mnh"/>
<line x1="35.20" y1="353.63" x2="326.60" y2="353.63" class="mnh"/>
<line x1="35.20" y1="346.84" x2="326.60" y2="346.84" class="mnh"/>
<line x1="35.20" y1="333.26" x2="326.60" y2="333.26" class="mnh"/>
<line x1="35.20" y1="326.47" x2="326.60" y2="326.47" class="mnh"/>
<line x1="35.20" y1="319.68" x2="326.60" y2="319.68" class="mnh"/>
<line x1="35.20" y1="312.89" x2="326.60" y2="312.89" class="mnh"/>
<line x1="35.20" y1="299.31" x2="326.60" y2="299.31" class="mnh"/>
<line x1="35.20" y1="292.52" x2="326.60" y2="292.52" class="mnh"/>
<line x1="35.20" y1="285.73" x2="326.60" y2="285.73" class="mnh"/>
<line x1="35.20" y1="278.94" x2="326.60" y2="278.94" class="mnh"/>
<line x1="35.20" y1="265.36" x2="326.60" y2="265.36" class="mnh"/>
<line x1="35.20" y1="258.57" x2="326.60" y2="258.57" class="mnh"/>
<line x1="35.20" y1="251.78" x2="326.60" y2="251.78" class="mnh"/>
<line x1="35.20" y1="244.99" x2="326.60" y2="244.99" class="mnh"/>
<line x1="76.11" y1="239.20" x2="76.11" y2="373.00" class="mj"/>
<line x1="118.03" y1="239.20" x2="118.03" y2="373.00" class="mj"/>
<line x1="159.94" y1="239.20" x2="159.94" y2="373.00" class="mj"/>
<line x1="201.86" y1="239.20" x2="201.86" y2="373.00" class="mj"/>
<line x1="243.77" y1="239.20" x2="243.77" y2="373.00" class="mj"/>
<line x1="285.69" y1="239.20" x2="285.69" y2="373.00" class="mj"/>
<line x1="35.20" y1="340.05" x2="326.60" y2="340.05" class="mjh"/>
<line x1="35.20" y1="306.10" x2="326.60" y2="306.10" class="mjh"/>
<line x1="35.20" y1="272.15" x2="326.60" y2="272.15" class="mjh"/>
<g clip-path="url(#c_bl)">
<path d="M34.23,311.94L34.34,313.70L34.49,316.23L34.66,319.03L34.82,321.62L34.95,323.84L35.08,325.97L35.20,328.12L35.33,330.40L35.46,333.17L35.59,336.26L35.72,339.00L35.86,340.67L36.02,340.87L36.18,340.03L36.35,338.79L36.49,337.78L36.61,337.09L36.72,336.41L36.81,335.77L36.89,335.19L36.96,334.82L37.01,334.61L37.05,334.23L37.12,333.39L37.21,331.75L37.32,329.55L37.42,327.36L37.52,325.71L37.60,324.93L37.68,324.67L37.75,324.45L37.84,323.81L37.94,322.61L38.05,321.10L38.16,319.40L38.25,317.62L38.33,315.72L38.39,313.66L38.45,311.59L38.51,309.64L38.57,307.71L38.63,305.76L38.70,304.08L38.78,302.96L38.87,302.75L38.98,303.21L39.09,303.71L39.20,303.66L39.30,302.80L39.41,301.50L39.51,300.00L39.61,298.57L39.69,297.10L39.77,295.53L39.84,294.10L39.93,293.08L40.03,292.59L40.13,292.47L40.25,292.55L40.36,292.68L40.46,292.84L40.57,293.11L40.67,293.44L40.77,293.78L40.85,294.15L40.93,294.58L41.00,294.97L41.09,295.27L41.18,295.41L41.29,295.45L41.39,295.47L41.50,295.57L41.60,295.70L41.71,295.84L41.81,296.12L41.92,296.67L42.02,297.55L42.14,298.68L42.25,300.00L42.35,301.46L42.44,303.17L42.52,305.12L42.60,307.06L42.66,308.74L42.69,310.24L42.70,311.63L42.72,312.70L42.76,313.23L42.85,312.97L42.96,312.09L43.07,311.06L43.18,310.34L43.25,309.98L43.32,309.75L43.38,309.72L43.45,309.94L43.52,310.50L43.60,311.33L43.68,312.30L43.76,313.23L43.86,314.32L43.96,315.56L44.07,316.56L44.18,316.93L44.28,316.40L44.39,315.24L44.49,313.82L44.59,312.54L44.70,311.39L44.80,310.21L44.89,309.10L44.96,308.15L44.99,307.47L44.99,307.00L44.99,306.52L45.02,305.85L45.10,304.81L45.20,303.54L45.32,302.33L45.44,301.46L45.57,301.15L45.71,301.19L45.85,301.27L45.97,301.06L46.06,300.55L46.13,299.89L46.20,298.99L46.28,297.77L46.38,295.80L46.49,293.25L46.60,290.97L46.70,289.79L46.78,290.12L46.86,291.46L46.94,293.24L47.01,294.87L47.09,296.38L47.17,298.00L47.25,299.53L47.33,300.76L47.41,301.62L47.48,302.23L47.56,302.65L47.64,302.96L47.72,303.03L47.80,302.87L47.88,302.76L47.96,302.96L48.04,303.61L48.12,304.56L48.20,305.60L48.27,306.55L48.32,307.26L48.36,307.86L48.41,308.59L48.47,309.64L48.56,311.18L48.67,313.05L48.79,315.03L48.90,316.93L49.02,318.93L49.14,321.07L49.26,322.86L49.37,323.81L49.47,323.51L49.56,322.31L49.65,320.87L49.73,319.82L49.81,319.28L49.89,318.92L49.97,318.74L50.05,318.72L50.12,318.87L50.18,319.18L50.25,319.66L50.32,320.32L50.40,321.49L50.48,323.07L50.56,324.37L50.63,324.71L50.69,323.73L50.75,321.85L50.80,319.58L50.85,317.42L50.90,315.44L50.94,313.38L50.99,311.33L51.05,309.34L51.12,307.36L51.20,305.38L51.28,303.55L51.36,302.06L51.44,301.12L51.51,300.58L51.59,300.06L51.68,299.17L51.78,297.79L51.88,296.14L51.99,294.31L52.09,292.38L52.20,290.24L52.31,287.88L52.42,285.58L52.52,283.60L52.61,282.04L52.69,280.76L52.76,279.62L52.84,278.51L52.91,277.25L52.99,275.95L53.07,274.93L53.15,274.52L53.25,274.96L53.36,276.04L53.47,277.35L53.57,278.51L53.65,279.49L53.73,280.47L53.81,281.39L53.88,282.20L53.96,282.75L54.04,283.12L54.12,283.58L54.20,284.40L54.28,285.70L54.36,287.33L54.43,289.14L54.51,290.98L54.59,292.91L54.68,294.96L54.76,297.02L54.83,298.97L54.88,300.75L54.92,302.45L54.96,304.10L55.03,305.75L55.12,307.46L55.23,309.19L55.35,310.85L55.46,312.34L55.56,313.61L55.66,314.72L55.76,315.74L55.87,316.73L56.00,317.73L56.13,318.70L56.27,319.59L56.40,320.32L56.52,320.98L56.63,321.57L56.75,321.91L56.92,321.82L57.15,321.21L57.43,320.21L57.71,318.89L57.98,317.33L58.20,315.38L58.40,313.07L58.60,310.69L58.82,308.54L59.09,306.65L59.38,304.86L59.65,303.25L59.87,301.92L60.00,300.96L60.08,300.29L60.14,299.76L60.20,299.20L60.29,298.58L60.37,297.99L60.46,297.43L60.54,296.91L60.62,296.42L60.71,295.97L60.79,295.56L60.88,295.19L60.97,294.86L61.06,294.57L61.15,294.33L61.21,294.16L61.38,293.93L61.55,293.89L61.71,294.03L61.88,294.37L62.05,294.90L62.22,295.60L62.38,296.47L62.55,297.48L62.72,298.64L62.89,299.91L63.06,301.28L63.22,302.73L63.39,304.23L63.56,305.75L63.73,307.29L63.89,308.80L64.06,310.28L64.23,311.68L64.40,313.00L64.56,314.21L64.73,315.29L64.90,316.23L65.07,317.01L65.23,317.61L65.40,318.04L65.57,318.27L65.74,318.31L65.91,318.17L66.07,317.83L66.24,317.30L66.41,316.60L66.58,315.73L66.74,314.72L66.91,313.56L67.08,312.29L67.25,310.92L67.41,309.47L67.58,307.97L67.75,306.45L67.92,304.91L68.08,303.40L68.25,301.92L68.42,300.52L68.59,299.20L68.76,297.99L68.92,296.91L69.09,295.97L69.26,295.19L69.43,294.59L69.59,294.16L69.76,293.93L69.93,293.89L70.10,294.03L70.26,294.37L70.43,294.90L70.60,295.60L70.77,296.47L70.94,297.48L71.10,298.64L71.27,299.91L71.44,301.28L71.61,302.73L71.77,304.23L71.94,305.75L72.11,307.29L72.28,308.80L72.44,310.28L72.61,311.68L72.78,313.00L72.95,314.21L73.11,315.29L73.28,316.23L73.45,317.01L73.62,317.61L73.79,318.04L73.95,318.27L74.12,318.31L74.29,318.17L74.46,317.83L74.62,317.30L74.79,316.60L74.96,315.73L75.13,314.72L75.29,313.56L75.46,312.29L75.63,310.92L75.80,309.47L75.96,307.97L76.13,306.45L76.30,304.91L76.47,303.40L76.64,301.92L76.80,300.52L76.97,299.20L77.14,297.99L77.31,296.91L77.47,295.97L77.64,295.19L77.81,294.59L77.98,294.16L78.14,293.93L78.31,293.89L78.48,294.03L78.65,294.37L78.81,294.90L78.98,295.60L79.15,296.47L79.32,297.48L79.49,298.64L79.65,299.91L79.82,301.28L79.99,302.73L80.16,304.23L80.32,305.75L80.49,307.29L80.66,308.80L80.83,310.28L80.99,311.68L81.16,313.00L81.33,314.21L81.50,315.29L81.67,316.23L81.83,317.01L82.00,317.61L82.17,318.04L82.34,318.27L82.50,318.31L82.67,318.17L82.84,317.83L83.01,317.30L83.17,316.60L83.34,315.73L83.51,314.72L83.68,313.56L83.84,312.29L84.01,310.92L84.18,309.47L84.35,307.97L84.52,306.45L84.68,304.91L84.85,303.40L85.02,301.92L85.19,300.52L85.35,299.20L85.52,297.99L85.69,296.91L85.86,295.97L86.02,295.19L86.19,294.59L86.36,294.16L86.53,293.93L86.69,293.89L86.86,294.03L87.03,294.37L87.20,294.90L87.37,295.60L87.53,296.47L87.70,297.48L87.87,298.64L88.04,299.91L88.20,301.28L88.37,302.73L88.54,304.23L88.71,305.75L88.87,307.29L89.04,308.80L89.21,310.28L89.38,311.68L89.54,313.00L89.71,314.21L89.88,315.29L90.05,316.23L90.22,317.01L90.38,317.61L90.55,318.04L90.72,318.27L90.89,318.31L91.05,318.17L91.22,317.83L91.39,317.30L91.56,316.60L91.72,315.73L91.89,314.72L92.06,313.56L92.23,312.29L92.40,310.92L92.56,309.47L92.73,307.97L92.90,306.45L93.07,304.91L93.23,303.40L93.40,301.92L93.57,300.52L93.74,299.20L93.90,297.99L94.07,296.91L94.24,295.97L94.41,295.19L94.57,294.59L94.74,294.16L94.91,293.93L95.08,293.89L95.25,294.03L95.41,294.37L95.58,294.90L95.75,295.60L95.92,296.47L96.08,297.48L96.25,298.64L96.42,299.91L96.59,301.28L96.75,302.73L96.92,304.23L97.09,305.75L97.26,307.29L97.42,308.80L97.59,310.28L97.76,311.68L97.93,313.00L98.10,314.21L98.26,315.29L98.43,316.23L98.60,317.01L98.77,317.61L98.93,318.04L99.10,318.27L99.27,318.31L99.44,318.17L99.60,317.83L99.77,317.30L99.94,316.60L100.11,315.73L100.28,314.72L100.44,313.56L100.61,312.29L100.78,310.92L100.95,309.47L101.11,307.97L101.28,306.45L101.45,304.91L101.62,303.40L101.78,301.92L101.95,300.52L102.12,299.20L102.29,297.99L102.45,296.91L102.62,295.97L102.79,295.19L102.96,294.59L103.13,294.16L103.29,293.93L103.46,293.89L103.63,294.03L103.80,294.37L103.96,294.90L104.13,295.60L104.30,296.47L104.47,297.48L104.63,298.64L104.80,299.91L104.97,301.28L105.14,302.73L105.30,304.23L105.47,305.75L105.64,307.29L105.81,308.80L105.98,310.28L106.14,311.68L106.31,313.00L106.48,314.21L106.65,315.29L106.81,316.23L106.98,317.01L107.15,317.61L107.32,318.04L107.48,318.27L107.65,318.31L107.82,318.17L107.99,317.83L108.15,317.30L108.32,316.60L108.49,315.73L108.66,314.72L108.83,313.56L108.99,312.29L109.16,310.92L109.33,309.47L109.50,307.97L109.66,306.45L109.83,304.91L110.00,303.40L110.17,301.92L110.33,300.52L110.50,299.20L110.67,297.99L110.84,296.91L111.01,295.97L111.17,295.19L111.34,294.59L111.51,294.16L111.68,293.93L111.84,293.89L112.01,294.03L112.18,294.37L112.35,294.90L112.51,295.60L112.68,296.47L112.85,297.48L113.02,298.64L113.18,299.91L113.35,301.28L113.52,302.73L113.69,304.23L113.86,305.75L114.02,307.29L114.19,308.80L114.36,310.28L114.53,311.68L114.69,313.00L114.86,314.21L115.03,315.29L115.20,316.23L115.36,317.01L115.53,317.61L115.70,318.04L115.87,318.27L116.03,318.31L116.20,318.17L116.37,317.83L116.54,317.30L116.71,316.60L116.87,315.73L117.04,314.72L117.21,313.56L117.38,312.29L117.54,310.92L117.71,309.47L117.88,307.97L118.05,306.45L118.21,304.91L118.38,303.40L118.55,301.92L118.72,300.52L118.88,299.20L119.05,297.99L119.22,296.91L119.39,295.97L119.56,295.19L119.72,294.59L119.89,294.16L120.06,293.93L120.23,293.89L120.39,294.03L120.56,294.37L120.73,294.90L120.90,295.60L121.06,296.47L121.23,297.48L121.40,298.64L121.57,299.91L121.74,301.28L121.90,302.73L122.07,304.23L122.24,305.75L122.41,307.29L122.57,308.80L122.74,310.28L122.91,311.68L123.08,313.00L123.24,314.21L123.41,315.29L123.58,316.23L123.75,317.01L123.91,317.61L124.08,318.04L124.25,318.27L124.42,318.31L124.59,318.17L124.75,317.83L124.92,317.30L125.09,316.60L125.26,315.73L125.42,314.72L125.59,313.56L125.76,312.29L125.93,310.92L126.09,309.47L126.26,307.97L126.43,306.45L126.60,304.91L126.76,303.40L126.93,301.92L127.10,300.52L127.27,299.20L127.44,297.99L127.60,296.91L127.77,295.97L127.94,295.19L128.11,294.59L128.27,294.16L128.44,293.93L128.61,293.89L128.78,294.03L128.94,294.37L129.11,294.90L129.28,295.60L129.45,296.47L129.62,297.48L129.78,298.64L129.95,299.91L130.12,301.28L130.29,302.73L130.45,304.23L130.62,305.75L130.79,307.29L130.96,308.80L131.12,310.28L131.29,311.68L131.46,313.00L131.63,314.21L131.79,315.29L131.96,316.23L132.13,317.01L132.30,317.61L132.47,318.04L132.63,318.27L132.80,318.31L132.97,318.17L133.14,317.83L133.30,317.30L133.47,316.60L133.64,315.73L133.81,314.72L133.97,313.56L134.14,312.29L134.31,310.92L134.48,309.47L134.64,307.97L134.81,306.45L134.98,304.91L135.15,303.40L135.32,301.92L135.48,300.52L135.65,299.20L135.82,297.99L135.99,296.91L136.15,295.97L136.32,295.19L136.49,294.59L136.66,294.16L136.82,293.93L136.99,293.89L137.16,294.03L137.33,294.37L137.49,294.90L137.66,295.60L137.83,296.47L138.00,297.48L138.17,298.64L138.33,299.91L138.50,301.28L138.67,302.73L138.84,304.23L139.00,305.75L139.17,307.29L139.34,308.80L139.51,310.28L139.67,311.68L139.84,313.00L140.01,314.21L140.18,315.29L140.35,316.23L140.51,317.01L140.68,317.61L140.85,318.04L141.02,318.27L141.18,318.31L141.35,318.17L141.52,317.83L141.69,317.30L141.85,316.60L142.02,315.73L142.19,314.72L142.36,313.56L142.52,312.29L142.69,310.92L142.86,309.47L143.03,307.97L143.20,306.45L143.36,304.91L143.53,303.40L143.70,301.92L143.87,300.52L144.03,299.20L144.20,297.99L144.37,296.91L144.54,295.97L144.70,295.19L144.87,294.59L145.04,294.16L145.21,293.93L145.37,293.89L145.54,294.03L145.71,294.37L145.88,294.90L146.05,295.60L146.21,296.47L146.38,297.48L146.55,298.64L146.72,299.91L146.88,301.28L147.05,302.73L147.22,304.23L147.39,305.75L147.55,307.29L147.72,308.80L147.89,310.28L148.06,311.68L148.22,313.00L148.39,314.21L148.56,315.29L148.73,316.23L148.90,317.01L149.06,317.61L149.23,318.04L149.40,318.27L149.57,318.31L149.73,318.17L149.90,317.83L150.07,317.30L150.24,316.60L150.40,315.73L150.57,314.72L150.74,313.56L150.91,312.29L151.08,310.92L151.24,309.47L151.41,307.97L151.58,306.45L151.75,304.91L151.91,303.40L152.08,301.92L152.25,300.52L152.42,299.20L152.58,297.99L152.75,296.91L152.92,295.97L153.09,295.19L153.25,294.59L153.42,294.16L153.59,293.93L153.76,293.89L153.93,294.03L154.09,294.37L154.26,294.90L154.43,295.60L154.60,296.47L154.76,297.48L154.93,298.64L155.10,299.91L155.27,301.28L155.43,302.73L155.60,304.23L155.77,305.75L155.94,307.29L156.10,308.80L156.27,310.28L156.44,311.68L156.61,313.00L156.78,314.21L156.94,315.29L157.11,316.23L157.28,317.01L157.45,317.61L157.61,318.04L157.78,318.27L157.95,318.31L158.12,318.17L158.28,317.83L158.45,317.30L158.62,316.60L158.79,315.73L158.96,314.72L159.12,313.56L159.29,312.29L159.46,310.92L159.63,309.47L159.79,307.97L159.96,306.45L160.13,304.91L160.30,303.40L160.46,301.92L160.63,300.52L160.80,299.20L160.97,297.99L161.13,296.91L161.30,295.97L161.47,295.19L161.64,294.59L161.81,294.16L161.97,293.93L162.14,293.89L162.31,294.03L162.48,294.37L162.64,294.90L162.81,295.60L162.98,296.47L163.15,297.48L163.31,298.64L163.48,299.91L163.65,301.28L163.82,302.73L163.98,304.23L164.15,305.75L164.32,307.29L164.49,308.80L164.66,310.28L164.82,311.68L164.99,313.00L165.16,314.21L165.33,315.29L165.49,316.23L165.66,317.01L165.83,317.61L166.00,318.04L166.16,318.27L166.33,318.31L166.50,318.17L166.67,317.83L166.83,317.30L167.00,316.60L167.17,315.73L167.34,314.72L167.51,313.56L167.67,312.29L167.84,310.92L168.01,309.47L168.18,307.97L168.34,306.45L168.51,304.91L168.68,303.40L168.85,301.92L169.01,300.52L169.18,299.20L169.35,297.99L169.52,296.91L169.69,295.97L169.85,295.19L170.02,294.59L170.19,294.16L170.36,293.93L170.52,293.89L170.69,294.03L170.86,294.37L171.03,294.90L171.19,295.60L171.36,296.47L171.53,297.48L171.70,298.64L171.86,299.91L172.03,301.28L172.20,302.73L172.37,304.23L172.54,305.75L172.70,307.29L172.87,308.80L173.04,310.28L173.21,311.68L173.37,313.00L173.54,314.21L173.71,315.29L173.88,316.23L174.04,317.01L174.21,317.61L174.38,318.04L174.55,318.27L174.71,318.31L174.88,318.17L175.05,317.83L175.22,317.30L175.39,316.60L175.55,315.73L175.72,314.72L175.89,313.56L176.06,312.29L176.22,310.92L176.39,309.47L176.56,307.97L176.73,306.45L176.89,304.91L177.06,303.40L177.23,301.92L177.40,300.52L177.56,299.20L177.73,297.99L177.90,296.91L178.07,295.97L178.24,295.19L178.40,294.59L178.57,294.16L178.74,293.93L178.91,293.89L179.07,294.03L179.24,294.37L179.41,294.90L179.58,295.60L179.74,296.47L179.91,297.48L180.08,298.64L180.25,299.91L180.42,301.28L180.58,302.73L180.75,304.23L180.92,305.75L181.09,307.29L181.25,308.80L181.42,310.28L181.59,311.68L181.76,313.00L181.92,314.21L182.09,315.29L182.26,316.23L182.43,317.01L182.59,317.61L182.76,318.04L182.93,318.27L183.10,318.31L183.27,318.17L183.43,317.83L183.60,317.30L183.77,316.60L183.94,315.73L184.10,314.72L184.27,313.56L184.44,312.29L184.61,310.92L184.77,309.47L184.94,307.97L185.11,306.45L185.28,304.91L185.44,303.40L185.61,301.92L185.78,300.52L185.95,299.20L186.12,297.99L186.28,296.91L186.45,295.97L186.62,295.19L186.79,294.59L186.95,294.16L187.12,293.93L187.29,293.89L187.46,294.03L187.62,294.37L187.79,294.90L187.96,295.60L188.13,296.47L188.30,297.48L188.46,298.64L188.63,299.91L188.80,301.28L188.97,302.73L189.13,304.23L189.30,305.75L189.47,307.29L189.64,308.80L189.80,310.28L189.97,311.68L190.14,313.00L190.31,314.21L190.47,315.29L190.64,316.23L190.81,317.01L190.98,317.61L191.15,318.04L191.31,318.27L191.48,318.31L191.65,318.17L191.82,317.83L191.98,317.30L192.15,316.60L192.32,315.73L192.49,314.72L192.65,313.56L192.82,312.29L192.99,310.92L193.16,309.47L193.32,307.97L193.49,306.45L193.66,304.91L193.83,303.40L194.00,301.92L194.16,300.52L194.33,299.20L194.50,297.99L194.67,296.91L194.83,295.97L195.00,295.19L195.17,294.59L195.34,294.16L195.50,293.93L195.67,293.89L195.84,294.03L196.01,294.37L196.17,294.90L196.34,295.60L196.51,296.47L196.68,297.48L196.85,298.64L197.01,299.91L197.18,301.28L197.35,302.73L197.52,304.23L197.68,305.75L197.85,307.29L198.02,308.80L198.19,310.28L198.35,311.68L198.52,313.00L198.69,314.21L198.86,315.29L199.03,316.23L199.19,317.01L199.36,317.61L199.53,318.04L199.70,318.27L199.86,318.31L200.03,318.17L200.20,317.83L200.37,317.30L200.53,316.60L200.70,315.73L200.87,314.72L201.04,313.56L201.20,312.29L201.37,310.92L201.54,309.47L201.71,307.97L201.88,306.45L202.04,304.91L202.21,303.40L202.38,301.92L202.55,300.52L202.71,299.20L202.88,297.99L203.05,296.91L203.22,295.97L203.38,295.19L203.55,294.59L203.72,294.16L203.89,293.93L204.05,293.89L204.22,294.03L204.39,294.37L204.56,294.90L204.73,295.60L204.89,296.47L205.06,297.48L205.23,298.64L205.40,299.91L205.56,301.28L205.73,302.73L205.90,304.23L206.07,305.75L206.23,307.29L206.40,308.80L206.57,310.28L206.74,311.68L206.90,313.00L207.07,314.21L207.24,315.29L207.41,316.23L207.58,317.01L207.74,317.61L207.91,318.04L208.08,318.27L208.25,318.31L208.41,318.17L208.58,317.83L208.75,317.30L208.92,316.60L209.08,315.73L209.25,314.72L209.42,313.56L209.59,312.29L209.76,310.92L209.92,309.47L210.09,307.97L210.26,306.45L210.43,304.91L210.59,303.40L210.76,301.92L210.93,300.52L211.10,299.20L211.26,297.99L211.43,296.91L211.60,295.97L211.77,295.19L211.93,294.59L212.10,294.16L212.27,293.93L212.44,293.89L212.61,294.03L212.77,294.37L212.94,294.90L213.11,295.60L213.28,296.47L213.44,297.48L213.61,298.64L213.78,299.91L213.95,301.28L214.11,302.73L214.28,304.23L214.45,305.75L214.62,307.29L214.78,308.80L214.95,310.28L215.12,311.68L215.29,313.00L215.46,314.21L215.62,315.29L215.79,316.23L215.96,317.01L216.13,317.61L216.29,318.04L216.46,318.27L216.63,318.31L216.80,318.17L216.96,317.83L217.13,317.30L217.30,316.60L217.47,315.73L217.64,314.72L217.80,313.56L217.97,312.29L218.14,310.92L218.31,309.47L218.47,307.97L218.64,306.45L218.81,304.91L218.98,303.40L219.14,301.92L219.31,300.52L219.48,299.20L219.65,297.99L219.81,296.91L219.98,295.97L220.15,295.19L220.32,294.59L220.49,294.16L220.65,293.93L220.82,293.89L220.99,294.03L221.16,294.37L221.32,294.90L221.49,295.60L221.66,296.47L221.83,297.48L221.99,298.64L222.16,299.91L222.33,301.28L222.50,302.73L222.66,304.23L222.83,305.75L223.00,307.29L223.17,308.80L223.34,310.28L223.50,311.68L223.67,313.00L223.84,314.21L224.01,315.29L224.17,316.23L224.34,317.01L224.51,317.61L224.68,318.04L224.84,318.27L225.01,318.31L225.18,318.17L225.35,317.83L225.51,317.30L225.68,316.60L225.85,315.73L226.02,314.72L226.19,313.56L226.35,312.29L226.52,310.92L226.69,309.47L226.86,307.97L227.02,306.45L227.19,304.91L227.36,303.40L227.53,301.92L227.69,300.52L227.86,299.20L228.03,297.99L228.20,296.91L228.37,295.97L228.53,295.19L228.70,294.59L228.87,294.16L229.04,293.93L229.20,293.89L229.37,294.03L229.54,294.37L229.71,294.90L229.87,295.60L230.04,296.47L230.21,297.48L230.38,298.64L230.54,299.91L230.71,301.28L230.88,302.73L231.05,304.23L231.22,305.75L231.38,307.29L231.55,308.80L231.72,310.28L231.89,311.68L232.05,313.00L232.22,314.21L232.39,315.29L232.56,316.23L232.72,317.01L232.89,317.61L233.06,318.04L233.23,318.27L233.39,318.31L233.56,318.17L233.73,317.83L233.90,317.30L234.07,316.60L234.23,315.73L234.40,314.72L234.57,313.56L234.74,312.29L234.90,310.92L235.07,309.47L235.24,307.97L235.41,306.45L235.57,304.91L235.74,303.40L235.91,301.92L236.08,300.52L236.24,299.20L236.41,297.99L236.58,296.91L236.75,295.97L236.92,295.19L237.08,294.59L237.25,294.16L237.42,293.93L237.59,293.89L237.75,294.03L237.92,294.37L238.09,294.90L238.26,295.60L238.42,296.47L238.59,297.48L238.76,298.64L238.93,299.91L239.10,301.28L239.26,302.73L239.43,304.23L239.60,305.75L239.77,307.29L239.93,308.80L240.10,310.28L240.27,311.68L240.44,313.00L240.60,314.21L240.77,315.29L240.94,316.23L241.11,317.01L241.27,317.61L241.44,318.04L241.61,318.27L241.78,318.31L241.95,318.17L242.11,317.83L242.28,317.30L242.45,316.60L242.62,315.73L242.78,314.72L242.95,313.56L243.12,312.29L243.29,310.92L243.45,309.47L243.62,307.97L243.79,306.45L243.96,304.91L244.12,303.40L244.29,301.92L244.46,300.52L244.63,299.20L244.80,297.99L244.96,296.91L245.13,295.97L245.30,295.19L245.47,294.59L245.63,294.16L245.80,293.93L245.97,293.89L246.14,294.03L246.30,294.37L246.47,294.90L246.64,295.60L246.81,296.47L246.98,297.48L247.14,298.64L247.31,299.91L247.48,301.28L247.65,302.73L247.81,304.23L247.98,305.75L248.15,307.29L248.32,308.80L248.48,310.28L248.65,311.68L248.82,313.00L248.99,314.21L249.15,315.29L249.32,316.23L249.49,317.01L249.66,317.61L249.83,318.04L249.99,318.27L250.16,318.31L250.33,318.17L250.50,317.83L250.66,317.30L250.83,316.60L251.00,315.73L251.17,314.72L251.33,313.56L251.50,312.29L251.67,310.92L251.84,309.47L252.00,307.97L252.17,306.45L252.34,304.91L252.51,303.40L252.68,301.92L252.84,300.52L253.01,299.20L253.18,297.99L253.35,296.91L253.51,295.97L253.68,295.19L253.85,294.59L254.02,294.16L254.18,293.93L254.35,293.89L254.52,294.03L254.69,294.37L254.85,294.90L255.02,295.60L255.19,296.47L255.36,297.48L255.53,298.64L255.69,299.91L255.86,301.28L256.03,302.73L256.20,304.23L256.36,305.75L256.53,307.29L256.70,308.80L256.87,310.28L257.03,311.68L257.20,313.00L257.37,314.21L257.54,315.29L257.71,316.23L257.87,317.01L258.04,317.61L258.21,318.04L258.38,318.27L258.54,318.31L258.71,318.17L258.88,317.83L259.05,317.30L259.21,316.60L259.38,315.73L259.55,314.72L259.72,313.56L259.88,312.29L260.05,310.92L260.22,309.47L260.39,307.97L260.56,306.45L260.72,304.91L260.89,303.40L261.06,301.92L261.23,300.52L261.39,299.20L261.56,297.99L261.73,296.91L261.90,295.97L262.06,295.19L262.23,294.59L262.40,294.16L262.57,293.93L262.73,293.89L262.90,294.03L263.07,294.37L263.24,294.90L263.41,295.60L263.57,296.47L263.74,297.48L263.91,298.64L264.08,299.91L264.24,301.28L264.41,302.73L264.58,304.23L264.75,305.75L264.91,307.29L265.08,308.80L265.25,310.28L265.42,311.68L265.58,313.00L265.75,314.21L265.92,315.29L266.09,316.23L266.26,317.01L266.42,317.61L266.59,318.04L266.76,318.27L266.93,318.31L267.09,318.17L267.26,317.83L267.43,317.30L267.60,316.60L267.76,315.73L267.93,314.72L268.10,313.56L268.27,312.29L268.44,310.92L268.60,309.47L268.77,307.97L268.94,306.45L269.11,304.91L269.27,303.40L269.44,301.92L269.61,300.52L269.78,299.20L269.94,297.99L270.11,296.91L270.28,295.97L270.45,295.19L270.61,294.59L270.78,294.16L270.95,293.93L271.12,293.89L271.29,294.03L271.45,294.37L271.62,294.90L271.79,295.60L271.96,296.47L272.12,297.48L272.29,298.64L272.46,299.91L272.63,301.28L272.79,302.73L272.96,304.23L273.13,305.75L273.30,307.29L273.46,308.80L273.63,310.28L273.80,311.68L273.97,313.00L274.14,314.21L274.30,315.29L274.47,316.23L274.64,317.01L274.81,317.61L274.97,318.04L275.14,318.27L275.31,318.31L275.48,318.17L275.64,317.83L275.81,317.30L275.98,316.60L276.15,315.73L276.32,314.72L276.48,313.56L276.65,312.29L276.82,310.92L276.99,309.47L277.15,307.97L277.32,306.45L277.49,304.91L277.66,303.40L277.82,301.92L277.99,300.52L278.16,299.20L278.33,297.99L278.49,296.91L278.66,295.97L278.83,295.19L279.00,294.59L279.17,294.16L279.33,293.93L279.50,293.89L279.67,294.03L279.84,294.37L280.00,294.90L280.17,295.60L280.34,296.47L280.51,297.48L280.67,298.64L280.84,299.91L281.01,301.28L281.18,302.73L281.34,304.23L281.51,305.75L281.68,307.29L281.85,308.80L282.02,310.28L282.18,311.68L282.35,313.00L282.52,314.21L282.69,315.29L282.85,316.23L283.02,317.01L283.19,317.61L283.36,318.04L283.52,318.27L283.69,318.31L283.86,318.17L284.03,317.83L284.19,317.30L284.36,316.60L284.53,315.73L284.70,314.72L284.87,313.56L285.03,312.29L285.20,310.92L285.37,309.47L285.54,307.97L285.70,306.45L285.87,304.91L286.04,303.40L286.21,301.92L286.37,300.52L286.54,299.20L286.71,297.99L286.88,296.91L287.05,295.97L287.21,295.19L287.38,294.59L287.55,294.16L287.72,293.93L287.88,293.89L288.05,294.03L288.22,294.37L288.39,294.90L288.55,295.60L288.72,296.47L288.89,297.48L289.06,298.64L289.22,299.91L289.39,301.28L289.56,302.73L289.73,304.23L289.90,305.75L290.06,307.29L290.23,308.80L290.40,310.28L290.57,311.68L290.73,313.00L290.90,314.21L291.07,315.29L291.24,316.23L291.40,317.01L291.57,317.61L291.74,318.04L291.91,318.27L292.07,318.31L292.24,318.17L292.41,317.83L292.58,317.30L292.75,316.60L292.91,315.73L293.08,314.72L293.25,313.56L293.42,312.29L293.58,310.92L293.75,309.47L293.92,307.97L294.09,306.45L294.25,304.91L294.42,303.40L294.59,301.92L294.76,300.52L294.92,299.20L295.09,297.99L295.26,296.91L295.43,295.97L295.60,295.19L295.76,294.59L295.93,294.16L296.10,293.93L296.27,293.89L296.43,294.03L296.60,294.37L296.77,294.90L296.94,295.60L297.10,296.47L297.27,297.48L297.44,298.64L297.61,299.91L297.78,301.28L297.94,302.73L298.11,304.23L298.28,305.75L298.45,307.29L298.61,308.80L298.78,310.28L298.95,311.68L299.12,313.00L299.28,314.21L299.45,315.29L299.62,316.23L299.79,317.01L299.95,317.61L300.12,318.04L300.29,318.27L300.46,318.31L300.63,318.17L300.79,317.83L300.96,317.30L301.13,316.60L301.30,315.73L301.46,314.72L301.63,313.56L301.80,312.29L301.97,310.92L302.13,309.47L302.30,307.97L302.47,306.45L302.64,304.91L302.80,303.40L302.97,301.92L303.14,300.52L303.31,299.20L303.48,297.99L303.64,296.91L303.81,295.97L303.98,295.19L304.15,294.59L304.31,294.16L304.48,293.93L304.65,293.89L304.82,294.03L304.98,294.37L305.15,294.90L305.32,295.60L305.49,296.47L305.66,297.48L305.82,298.64L305.99,299.91L306.16,301.28L306.33,302.73L306.49,304.23L306.66,305.75L306.83,307.29L307.00,308.80L307.16,310.28L307.33,311.68L307.50,313.00L307.67,314.21L307.83,315.29L308.00,316.23L308.17,317.01L308.34,317.61L308.51,318.04L308.67,318.27L308.84,318.31L309.01,318.17L309.18,317.83L309.34,317.30L309.51,316.60L309.68,315.73L309.85,314.72L310.01,313.56L310.18,312.29L310.35,310.92L310.52,309.47L310.68,307.97L310.85,306.45L311.02,304.91L311.19,303.40L311.36,301.92L311.52,300.52L311.69,299.20L311.86,297.99L312.03,296.91L312.19,295.97L312.36,295.19L312.53,294.59L312.70,294.16L312.86,293.93L313.03,293.89L313.20,294.03L313.37,294.37L313.53,294.90L313.70,295.60L313.87,296.47L314.04,297.48L314.21,298.64L314.37,299.91L314.54,301.28L314.71,302.73L314.88,304.23L315.04,305.75L315.21,307.29L315.38,308.80L315.55,310.28L315.71,311.68L315.88,313.00L316.05,314.21L316.22,315.29L316.39,316.23L316.55,317.01L316.72,317.61L316.89,318.04L317.06,318.27L317.22,318.31L317.39,318.17L317.56,317.83L317.73,317.30L317.89,316.60L318.06,315.73L318.23,314.72L318.40,313.56L318.56,312.29L318.73,310.92L318.90,309.47L319.07,307.97L319.24,306.45L319.40,304.91L319.57,303.40L319.74,301.92L319.91,300.52L320.07,299.20L320.24,297.99L320.41,296.91L320.58,295.97L320.74,295.19L320.91,294.59L321.08,294.16L321.25,293.93L321.41,293.89L321.58,294.03L321.75,294.37L321.92,294.90L322.09,295.60L322.25,296.47L322.42,297.48L322.59,298.64L322.76,299.91L322.92,301.28L323.09,302.73L323.26,304.23L323.43,305.75L323.59,307.29L323.76,308.80L323.93,310.28L324.10,311.68L324.26,313.00L324.43,314.21L324.60,315.29L324.77,316.23L324.94,317.01L325.10,317.61L325.27,318.04L325.44,318.27L325.61,318.31L325.77,318.17L325.94,317.83L326.11,317.30L326.28,316.60L326.44,315.73L326.61,314.72L326.78,313.56L326.95,312.29L327.12,310.92L327.28,309.47L327.45,307.97" stroke="#1cee1c" class="ln" stroke-width="1.8"/>
<path d="M34.23,301.26L34.29,297.82L34.39,292.88L34.50,287.39L34.60,282.30L34.70,277.47L34.81,272.52L34.91,268.07L35.02,264.74L35.12,262.89L35.22,262.12L35.33,261.94L35.43,261.85L35.54,261.92L35.65,262.34L35.76,262.82L35.86,263.05L35.94,262.72L36.01,262.07L36.09,261.61L36.18,261.85L36.29,262.94L36.42,264.62L36.56,266.70L36.69,269.03L36.83,271.67L36.96,274.67L37.10,277.84L37.21,281.01L37.29,284.40L37.34,288.03L37.40,291.34L37.46,293.78L37.55,294.97L37.64,295.29L37.74,295.30L37.84,295.57L37.93,296.15L38.02,296.77L38.11,297.54L38.19,298.57L38.28,300.00L38.36,301.75L38.43,303.55L38.51,305.15L38.58,306.55L38.64,307.87L38.70,309.00L38.78,309.84L38.87,310.34L38.98,310.56L39.09,310.57L39.20,310.44L39.30,310.12L39.41,309.59L39.51,308.98L39.61,308.44L39.70,307.90L39.77,307.32L39.85,306.88L39.93,306.75L40.02,307.21L40.11,308.09L40.20,308.90L40.30,309.14L40.39,308.60L40.48,307.57L40.57,306.33L40.66,305.15L40.74,304.12L40.82,303.08L40.89,301.97L40.97,300.76L41.05,299.20L41.13,297.38L41.21,295.79L41.29,294.87L41.36,294.95L41.44,295.69L41.52,296.68L41.60,297.47L41.68,298.10L41.75,298.76L41.83,299.22L41.92,299.27L42.02,298.78L42.12,297.89L42.24,296.77L42.35,295.57L42.45,294.08L42.55,292.28L42.66,290.69L42.76,289.79L42.87,289.85L42.97,290.58L43.07,291.58L43.18,292.48L43.27,293.14L43.36,293.78L43.45,294.55L43.55,295.57L43.65,297.08L43.76,298.92L43.87,300.74L43.98,302.16L44.08,303.03L44.19,303.57L44.30,303.96L44.39,304.35L44.48,304.73L44.56,305.01L44.63,305.34L44.71,305.85L44.79,306.64L44.88,307.60L44.96,308.62L45.02,309.54L45.06,310.22L45.07,310.77L45.09,311.45L45.12,312.54L45.18,314.54L45.26,317.17L45.35,319.48L45.44,320.52L45.53,319.67L45.64,317.56L45.75,315.10L45.85,313.23L45.96,312.10L46.07,311.24L46.18,310.65L46.28,310.34L46.39,310.59L46.49,311.31L46.59,311.91L46.70,311.84L46.80,310.79L46.90,309.12L47.01,307.22L47.11,305.45L47.22,303.90L47.32,302.37L47.42,300.84L47.53,299.27L47.63,297.41L47.73,295.35L47.83,293.61L47.96,292.68L48.11,292.99L48.28,294.18L48.45,295.54L48.59,296.37L48.69,296.57L48.76,296.49L48.82,296.07L48.90,295.27L49.00,293.61L49.11,291.26L49.22,289.17L49.32,288.29L49.40,289.10L49.48,291.03L49.56,293.41L49.63,295.57L49.71,297.44L49.79,299.34L49.86,301.20L49.95,302.96L50.04,304.67L50.13,306.35L50.23,307.85L50.32,309.04L50.40,309.65L50.47,309.82L50.55,310.05L50.63,310.84L50.73,312.42L50.83,314.49L50.94,316.76L51.05,318.92L51.15,320.98L51.25,323.06L51.36,325.07L51.46,326.90L51.57,328.77L51.68,330.65L51.79,332.07L51.91,332.59L52.03,331.75L52.17,329.89L52.30,327.79L52.41,326.21L52.50,325.31L52.57,324.71L52.64,324.31L52.72,324.01L52.83,323.99L52.95,324.24L53.06,324.37L53.15,324.01L53.22,323.04L53.26,321.66L53.30,319.99L53.35,318.12L53.42,316.06L53.50,313.75L53.58,311.25L53.67,308.64L53.77,305.85L53.87,302.86L53.98,299.85L54.10,296.97L54.22,294.10L54.35,291.21L54.48,288.61L54.61,286.59L54.74,285.32L54.88,284.60L55.01,284.23L55.14,284.00L55.27,283.88L55.40,283.98L55.53,284.26L55.66,284.70L55.79,285.31L55.92,286.11L56.06,287.03L56.19,287.99L56.32,289.00L56.46,290.09L56.59,291.23L56.72,292.38L56.84,293.53L56.96,294.71L57.07,295.91L57.18,297.17L57.26,298.38L57.33,299.57L57.42,300.93L57.56,302.66L57.78,305.03L58.06,307.86L58.35,310.67L58.61,312.93L58.81,314.52L59.00,315.69L59.17,316.58L59.35,317.33L59.53,318.01L59.70,318.54L59.88,318.81L60.08,318.72L60.34,318.10L60.63,317.04L60.91,315.86L61.13,314.88L61.26,314.19L61.34,313.62L61.40,313.08L61.46,312.49L61.55,311.83L61.63,311.13L61.72,310.42L61.80,309.70L61.88,308.96L61.97,308.21L62.05,307.44L62.14,306.68L62.23,305.85L62.32,304.97L62.41,304.18L62.47,303.63L62.64,302.15L62.81,300.73L62.97,299.39L63.14,298.17L63.31,297.06L63.48,296.10L63.64,295.30L63.81,294.67L63.98,294.22L64.15,293.95L64.31,293.88L64.48,294.00L64.65,294.31L64.82,294.81L64.99,295.48L65.15,296.32L65.32,297.32L65.49,298.45L65.66,299.71L65.82,301.07L65.99,302.50L66.16,303.99L66.33,305.52L66.49,307.05L66.66,308.57L66.83,310.05L67.00,311.47L67.17,312.81L67.33,314.03L67.50,315.14L67.67,316.10L67.84,316.90L68.00,317.53L68.17,317.98L68.34,318.25L68.51,318.32L68.67,318.20L68.84,317.89L69.01,317.39L69.18,316.72L69.34,315.88L69.51,314.88L69.68,313.75L69.85,312.49L70.02,311.13L70.18,309.70L70.35,308.21L70.52,306.68L70.69,305.15L70.85,303.63L71.02,302.15L71.19,300.73L71.36,299.39L71.52,298.17L71.69,297.06L71.86,296.10L72.03,295.30L72.19,294.67L72.36,294.22L72.53,293.95L72.70,293.88L72.87,294.00L73.03,294.31L73.20,294.81L73.37,295.48L73.54,296.32L73.70,297.32L73.87,298.45L74.04,299.71L74.21,301.07L74.37,302.50L74.54,303.99L74.71,305.52L74.88,307.05L75.04,308.57L75.21,310.05L75.38,311.47L75.55,312.81L75.72,314.03L75.88,315.14L76.05,316.10L76.22,316.90L76.39,317.53L76.55,317.98L76.72,318.25L76.89,318.32L77.06,318.20L77.22,317.89L77.39,317.39L77.56,316.72L77.73,315.88L77.90,314.88L78.06,313.75L78.23,312.49L78.40,311.13L78.57,309.70L78.73,308.21L78.90,306.68L79.07,305.15L79.24,303.63L79.40,302.15L79.57,300.73L79.74,299.39L79.91,298.17L80.07,297.06L80.24,296.10L80.41,295.30L80.58,294.67L80.75,294.22L80.91,293.95L81.08,293.88L81.25,294.00L81.42,294.31L81.58,294.81L81.75,295.48L81.92,296.32L82.09,297.32L82.25,298.45L82.42,299.71L82.59,301.07L82.76,302.50L82.92,303.99L83.09,305.52L83.26,307.05L83.43,308.57L83.60,310.05L83.76,311.47L83.93,312.81L84.10,314.03L84.27,315.14L84.43,316.10L84.60,316.90L84.77,317.53L84.94,317.98L85.10,318.25L85.27,318.32L85.44,318.20L85.61,317.89L85.77,317.39L85.94,316.72L86.11,315.88L86.28,314.88L86.45,313.75L86.61,312.49L86.78,311.13L86.95,309.70L87.12,308.21L87.28,306.68L87.45,305.15L87.62,303.63L87.79,302.15L87.95,300.73L88.12,299.39L88.29,298.17L88.46,297.06L88.63,296.10L88.79,295.30L88.96,294.67L89.13,294.22L89.30,293.95L89.46,293.88L89.63,294.00L89.80,294.31L89.97,294.81L90.13,295.48L90.30,296.32L90.47,297.32L90.64,298.45L90.80,299.71L90.97,301.07L91.14,302.50L91.31,303.99L91.48,305.52L91.64,307.05L91.81,308.57L91.98,310.05L92.15,311.47L92.31,312.81L92.48,314.03L92.65,315.14L92.82,316.10L92.98,316.90L93.15,317.53L93.32,317.98L93.49,318.25L93.65,318.32L93.82,318.20L93.99,317.89L94.16,317.39L94.33,316.72L94.49,315.88L94.66,314.88L94.83,313.75L95.00,312.49L95.16,311.13L95.33,309.70L95.50,308.21L95.67,306.68L95.83,305.15L96.00,303.63L96.17,302.15L96.34,300.73L96.51,299.39L96.67,298.17L96.84,297.06L97.01,296.10L97.18,295.30L97.34,294.67L97.51,294.22L97.68,293.95L97.85,293.88L98.01,294.00L98.18,294.31L98.35,294.81L98.52,295.48L98.68,296.32L98.85,297.32L99.02,298.45L99.19,299.71L99.36,301.07L99.52,302.50L99.69,303.99L99.86,305.52L100.03,307.05L100.19,308.57L100.36,310.05L100.53,311.47L100.70,312.81L100.86,314.03L101.03,315.14L101.20,316.10L101.37,316.90L101.53,317.53L101.70,317.98L101.87,318.25L102.04,318.32L102.21,318.20L102.37,317.89L102.54,317.39L102.71,316.72L102.88,315.88L103.04,314.88L103.21,313.75L103.38,312.49L103.55,311.13L103.71,309.70L103.88,308.21L104.05,306.68L104.22,305.15L104.38,303.63L104.55,302.15L104.72,300.73L104.89,299.39L105.06,298.17L105.22,297.06L105.39,296.10L105.56,295.30L105.73,294.67L105.89,294.22L106.06,293.95L106.23,293.88L106.40,294.00L106.56,294.31L106.73,294.81L106.90,295.48L107.07,296.32L107.24,297.32L107.40,298.45L107.57,299.71L107.74,301.07L107.91,302.50L108.07,303.99L108.24,305.52L108.41,307.05L108.58,308.57L108.74,310.05L108.91,311.47L109.08,312.81L109.25,314.03L109.41,315.14L109.58,316.10L109.75,316.90L109.92,317.53L110.09,317.98L110.25,318.25L110.42,318.32L110.59,318.20L110.76,317.89L110.92,317.39L111.09,316.72L111.26,315.88L111.43,314.88L111.59,313.75L111.76,312.49L111.93,311.13L112.10,309.70L112.26,308.21L112.43,306.68L112.60,305.15L112.77,303.63L112.94,302.15L113.10,300.73L113.27,299.39L113.44,298.17L113.61,297.06L113.77,296.10L113.94,295.30L114.11,294.67L114.28,294.22L114.44,293.95L114.61,293.88L114.78,294.00L114.95,294.31L115.11,294.81L115.28,295.48L115.45,296.32L115.62,297.32L115.79,298.45L115.95,299.71L116.12,301.07L116.29,302.50L116.46,303.99L116.62,305.52L116.79,307.05L116.96,308.57L117.13,310.05L117.29,311.47L117.46,312.81L117.63,314.03L117.80,315.14L117.97,316.10L118.13,316.90L118.30,317.53L118.47,317.98L118.64,318.25L118.80,318.32L118.97,318.20L119.14,317.89L119.31,317.39L119.47,316.72L119.64,315.88L119.81,314.88L119.98,313.75L120.14,312.49L120.31,311.13L120.48,309.70L120.65,308.21L120.82,306.68L120.98,305.15L121.15,303.63L121.32,302.15L121.49,300.73L121.65,299.39L121.82,298.17L121.99,297.06L122.16,296.10L122.32,295.30L122.49,294.67L122.66,294.22L122.83,293.95L122.99,293.88L123.16,294.00L123.33,294.31L123.50,294.81L123.67,295.48L123.83,296.32L124.00,297.32L124.17,298.45L124.34,299.71L124.50,301.07L124.67,302.50L124.84,303.99L125.01,305.52L125.17,307.05L125.34,308.57L125.51,310.05L125.68,311.47L125.85,312.81L126.01,314.03L126.18,315.14L126.35,316.10L126.52,316.90L126.68,317.53L126.85,317.98L127.02,318.25L127.19,318.32L127.35,318.20L127.52,317.89L127.69,317.39L127.86,316.72L128.02,315.88L128.19,314.88L128.36,313.75L128.53,312.49L128.70,311.13L128.86,309.70L129.03,308.21L129.20,306.68L129.37,305.15L129.53,303.63L129.70,302.15L129.87,300.73L130.04,299.39L130.20,298.17L130.37,297.06L130.54,296.10L130.71,295.30L130.87,294.67L131.04,294.22L131.21,293.95L131.38,293.88L131.55,294.00L131.71,294.31L131.88,294.81L132.05,295.48L132.22,296.32L132.38,297.32L132.55,298.45L132.72,299.71L132.89,301.07L133.05,302.50L133.22,303.99L133.39,305.52L133.56,307.05L133.72,308.57L133.89,310.05L134.06,311.47L134.23,312.81L134.40,314.03L134.56,315.14L134.73,316.10L134.90,316.90L135.07,317.53L135.23,317.98L135.40,318.25L135.57,318.32L135.74,318.20L135.90,317.89L136.07,317.39L136.24,316.72L136.41,315.88L136.58,314.88L136.74,313.75L136.91,312.49L137.08,311.13L137.25,309.70L137.41,308.21L137.58,306.68L137.75,305.15L137.92,303.63L138.08,302.15L138.25,300.73L138.42,299.39L138.59,298.17L138.75,297.06L138.92,296.10L139.09,295.30L139.26,294.67L139.43,294.22L139.59,293.95L139.76,293.88L139.93,294.00L140.10,294.31L140.26,294.81L140.43,295.48L140.60,296.32L140.77,297.32L140.93,298.45L141.10,299.71L141.27,301.07L141.44,302.50L141.60,303.99L141.77,305.52L141.94,307.05L142.11,308.57L142.28,310.05L142.44,311.47L142.61,312.81L142.78,314.03L142.95,315.14L143.11,316.10L143.28,316.90L143.45,317.53L143.62,317.98L143.78,318.25L143.95,318.32L144.12,318.20L144.29,317.89L144.45,317.39L144.62,316.72L144.79,315.88L144.96,314.88L145.13,313.75L145.29,312.49L145.46,311.13L145.63,309.70L145.80,308.21L145.96,306.68L146.13,305.15L146.30,303.63L146.47,302.15L146.63,300.73L146.80,299.39L146.97,298.17L147.14,297.06L147.31,296.10L147.47,295.30L147.64,294.67L147.81,294.22L147.98,293.95L148.14,293.88L148.31,294.00L148.48,294.31L148.65,294.81L148.81,295.48L148.98,296.32L149.15,297.32L149.32,298.45L149.48,299.71L149.65,301.07L149.82,302.50L149.99,303.99L150.16,305.52L150.32,307.05L150.49,308.57L150.66,310.05L150.83,311.47L150.99,312.81L151.16,314.03L151.33,315.14L151.50,316.10L151.66,316.90L151.83,317.53L152.00,317.98L152.17,318.25L152.33,318.32L152.50,318.20L152.67,317.89L152.84,317.39L153.01,316.72L153.17,315.88L153.34,314.88L153.51,313.75L153.68,312.49L153.84,311.13L154.01,309.70L154.18,308.21L154.35,306.68L154.51,305.15L154.68,303.63L154.85,302.15L155.02,300.73L155.19,299.39L155.35,298.17L155.52,297.06L155.69,296.10L155.86,295.30L156.02,294.67L156.19,294.22L156.36,293.95L156.53,293.88L156.69,294.00L156.86,294.31L157.03,294.81L157.20,295.48L157.36,296.32L157.53,297.32L157.70,298.45L157.87,299.71L158.04,301.07L158.20,302.50L158.37,303.99L158.54,305.52L158.71,307.05L158.87,308.57L159.04,310.05L159.21,311.47L159.38,312.81L159.54,314.03L159.71,315.14L159.88,316.10L160.05,316.90L160.21,317.53L160.38,317.98L160.55,318.25L160.72,318.32L160.89,318.20L161.05,317.89L161.22,317.39L161.39,316.72L161.56,315.88L161.72,314.88L161.89,313.75L162.06,312.49L162.23,311.13L162.39,309.70L162.56,308.21L162.73,306.68L162.90,305.15L163.06,303.63L163.23,302.15L163.40,300.73L163.57,299.39L163.74,298.17L163.90,297.06L164.07,296.10L164.24,295.30L164.41,294.67L164.57,294.22L164.74,293.95L164.91,293.88L165.08,294.00L165.24,294.31L165.41,294.81L165.58,295.48L165.75,296.32L165.92,297.32L166.08,298.45L166.25,299.71L166.42,301.07L166.59,302.50L166.75,303.99L166.92,305.52L167.09,307.05L167.26,308.57L167.42,310.05L167.59,311.47L167.76,312.81L167.93,314.03L168.09,315.14L168.26,316.10L168.43,316.90L168.60,317.53L168.77,317.98L168.93,318.25L169.10,318.32L169.27,318.20L169.44,317.89L169.60,317.39L169.77,316.72L169.94,315.88L170.11,314.88L170.27,313.75L170.44,312.49L170.61,311.13L170.78,309.70L170.94,308.21L171.11,306.68L171.28,305.15L171.45,303.63L171.62,302.15L171.78,300.73L171.95,299.39L172.12,298.17L172.29,297.06L172.45,296.10L172.62,295.30L172.79,294.67L172.96,294.22L173.12,293.95L173.29,293.88L173.46,294.00L173.63,294.31L173.79,294.81L173.96,295.48L174.13,296.32L174.30,297.32L174.47,298.45L174.63,299.71L174.80,301.07L174.97,302.50L175.14,303.99L175.30,305.52L175.47,307.05L175.64,308.57L175.81,310.05L175.97,311.47L176.14,312.81L176.31,314.03L176.48,315.14L176.65,316.10L176.81,316.90L176.98,317.53L177.15,317.98L177.32,318.25L177.48,318.32L177.65,318.20L177.82,317.89L177.99,317.39L178.15,316.72L178.32,315.88L178.49,314.88L178.66,313.75L178.82,312.49L178.99,311.13L179.16,309.70L179.33,308.21L179.50,306.68L179.66,305.15L179.83,303.63L180.00,302.15L180.17,300.73L180.33,299.39L180.50,298.17L180.67,297.06L180.84,296.10L181.00,295.30L181.17,294.67L181.34,294.22L181.51,293.95L181.67,293.88L181.84,294.00L182.01,294.31L182.18,294.81L182.35,295.48L182.51,296.32L182.68,297.32L182.85,298.45L183.02,299.71L183.18,301.07L183.35,302.50L183.52,303.99L183.69,305.52L183.85,307.05L184.02,308.57L184.19,310.05L184.36,311.47L184.53,312.81L184.69,314.03L184.86,315.14L185.03,316.10L185.20,316.90L185.36,317.53L185.53,317.98L185.70,318.25L185.87,318.32L186.03,318.20L186.20,317.89L186.37,317.39L186.54,316.72L186.70,315.88L186.87,314.88L187.04,313.75L187.21,312.49L187.38,311.13L187.54,309.70L187.71,308.21L187.88,306.68L188.05,305.15L188.21,303.63L188.38,302.15L188.55,300.73L188.72,299.39L188.88,298.17L189.05,297.06L189.22,296.10L189.39,295.30L189.55,294.67L189.72,294.22L189.89,293.95L190.06,293.88L190.23,294.00L190.39,294.31L190.56,294.81L190.73,295.48L190.90,296.32L191.06,297.32L191.23,298.45L191.40,299.71L191.57,301.07L191.73,302.50L191.90,303.99L192.07,305.52L192.24,307.05L192.40,308.57L192.57,310.05L192.74,311.47L192.91,312.81L193.08,314.03L193.24,315.14L193.41,316.10L193.58,316.90L193.75,317.53L193.91,317.98L194.08,318.25L194.25,318.32L194.42,318.20L194.58,317.89L194.75,317.39L194.92,316.72L195.09,315.88L195.26,314.88L195.42,313.75L195.59,312.49L195.76,311.13L195.93,309.70L196.09,308.21L196.26,306.68L196.43,305.15L196.60,303.63L196.76,302.15L196.93,300.73L197.10,299.39L197.27,298.17L197.43,297.06L197.60,296.10L197.77,295.30L197.94,294.67L198.11,294.22L198.27,293.95L198.44,293.88L198.61,294.00L198.78,294.31L198.94,294.81L199.11,295.48L199.28,296.32L199.45,297.32L199.61,298.45L199.78,299.71L199.95,301.07L200.12,302.50L200.28,303.99L200.45,305.52L200.62,307.05L200.79,308.57L200.96,310.05L201.12,311.47L201.29,312.81L201.46,314.03L201.63,315.14L201.79,316.10L201.96,316.90L202.13,317.53L202.30,317.98L202.46,318.25L202.63,318.32L202.80,318.20L202.97,317.89L203.13,317.39L203.30,316.72L203.47,315.88L203.64,314.88L203.81,313.75L203.97,312.49L204.14,311.13L204.31,309.70L204.48,308.21L204.64,306.68L204.81,305.15L204.98,303.63L205.15,302.15L205.31,300.73L205.48,299.39L205.65,298.17L205.82,297.06L205.99,296.10L206.15,295.30L206.32,294.67L206.49,294.22L206.66,293.95L206.82,293.88L206.99,294.00L207.16,294.31L207.33,294.81L207.49,295.48L207.66,296.32L207.83,297.32L208.00,298.45L208.16,299.71L208.33,301.07L208.50,302.50L208.67,303.99L208.84,305.52L209.00,307.05L209.17,308.57L209.34,310.05L209.51,311.47L209.67,312.81L209.84,314.03L210.01,315.14L210.18,316.10L210.34,316.90L210.51,317.53L210.68,317.98L210.85,318.25L211.01,318.32L211.18,318.20L211.35,317.89L211.52,317.39L211.69,316.72L211.85,315.88L212.02,314.88L212.19,313.75L212.36,312.49L212.52,311.13L212.69,309.70L212.86,308.21L213.03,306.68L213.19,305.15L213.36,303.63L213.53,302.15L213.70,300.73L213.87,299.39L214.03,298.17L214.20,297.06L214.37,296.10L214.54,295.30L214.70,294.67L214.87,294.22L215.04,293.95L215.21,293.88L215.37,294.00L215.54,294.31L215.71,294.81L215.88,295.48L216.04,296.32L216.21,297.32L216.38,298.45L216.55,299.71L216.72,301.07L216.88,302.50L217.05,303.99L217.22,305.52L217.39,307.05L217.55,308.57L217.72,310.05L217.89,311.47L218.06,312.81L218.22,314.03L218.39,315.14L218.56,316.10L218.73,316.90L218.89,317.53L219.06,317.98L219.23,318.25L219.40,318.32L219.57,318.20L219.73,317.89L219.90,317.39L220.07,316.72L220.24,315.88L220.40,314.88L220.57,313.75L220.74,312.49L220.91,311.13L221.07,309.70L221.24,308.21L221.41,306.68L221.58,305.15L221.74,303.63L221.91,302.15L222.08,300.73L222.25,299.39L222.42,298.17L222.58,297.06L222.75,296.10L222.92,295.30L223.09,294.67L223.25,294.22L223.42,293.95L223.59,293.88L223.76,294.00L223.92,294.31L224.09,294.81L224.26,295.48L224.43,296.32L224.60,297.32L224.76,298.45L224.93,299.71L225.10,301.07L225.27,302.50L225.43,303.99L225.60,305.52L225.77,307.05L225.94,308.57L226.10,310.05L226.27,311.47L226.44,312.81L226.61,314.03L226.77,315.14L226.94,316.10L227.11,316.90L227.28,317.53L227.45,317.98L227.61,318.25L227.78,318.32L227.95,318.20L228.12,317.89L228.28,317.39L228.45,316.72L228.62,315.88L228.79,314.88L228.95,313.75L229.12,312.49L229.29,311.13L229.46,309.70L229.62,308.21L229.79,306.68L229.96,305.15L230.13,303.63L230.30,302.15L230.46,300.73L230.63,299.39L230.80,298.17L230.97,297.06L231.13,296.10L231.30,295.30L231.47,294.67L231.64,294.22L231.80,293.95L231.97,293.88L232.14,294.00L232.31,294.31L232.47,294.81L232.64,295.48L232.81,296.32L232.98,297.32L233.15,298.45L233.31,299.71L233.48,301.07L233.65,302.50L233.82,303.99L233.98,305.52L234.15,307.05L234.32,308.57L234.49,310.05L234.65,311.47L234.82,312.81L234.99,314.03L235.16,315.14L235.33,316.10L235.49,316.90L235.66,317.53L235.83,317.98L236.00,318.25L236.16,318.32L236.33,318.20L236.50,317.89L236.67,317.39L236.83,316.72L237.00,315.88L237.17,314.88L237.34,313.75L237.50,312.49L237.67,311.13L237.84,309.70L238.01,308.21L238.18,306.68L238.34,305.15L238.51,303.63L238.68,302.15L238.85,300.73L239.01,299.39L239.18,298.17L239.35,297.06L239.52,296.10L239.68,295.30L239.85,294.67L240.02,294.22L240.19,293.95L240.35,293.88L240.52,294.00L240.69,294.31L240.86,294.81L241.03,295.48L241.19,296.32L241.36,297.32L241.53,298.45L241.70,299.71L241.86,301.07L242.03,302.50L242.20,303.99L242.37,305.52L242.53,307.05L242.70,308.57L242.87,310.05L243.04,311.47L243.21,312.81L243.37,314.03L243.54,315.14L243.71,316.10L243.88,316.90L244.04,317.53L244.21,317.98L244.38,318.25L244.55,318.32L244.71,318.20L244.88,317.89L245.05,317.39L245.22,316.72L245.38,315.88L245.55,314.88L245.72,313.75L245.89,312.49L246.06,311.13L246.22,309.70L246.39,308.21L246.56,306.68L246.73,305.15L246.89,303.63L247.06,302.15L247.23,300.73L247.40,299.39L247.56,298.17L247.73,297.06L247.90,296.10L248.07,295.30L248.23,294.67L248.40,294.22L248.57,293.95L248.74,293.88L248.91,294.00L249.07,294.31L249.24,294.81L249.41,295.48L249.58,296.32L249.74,297.32L249.91,298.45L250.08,299.71L250.25,301.07L250.41,302.50L250.58,303.99L250.75,305.52L250.92,307.05L251.08,308.57L251.25,310.05L251.42,311.47L251.59,312.81L251.76,314.03L251.92,315.14L252.09,316.10L252.26,316.90L252.43,317.53L252.59,317.98L252.76,318.25L252.93,318.32L253.10,318.20L253.26,317.89L253.43,317.39L253.60,316.72L253.77,315.88L253.94,314.88L254.10,313.75L254.27,312.49L254.44,311.13L254.61,309.70L254.77,308.21L254.94,306.68L255.11,305.15L255.28,303.63L255.44,302.15L255.61,300.73L255.78,299.39L255.95,298.17L256.11,297.06L256.28,296.10L256.45,295.30L256.62,294.67L256.79,294.22L256.95,293.95L257.12,293.88L257.29,294.00L257.46,294.31L257.62,294.81L257.79,295.48L257.96,296.32L258.13,297.32L258.29,298.45L258.46,299.71L258.63,301.07L258.80,302.50L258.96,303.99L259.13,305.52L259.30,307.05L259.47,308.57L259.64,310.05L259.80,311.47L259.97,312.81L260.14,314.03L260.31,315.14L260.47,316.10L260.64,316.90L260.81,317.53L260.98,317.98L261.14,318.25L261.31,318.32L261.48,318.20L261.65,317.89L261.81,317.39L261.98,316.72L262.15,315.88L262.32,314.88L262.49,313.75L262.65,312.49L262.82,311.13L262.99,309.70L263.16,308.21L263.32,306.68L263.49,305.15L263.66,303.63L263.83,302.15L263.99,300.73L264.16,299.39L264.33,298.17L264.50,297.06L264.67,296.10L264.83,295.30L265.00,294.67L265.17,294.22L265.34,293.95L265.50,293.88L265.67,294.00L265.84,294.31L266.01,294.81L266.17,295.48L266.34,296.32L266.51,297.32L266.68,298.45L266.84,299.71L267.01,301.07L267.18,302.50L267.35,303.99L267.52,305.52L267.68,307.05L267.85,308.57L268.02,310.05L268.19,311.47L268.35,312.81L268.52,314.03L268.69,315.14L268.86,316.10L269.02,316.90L269.19,317.53L269.36,317.98L269.53,318.25L269.69,318.32L269.86,318.20L270.03,317.89L270.20,317.39L270.37,316.72L270.53,315.88L270.70,314.88L270.87,313.75L271.04,312.49L271.20,311.13L271.37,309.70L271.54,308.21L271.71,306.68L271.87,305.15L272.04,303.63L272.21,302.15L272.38,300.73L272.55,299.39L272.71,298.17L272.88,297.06L273.05,296.10L273.22,295.30L273.38,294.67L273.55,294.22L273.72,293.95L273.89,293.88L274.05,294.00L274.22,294.31L274.39,294.81L274.56,295.48L274.72,296.32L274.89,297.32L275.06,298.45L275.23,299.71L275.40,301.07L275.56,302.50L275.73,303.99L275.90,305.52L276.07,307.05L276.23,308.57L276.40,310.05L276.57,311.47L276.74,312.81L276.90,314.03L277.07,315.14L277.24,316.10L277.41,316.90L277.57,317.53L277.74,317.98L277.91,318.25L278.08,318.32L278.25,318.20L278.41,317.89L278.58,317.39L278.75,316.72L278.92,315.88L279.08,314.88L279.25,313.75L279.42,312.49L279.59,311.13L279.75,309.70L279.92,308.21L280.09,306.68L280.26,305.15L280.42,303.63L280.59,302.15L280.76,300.73L280.93,299.39L281.10,298.17L281.26,297.06L281.43,296.10L281.60,295.30L281.77,294.67L281.93,294.22L282.10,293.95L282.27,293.88L282.44,294.00L282.60,294.31L282.77,294.81L282.94,295.48L283.11,296.32L283.28,297.32L283.44,298.45L283.61,299.71L283.78,301.07L283.95,302.50L284.11,303.99L284.28,305.52L284.45,307.05L284.62,308.57L284.78,310.05L284.95,311.47L285.12,312.81L285.29,314.03L285.45,315.14L285.62,316.10L285.79,316.90L285.96,317.53L286.13,317.98L286.29,318.25L286.46,318.32L286.63,318.20L286.80,317.89L286.96,317.39L287.13,316.72L287.30,315.88L287.47,314.88L287.63,313.75L287.80,312.49L287.97,311.13L288.14,309.70L288.30,308.21L288.47,306.68L288.64,305.15L288.81,303.63L288.98,302.15L289.14,300.73L289.31,299.39L289.48,298.17L289.65,297.06L289.81,296.10L289.98,295.30L290.15,294.67L290.32,294.22L290.48,293.95L290.65,293.88L290.82,294.00L290.99,294.31L291.15,294.81L291.32,295.48L291.49,296.32L291.66,297.32L291.83,298.45L291.99,299.71L292.16,301.07L292.33,302.50L292.50,303.99L292.66,305.52L292.83,307.05L293.00,308.57L293.17,310.05L293.33,311.47L293.50,312.81L293.67,314.03L293.84,315.14L294.01,316.10L294.17,316.90L294.34,317.53L294.51,317.98L294.68,318.25L294.84,318.32L295.01,318.20L295.18,317.89L295.35,317.39L295.51,316.72L295.68,315.88L295.85,314.88L296.02,313.75L296.18,312.49L296.35,311.13L296.52,309.70L296.69,308.21L296.86,306.68L297.02,305.15L297.19,303.63L297.36,302.15L297.53,300.73L297.69,299.39L297.86,298.17L298.03,297.06L298.20,296.10L298.36,295.30L298.53,294.67L298.70,294.22L298.87,293.95L299.03,293.88L299.20,294.00L299.37,294.31L299.54,294.81L299.71,295.48L299.87,296.32L300.04,297.32L300.21,298.45L300.38,299.71L300.54,301.07L300.71,302.50L300.88,303.99L301.05,305.52L301.21,307.05L301.38,308.57L301.55,310.05L301.72,311.47L301.89,312.81L302.05,314.03L302.22,315.14L302.39,316.10L302.56,316.90L302.72,317.53L302.89,317.98L303.06,318.25L303.23,318.32L303.39,318.20L303.56,317.89L303.73,317.39L303.90,316.72L304.06,315.88L304.23,314.88L304.40,313.75L304.57,312.49L304.74,311.13L304.90,309.70L305.07,308.21L305.24,306.68L305.41,305.15L305.57,303.63L305.74,302.15L305.91,300.73L306.08,299.39L306.24,298.17L306.41,297.06L306.58,296.10L306.75,295.30L306.91,294.67L307.08,294.22L307.25,293.95L307.42,293.88L307.59,294.00L307.75,294.31L307.92,294.81L308.09,295.48L308.26,296.32L308.42,297.32L308.59,298.45L308.76,299.71L308.93,301.07L309.09,302.50L309.26,303.99L309.43,305.52L309.60,307.05L309.76,308.57L309.93,310.05L310.10,311.47L310.27,312.81L310.44,314.03L310.60,315.14L310.77,316.10L310.94,316.90L311.11,317.53L311.27,317.98L311.44,318.25L311.61,318.32L311.78,318.20L311.94,317.89L312.11,317.39L312.28,316.72L312.45,315.88L312.62,314.88L312.78,313.75L312.95,312.49L313.12,311.13L313.29,309.70L313.45,308.21L313.62,306.68L313.79,305.15L313.96,303.63L314.12,302.15L314.29,300.73L314.46,299.39L314.63,298.17L314.79,297.06L314.96,296.10L315.13,295.30L315.30,294.67L315.47,294.22L315.63,293.95L315.80,293.88L315.97,294.00L316.14,294.31L316.30,294.81L316.47,295.48L316.64,296.32L316.81,297.32L316.97,298.45L317.14,299.71L317.31,301.07L317.48,302.50L317.64,303.99L317.81,305.52L317.98,307.05L318.15,308.57L318.32,310.05L318.48,311.47L318.65,312.81L318.82,314.03L318.99,315.14L319.15,316.10L319.32,316.90L319.49,317.53L319.66,317.98L319.82,318.25L319.99,318.32L320.16,318.20L320.33,317.89L320.49,317.39L320.66,316.72L320.83,315.88L321.00,314.88L321.17,313.75L321.33,312.49L321.50,311.13L321.67,309.70L321.84,308.21L322.00,306.68L322.17,305.15L322.34,303.63L322.51,302.15L322.67,300.73L322.84,299.39L323.01,298.17L323.18,297.06L323.35,296.10L323.51,295.30L323.68,294.67L323.85,294.22L324.02,293.95L324.18,293.88L324.35,294.00L324.52,294.31L324.69,294.81L324.85,295.48L325.02,296.32L325.19,297.32L325.36,298.45L325.52,299.71L325.69,301.07L325.86,302.50L326.03,303.99L326.20,305.52L326.36,307.05L326.53,308.57L326.70,310.05L326.87,311.47L327.03,312.81L327.20,314.03L327.37,315.14L327.54,316.10" stroke="#a3173e" class="ln" stroke-width="1.8"/>
<path d="M34.23,303.95L34.29,306.47L34.38,310.10L34.49,314.00L34.60,317.33L34.72,320.13L34.85,322.78L34.99,324.86L35.12,326.01L35.23,325.88L35.34,324.76L35.44,323.17L35.55,321.62L35.65,319.94L35.75,317.96L35.86,316.19L35.96,315.13L36.07,315.20L36.18,316.03L36.28,316.97L36.38,317.33L36.46,316.89L36.53,316.03L36.60,314.97L36.68,313.93L36.75,312.98L36.83,311.99L36.91,310.90L36.99,309.64L37.07,308.11L37.15,306.37L37.23,304.60L37.31,302.96L37.38,301.37L37.46,299.78L37.54,298.41L37.62,297.47L37.71,297.08L37.80,297.11L37.90,297.40L37.99,297.77L38.08,298.26L38.17,298.92L38.26,299.66L38.35,300.36L38.45,301.04L38.56,301.73L38.67,302.39L38.78,302.96L38.89,303.32L39.00,303.54L39.10,303.82L39.20,304.35L39.28,305.20L39.37,306.26L39.44,307.46L39.51,308.74L39.57,310.16L39.63,311.72L39.68,313.29L39.73,314.73L39.77,316.20L39.81,317.70L39.85,318.89L39.93,319.42L40.04,318.87L40.18,317.54L40.32,316.15L40.46,315.43L40.56,315.56L40.66,316.17L40.76,317.12L40.87,318.32L41.00,320.09L41.13,322.36L41.27,324.46L41.40,325.71L41.53,325.78L41.66,325.08L41.79,324.04L41.92,323.11L42.05,322.38L42.19,321.62L42.33,320.79L42.45,319.82L42.54,318.54L42.61,317.03L42.68,315.64L42.76,314.73L42.86,314.57L42.97,314.90L43.08,315.32L43.18,315.43L43.25,315.15L43.32,314.69L43.39,314.05L43.45,313.23L43.50,312.17L43.56,310.88L43.61,309.49L43.66,308.15L43.72,306.89L43.79,305.64L43.85,304.35L43.92,302.96L43.98,301.17L44.05,299.12L44.11,297.33L44.18,296.37L44.25,296.59L44.33,297.62L44.41,298.93L44.49,299.96L44.58,300.76L44.66,301.56L44.76,302.11L44.86,302.16L45.00,301.32L45.15,299.83L45.30,298.40L45.44,297.77L45.55,298.21L45.65,299.32L45.75,300.75L45.85,302.16L45.96,303.51L46.07,304.96L46.18,306.48L46.28,308.05L46.39,309.86L46.49,311.87L46.59,313.64L46.70,314.73L46.80,314.78L46.90,314.09L47.01,313.28L47.11,312.93L47.21,313.13L47.32,313.56L47.42,314.31L47.53,315.43L47.65,317.47L47.77,320.23L47.89,322.60L48.00,323.51L48.08,322.25L48.15,319.55L48.21,316.43L48.27,313.93L48.34,312.29L48.42,310.96L48.50,309.84L48.59,308.84L48.68,308.00L48.79,307.33L48.90,306.75L49.00,306.15L49.11,305.64L49.21,305.24L49.31,304.67L49.42,303.66L49.52,302.02L49.63,299.93L49.74,297.69L49.85,295.57L49.97,293.57L50.09,291.57L50.21,289.67L50.32,287.99L50.41,286.38L50.48,284.83L50.55,283.69L50.63,283.30L50.73,284.05L50.83,285.66L50.94,287.47L51.05,288.79L51.15,289.54L51.26,290.05L51.36,290.28L51.46,290.19L51.58,289.40L51.69,288.06L51.80,286.89L51.89,286.59L51.96,287.37L52.00,288.83L52.04,290.82L52.09,293.18L52.16,296.20L52.24,299.86L52.33,303.49L52.41,306.45L52.48,308.46L52.56,309.90L52.64,311.09L52.72,312.34L52.83,313.70L52.95,315.02L53.06,316.27L53.15,317.42L53.21,318.28L53.25,318.92L53.29,319.73L53.35,321.12L53.45,323.38L53.56,326.24L53.68,329.23L53.80,331.89L53.92,334.49L54.05,337.15L54.18,339.17L54.31,339.88L54.44,338.73L54.57,336.21L54.70,333.16L54.84,330.40L54.99,327.98L55.16,325.53L55.32,323.19L55.46,321.12L55.57,319.47L55.66,318.14L55.76,316.83L55.87,315.23L56.02,313.15L56.19,310.79L56.36,308.45L56.50,306.45L56.62,304.95L56.71,303.77L56.80,302.66L56.92,301.36L57.06,299.68L57.21,297.79L57.38,296.02L57.56,294.68L57.75,293.81L57.96,293.28L58.18,293.07L58.41,293.18L58.65,293.67L58.92,294.53L59.19,295.63L59.45,296.87L59.73,298.38L60.02,300.15L60.29,301.91L60.50,303.36L60.63,304.36L60.71,305.10L60.77,305.72L60.83,306.40L60.92,307.17L61.00,307.93L61.09,308.69L61.17,309.43L61.25,310.16L61.34,310.88L61.42,311.58L61.51,312.25L61.60,312.95L61.69,313.65L61.78,314.26L61.84,314.69L62.01,315.71L62.18,316.58L62.34,317.28L62.51,317.81L62.68,318.16L62.85,318.31L63.01,318.28L63.18,318.04L63.35,317.63L63.52,317.03L63.68,316.25L63.85,315.32L64.02,314.24L64.19,313.04L64.36,311.72L64.52,310.31L64.69,308.84L64.86,307.33L65.03,305.80L65.19,304.27L65.36,302.77L65.53,301.32L65.70,299.95L65.86,298.67L66.03,297.51L66.20,296.49L66.37,295.62L66.54,294.92L66.70,294.39L66.87,294.04L67.04,293.89L67.21,293.92L67.37,294.16L67.54,294.57L67.71,295.17L67.88,295.95L68.04,296.88L68.21,297.96L68.38,299.16L68.55,300.48L68.71,301.89L68.88,303.36L69.05,304.87L69.22,306.40L69.39,307.93L69.55,309.43L69.72,310.88L69.89,312.25L70.06,313.53L70.22,314.69L70.39,315.71L70.56,316.58L70.73,317.28L70.89,317.81L71.06,318.16L71.23,318.31L71.40,318.28L71.56,318.04L71.73,317.63L71.90,317.03L72.07,316.25L72.24,315.32L72.40,314.24L72.57,313.04L72.74,311.72L72.91,310.31L73.07,308.84L73.24,307.33L73.41,305.80L73.58,304.27L73.74,302.77L73.91,301.32L74.08,299.95L74.25,298.67L74.42,297.51L74.58,296.49L74.75,295.62L74.92,294.92L75.09,294.39L75.25,294.04L75.42,293.89L75.59,293.92L75.76,294.16L75.92,294.57L76.09,295.17L76.26,295.95L76.43,296.88L76.59,297.96L76.76,299.16L76.93,300.48L77.10,301.89L77.27,303.36L77.43,304.87L77.60,306.40L77.77,307.93L77.94,309.43L78.10,310.88L78.27,312.25L78.44,313.53L78.61,314.69L78.77,315.71L78.94,316.58L79.11,317.28L79.28,317.81L79.44,318.16L79.61,318.31L79.78,318.28L79.95,318.04L80.12,317.63L80.28,317.03L80.45,316.25L80.62,315.32L80.79,314.24L80.95,313.04L81.12,311.72L81.29,310.31L81.46,308.84L81.62,307.33L81.79,305.80L81.96,304.27L82.13,302.77L82.29,301.32L82.46,299.95L82.63,298.67L82.80,297.51L82.97,296.49L83.13,295.62L83.30,294.92L83.47,294.39L83.64,294.04L83.80,293.89L83.97,293.92L84.14,294.16L84.31,294.57L84.47,295.17L84.64,295.95L84.81,296.88L84.98,297.96L85.15,299.16L85.31,300.48L85.48,301.89L85.65,303.36L85.82,304.87L85.98,306.40L86.15,307.93L86.32,309.43L86.49,310.88L86.65,312.25L86.82,313.53L86.99,314.69L87.16,315.71L87.32,316.58L87.49,317.28L87.66,317.81L87.83,318.16L88.00,318.31L88.16,318.28L88.33,318.04L88.50,317.63L88.67,317.03L88.83,316.25L89.00,315.32L89.17,314.24L89.34,313.04L89.50,311.72L89.67,310.31L89.84,308.84L90.01,307.33L90.17,305.80L90.34,304.27L90.51,302.77L90.68,301.32L90.85,299.95L91.01,298.67L91.18,297.51L91.35,296.49L91.52,295.62L91.68,294.92L91.85,294.39L92.02,294.04L92.19,293.89L92.35,293.92L92.52,294.16L92.69,294.57L92.86,295.17L93.02,295.95L93.19,296.88L93.36,297.96L93.53,299.16L93.70,300.48L93.86,301.89L94.03,303.36L94.20,304.87L94.37,306.40L94.53,307.93L94.70,309.43L94.87,310.88L95.04,312.25L95.20,313.53L95.37,314.69L95.54,315.71L95.71,316.58L95.88,317.28L96.04,317.81L96.21,318.16L96.38,318.31L96.55,318.28L96.71,318.04L96.88,317.63L97.05,317.03L97.22,316.25L97.38,315.32L97.55,314.24L97.72,313.04L97.89,311.72L98.05,310.31L98.22,308.84L98.39,307.33L98.56,305.80L98.73,304.27L98.89,302.77L99.06,301.32L99.23,299.95L99.40,298.67L99.56,297.51L99.73,296.49L99.90,295.62L100.07,294.92L100.23,294.39L100.40,294.04L100.57,293.89L100.74,293.92L100.90,294.16L101.07,294.57L101.24,295.17L101.41,295.95L101.58,296.88L101.74,297.96L101.91,299.16L102.08,300.48L102.25,301.89L102.41,303.36L102.58,304.87L102.75,306.40L102.92,307.93L103.08,309.43L103.25,310.88L103.42,312.25L103.59,313.53L103.76,314.69L103.92,315.71L104.09,316.58L104.26,317.28L104.43,317.81L104.59,318.16L104.76,318.31L104.93,318.28L105.10,318.04L105.26,317.63L105.43,317.03L105.60,316.25L105.77,315.32L105.93,314.24L106.10,313.04L106.27,311.72L106.44,310.31L106.61,308.84L106.77,307.33L106.94,305.80L107.11,304.27L107.28,302.77L107.44,301.32L107.61,299.95L107.78,298.67L107.95,297.51L108.11,296.49L108.28,295.62L108.45,294.92L108.62,294.39L108.78,294.04L108.95,293.89L109.12,293.92L109.29,294.16L109.46,294.57L109.62,295.17L109.79,295.95L109.96,296.88L110.13,297.96L110.29,299.16L110.46,300.48L110.63,301.89L110.80,303.36L110.96,304.87L111.13,306.40L111.30,307.93L111.47,309.43L111.63,310.88L111.80,312.25L111.97,313.53L112.14,314.69L112.31,315.71L112.47,316.58L112.64,317.28L112.81,317.81L112.98,318.16L113.14,318.31L113.31,318.28L113.48,318.04L113.65,317.63L113.81,317.03L113.98,316.25L114.15,315.32L114.32,314.24L114.49,313.04L114.65,311.72L114.82,310.31L114.99,308.84L115.16,307.33L115.32,305.80L115.49,304.27L115.66,302.77L115.83,301.32L115.99,299.95L116.16,298.67L116.33,297.51L116.50,296.49L116.66,295.62L116.83,294.92L117.00,294.39L117.17,294.04L117.34,293.89L117.50,293.92L117.67,294.16L117.84,294.57L118.01,295.17L118.17,295.95L118.34,296.88L118.51,297.96L118.68,299.16L118.84,300.48L119.01,301.89L119.18,303.36L119.35,304.87L119.51,306.40L119.68,307.93L119.85,309.43L120.02,310.88L120.19,312.25L120.35,313.53L120.52,314.69L120.69,315.71L120.86,316.58L121.02,317.28L121.19,317.81L121.36,318.16L121.53,318.31L121.69,318.28L121.86,318.04L122.03,317.63L122.20,317.03L122.36,316.25L122.53,315.32L122.70,314.24L122.87,313.04L123.04,311.72L123.20,310.31L123.37,308.84L123.54,307.33L123.71,305.80L123.87,304.27L124.04,302.77L124.21,301.32L124.38,299.95L124.54,298.67L124.71,297.51L124.88,296.49L125.05,295.62L125.22,294.92L125.38,294.39L125.55,294.04L125.72,293.89L125.89,293.92L126.05,294.16L126.22,294.57L126.39,295.17L126.56,295.95L126.72,296.88L126.89,297.96L127.06,299.16L127.23,300.48L127.39,301.89L127.56,303.36L127.73,304.87L127.90,306.40L128.07,307.93L128.23,309.43L128.40,310.88L128.57,312.25L128.74,313.53L128.90,314.69L129.07,315.71L129.24,316.58L129.41,317.28L129.57,317.81L129.74,318.16L129.91,318.31L130.08,318.28L130.24,318.04L130.41,317.63L130.58,317.03L130.75,316.25L130.92,315.32L131.08,314.24L131.25,313.04L131.42,311.72L131.59,310.31L131.75,308.84L131.92,307.33L132.09,305.80L132.26,304.27L132.42,302.77L132.59,301.32L132.76,299.95L132.93,298.67L133.10,297.51L133.26,296.49L133.43,295.62L133.60,294.92L133.77,294.39L133.93,294.04L134.10,293.89L134.27,293.92L134.44,294.16L134.60,294.57L134.77,295.17L134.94,295.95L135.11,296.88L135.27,297.96L135.44,299.16L135.61,300.48L135.78,301.89L135.95,303.36L136.11,304.87L136.28,306.40L136.45,307.93L136.62,309.43L136.78,310.88L136.95,312.25L137.12,313.53L137.29,314.69L137.45,315.71L137.62,316.58L137.79,317.28L137.96,317.81L138.12,318.16L138.29,318.31L138.46,318.28L138.63,318.04L138.80,317.63L138.96,317.03L139.13,316.25L139.30,315.32L139.47,314.24L139.63,313.04L139.80,311.72L139.97,310.31L140.14,308.84L140.30,307.33L140.47,305.80L140.64,304.27L140.81,302.77L140.97,301.32L141.14,299.95L141.31,298.67L141.48,297.51L141.65,296.49L141.81,295.62L141.98,294.92L142.15,294.39L142.32,294.04L142.48,293.89L142.65,293.92L142.82,294.16L142.99,294.57L143.15,295.17L143.32,295.95L143.49,296.88L143.66,297.96L143.83,299.16L143.99,300.48L144.16,301.89L144.33,303.36L144.50,304.87L144.66,306.40L144.83,307.93L145.00,309.43L145.17,310.88L145.33,312.25L145.50,313.53L145.67,314.69L145.84,315.71L146.00,316.58L146.17,317.28L146.34,317.81L146.51,318.16L146.68,318.31L146.84,318.28L147.01,318.04L147.18,317.63L147.35,317.03L147.51,316.25L147.68,315.32L147.85,314.24L148.02,313.04L148.18,311.72L148.35,310.31L148.52,308.84L148.69,307.33L148.85,305.80L149.02,304.27L149.19,302.77L149.36,301.32L149.53,299.95L149.69,298.67L149.86,297.51L150.03,296.49L150.20,295.62L150.36,294.92L150.53,294.39L150.70,294.04L150.87,293.89L151.03,293.92L151.20,294.16L151.37,294.57L151.54,295.17L151.70,295.95L151.87,296.88L152.04,297.96L152.21,299.16L152.38,300.48L152.54,301.89L152.71,303.36L152.88,304.87L153.05,306.40L153.21,307.93L153.38,309.43L153.55,310.88L153.72,312.25L153.88,313.53L154.05,314.69L154.22,315.71L154.39,316.58L154.56,317.28L154.72,317.81L154.89,318.16L155.06,318.31L155.23,318.28L155.39,318.04L155.56,317.63L155.73,317.03L155.90,316.25L156.06,315.32L156.23,314.24L156.40,313.04L156.57,311.72L156.73,310.31L156.90,308.84L157.07,307.33L157.24,305.80L157.41,304.27L157.57,302.77L157.74,301.32L157.91,299.95L158.08,298.67L158.24,297.51L158.41,296.49L158.58,295.62L158.75,294.92L158.91,294.39L159.08,294.04L159.25,293.89L159.42,293.92L159.58,294.16L159.75,294.57L159.92,295.17L160.09,295.95L160.26,296.88L160.42,297.96L160.59,299.16L160.76,300.48L160.93,301.89L161.09,303.36L161.26,304.87L161.43,306.40L161.60,307.93L161.76,309.43L161.93,310.88L162.10,312.25L162.27,313.53L162.44,314.69L162.60,315.71L162.77,316.58L162.94,317.28L163.11,317.81L163.27,318.16L163.44,318.31L163.61,318.28L163.78,318.04L163.94,317.63L164.11,317.03L164.28,316.25L164.45,315.32L164.61,314.24L164.78,313.04L164.95,311.72L165.12,310.31L165.29,308.84L165.45,307.33L165.62,305.80L165.79,304.27L165.96,302.77L166.12,301.32L166.29,299.95L166.46,298.67L166.63,297.51L166.79,296.49L166.96,295.62L167.13,294.92L167.30,294.39L167.46,294.04L167.63,293.89L167.80,293.92L167.97,294.16L168.14,294.57L168.30,295.17L168.47,295.95L168.64,296.88L168.81,297.96L168.97,299.16L169.14,300.48L169.31,301.89L169.48,303.36L169.64,304.87L169.81,306.40L169.98,307.93L170.15,309.43L170.31,310.88L170.48,312.25L170.65,313.53L170.82,314.69L170.99,315.71L171.15,316.58L171.32,317.28L171.49,317.81L171.66,318.16L171.82,318.31L171.99,318.28L172.16,318.04L172.33,317.63L172.49,317.03L172.66,316.25L172.83,315.32L173.00,314.24L173.17,313.04L173.33,311.72L173.50,310.31L173.67,308.84L173.84,307.33L174.00,305.80L174.17,304.27L174.34,302.77L174.51,301.32L174.67,299.95L174.84,298.67L175.01,297.51L175.18,296.49L175.34,295.62L175.51,294.92L175.68,294.39L175.85,294.04L176.02,293.89L176.18,293.92L176.35,294.16L176.52,294.57L176.69,295.17L176.85,295.95L177.02,296.88L177.19,297.96L177.36,299.16L177.52,300.48L177.69,301.89L177.86,303.36L178.03,304.87L178.19,306.40L178.36,307.93L178.53,309.43L178.70,310.88L178.87,312.25L179.03,313.53L179.20,314.69L179.37,315.71L179.54,316.58L179.70,317.28L179.87,317.81L180.04,318.16L180.21,318.31L180.37,318.28L180.54,318.04L180.71,317.63L180.88,317.03L181.04,316.25L181.21,315.32L181.38,314.24L181.55,313.04L181.72,311.72L181.88,310.31L182.05,308.84L182.22,307.33L182.39,305.80L182.55,304.27L182.72,302.77L182.89,301.32L183.06,299.95L183.22,298.67L183.39,297.51L183.56,296.49L183.73,295.62L183.90,294.92L184.06,294.39L184.23,294.04L184.40,293.89L184.57,293.92L184.73,294.16L184.90,294.57L185.07,295.17L185.24,295.95L185.40,296.88L185.57,297.96L185.74,299.16L185.91,300.48L186.07,301.89L186.24,303.36L186.41,304.87L186.58,306.40L186.75,307.93L186.91,309.43L187.08,310.88L187.25,312.25L187.42,313.53L187.58,314.69L187.75,315.71L187.92,316.58L188.09,317.28L188.25,317.81L188.42,318.16L188.59,318.31L188.76,318.28L188.92,318.04L189.09,317.63L189.26,317.03L189.43,316.25L189.60,315.32L189.76,314.24L189.93,313.04L190.10,311.72L190.27,310.31L190.43,308.84L190.60,307.33L190.77,305.80L190.94,304.27L191.10,302.77L191.27,301.32L191.44,299.95L191.61,298.67L191.78,297.51L191.94,296.49L192.11,295.62L192.28,294.92L192.45,294.39L192.61,294.04L192.78,293.89L192.95,293.92L193.12,294.16L193.28,294.57L193.45,295.17L193.62,295.95L193.79,296.88L193.95,297.96L194.12,299.16L194.29,300.48L194.46,301.89L194.63,303.36L194.79,304.87L194.96,306.40L195.13,307.93L195.30,309.43L195.46,310.88L195.63,312.25L195.80,313.53L195.97,314.69L196.13,315.71L196.30,316.58L196.47,317.28L196.64,317.81L196.80,318.16L196.97,318.31L197.14,318.28L197.31,318.04L197.48,317.63L197.64,317.03L197.81,316.25L197.98,315.32L198.15,314.24L198.31,313.04L198.48,311.72L198.65,310.31L198.82,308.84L198.98,307.33L199.15,305.80L199.32,304.27L199.49,302.77L199.65,301.32L199.82,299.95L199.99,298.67L200.16,297.51L200.33,296.49L200.49,295.62L200.66,294.92L200.83,294.39L201.00,294.04L201.16,293.89L201.33,293.92L201.50,294.16L201.67,294.57L201.83,295.17L202.00,295.95L202.17,296.88L202.34,297.96L202.51,299.16L202.67,300.48L202.84,301.89L203.01,303.36L203.18,304.87L203.34,306.40L203.51,307.93L203.68,309.43L203.85,310.88L204.01,312.25L204.18,313.53L204.35,314.69L204.52,315.71L204.68,316.58L204.85,317.28L205.02,317.81L205.19,318.16L205.36,318.31L205.52,318.28L205.69,318.04L205.86,317.63L206.03,317.03L206.19,316.25L206.36,315.32L206.53,314.24L206.70,313.04L206.86,311.72L207.03,310.31L207.20,308.84L207.37,307.33L207.53,305.80L207.70,304.27L207.87,302.77L208.04,301.32L208.21,299.95L208.37,298.67L208.54,297.51L208.71,296.49L208.88,295.62L209.04,294.92L209.21,294.39L209.38,294.04L209.55,293.89L209.71,293.92L209.88,294.16L210.05,294.57L210.22,295.17L210.38,295.95L210.55,296.88L210.72,297.96L210.89,299.16L211.06,300.48L211.22,301.89L211.39,303.36L211.56,304.87L211.73,306.40L211.89,307.93L212.06,309.43L212.23,310.88L212.40,312.25L212.56,313.53L212.73,314.69L212.90,315.71L213.07,316.58L213.24,317.28L213.40,317.81L213.57,318.16L213.74,318.31L213.91,318.28L214.07,318.04L214.24,317.63L214.41,317.03L214.58,316.25L214.74,315.32L214.91,314.24L215.08,313.04L215.25,311.72L215.41,310.31L215.58,308.84L215.75,307.33L215.92,305.80L216.09,304.27L216.25,302.77L216.42,301.32L216.59,299.95L216.76,298.67L216.92,297.51L217.09,296.49L217.26,295.62L217.43,294.92L217.59,294.39L217.76,294.04L217.93,293.89L218.10,293.92L218.26,294.16L218.43,294.57L218.60,295.17L218.77,295.95L218.94,296.88L219.10,297.96L219.27,299.16L219.44,300.48L219.61,301.89L219.77,303.36L219.94,304.87L220.11,306.40L220.28,307.93L220.44,309.43L220.61,310.88L220.78,312.25L220.95,313.53L221.12,314.69L221.28,315.71L221.45,316.58L221.62,317.28L221.79,317.81L221.95,318.16L222.12,318.31L222.29,318.28L222.46,318.04L222.62,317.63L222.79,317.03L222.96,316.25L223.13,315.32L223.29,314.24L223.46,313.04L223.63,311.72L223.80,310.31L223.97,308.84L224.13,307.33L224.30,305.80L224.47,304.27L224.64,302.77L224.80,301.32L224.97,299.95L225.14,298.67L225.31,297.51L225.47,296.49L225.64,295.62L225.81,294.92L225.98,294.39L226.14,294.04L226.31,293.89L226.48,293.92L226.65,294.16L226.82,294.57L226.98,295.17L227.15,295.95L227.32,296.88L227.49,297.96L227.65,299.16L227.82,300.48L227.99,301.89L228.16,303.36L228.32,304.87L228.49,306.40L228.66,307.93L228.83,309.43L228.99,310.88L229.16,312.25L229.33,313.53L229.50,314.69L229.67,315.71L229.83,316.58L230.00,317.28L230.17,317.81L230.34,318.16L230.50,318.31L230.67,318.28L230.84,318.04L231.01,317.63L231.17,317.03L231.34,316.25L231.51,315.32L231.68,314.24L231.85,313.04L232.01,311.72L232.18,310.31L232.35,308.84L232.52,307.33L232.68,305.80L232.85,304.27L233.02,302.77L233.19,301.32L233.35,299.95L233.52,298.67L233.69,297.51L233.86,296.49L234.02,295.62L234.19,294.92L234.36,294.39L234.53,294.04L234.70,293.89L234.86,293.92L235.03,294.16L235.20,294.57L235.37,295.17L235.53,295.95L235.70,296.88L235.87,297.96L236.04,299.16L236.20,300.48L236.37,301.89L236.54,303.36L236.71,304.87L236.87,306.40L237.04,307.93L237.21,309.43L237.38,310.88L237.55,312.25L237.71,313.53L237.88,314.69L238.05,315.71L238.22,316.58L238.38,317.28L238.55,317.81L238.72,318.16L238.89,318.31L239.05,318.28L239.22,318.04L239.39,317.63L239.56,317.03L239.72,316.25L239.89,315.32L240.06,314.24L240.23,313.04L240.40,311.72L240.56,310.31L240.73,308.84L240.90,307.33L241.07,305.80L241.23,304.27L241.40,302.77L241.57,301.32L241.74,299.95L241.90,298.67L242.07,297.51L242.24,296.49L242.41,295.62L242.58,294.92L242.74,294.39L242.91,294.04L243.08,293.89L243.25,293.92L243.41,294.16L243.58,294.57L243.75,295.17L243.92,295.95L244.08,296.88L244.25,297.96L244.42,299.16L244.59,300.48L244.75,301.89L244.92,303.36L245.09,304.87L245.26,306.40L245.43,307.93L245.59,309.43L245.76,310.88L245.93,312.25L246.10,313.53L246.26,314.69L246.43,315.71L246.60,316.58L246.77,317.28L246.93,317.81L247.10,318.16L247.27,318.31L247.44,318.28L247.60,318.04L247.77,317.63L247.94,317.03L248.11,316.25L248.28,315.32L248.44,314.24L248.61,313.04L248.78,311.72L248.95,310.31L249.11,308.84L249.28,307.33L249.45,305.80L249.62,304.27L249.78,302.77L249.95,301.32L250.12,299.95L250.29,298.67L250.46,297.51L250.62,296.49L250.79,295.62L250.96,294.92L251.13,294.39L251.29,294.04L251.46,293.89L251.63,293.92L251.80,294.16L251.96,294.57L252.13,295.17L252.30,295.95L252.47,296.88L252.63,297.96L252.80,299.16L252.97,300.48L253.14,301.89L253.31,303.36L253.47,304.87L253.64,306.40L253.81,307.93L253.98,309.43L254.14,310.88L254.31,312.25L254.48,313.53L254.65,314.69L254.81,315.71L254.98,316.58L255.15,317.28L255.32,317.81L255.48,318.16L255.65,318.31L255.82,318.28L255.99,318.04L256.16,317.63L256.32,317.03L256.49,316.25L256.66,315.32L256.83,314.24L256.99,313.04L257.16,311.72L257.33,310.31L257.50,308.84L257.66,307.33L257.83,305.80L258.00,304.27L258.17,302.77L258.33,301.32L258.50,299.95L258.67,298.67L258.84,297.51L259.01,296.49L259.17,295.62L259.34,294.92L259.51,294.39L259.68,294.04L259.84,293.89L260.01,293.92L260.18,294.16L260.35,294.57L260.51,295.17L260.68,295.95L260.85,296.88L261.02,297.96L261.19,299.16L261.35,300.48L261.52,301.89L261.69,303.36L261.86,304.87L262.02,306.40L262.19,307.93L262.36,309.43L262.53,310.88L262.69,312.25L262.86,313.53L263.03,314.69L263.20,315.71L263.36,316.58L263.53,317.28L263.70,317.81L263.87,318.16L264.04,318.31L264.20,318.28L264.37,318.04L264.54,317.63L264.71,317.03L264.87,316.25L265.04,315.32L265.21,314.24L265.38,313.04L265.54,311.72L265.71,310.31L265.88,308.84L266.05,307.33L266.21,305.80L266.38,304.27L266.55,302.77L266.72,301.32L266.89,299.95L267.05,298.67L267.22,297.51L267.39,296.49L267.56,295.62L267.72,294.92L267.89,294.39L268.06,294.04L268.23,293.89L268.39,293.92L268.56,294.16L268.73,294.57L268.90,295.17L269.06,295.95L269.23,296.88L269.40,297.96L269.57,299.16L269.74,300.48L269.90,301.89L270.07,303.36L270.24,304.87L270.41,306.40L270.57,307.93L270.74,309.43L270.91,310.88L271.08,312.25L271.24,313.53L271.41,314.69L271.58,315.71L271.75,316.58L271.92,317.28L272.08,317.81L272.25,318.16L272.42,318.31L272.59,318.28L272.75,318.04L272.92,317.63L273.09,317.03L273.26,316.25L273.42,315.32L273.59,314.24L273.76,313.04L273.93,311.72L274.09,310.31L274.26,308.84L274.43,307.33L274.60,305.80L274.77,304.27L274.93,302.77L275.10,301.32L275.27,299.95L275.44,298.67L275.60,297.51L275.77,296.49L275.94,295.62L276.11,294.92L276.27,294.39L276.44,294.04L276.61,293.89L276.78,293.92L276.94,294.16L277.11,294.57L277.28,295.17L277.45,295.95L277.62,296.88L277.78,297.96L277.95,299.16L278.12,300.48L278.29,301.89L278.45,303.36L278.62,304.87L278.79,306.40L278.96,307.93L279.12,309.43L279.29,310.88L279.46,312.25L279.63,313.53L279.80,314.69L279.96,315.71L280.13,316.58L280.30,317.28L280.47,317.81L280.63,318.16L280.80,318.31L280.97,318.28L281.14,318.04L281.30,317.63L281.47,317.03L281.64,316.25L281.81,315.32L281.97,314.24L282.14,313.04L282.31,311.72L282.48,310.31L282.65,308.84L282.81,307.33L282.98,305.80L283.15,304.27L283.32,302.77L283.48,301.32L283.65,299.95L283.82,298.67L283.99,297.51L284.15,296.49L284.32,295.62L284.49,294.92L284.66,294.39L284.82,294.04L284.99,293.89L285.16,293.92L285.33,294.16L285.50,294.57L285.66,295.17L285.83,295.95L286.00,296.88L286.17,297.96L286.33,299.16L286.50,300.48L286.67,301.89L286.84,303.36L287.00,304.87L287.17,306.40L287.34,307.93L287.51,309.43L287.67,310.88L287.84,312.25L288.01,313.53L288.18,314.69L288.35,315.71L288.51,316.58L288.68,317.28L288.85,317.81L289.02,318.16L289.18,318.31L289.35,318.28L289.52,318.04L289.69,317.63L289.85,317.03L290.02,316.25L290.19,315.32L290.36,314.24L290.53,313.04L290.69,311.72L290.86,310.31L291.03,308.84L291.20,307.33L291.36,305.80L291.53,304.27L291.70,302.77L291.87,301.32L292.03,299.95L292.20,298.67L292.37,297.51L292.54,296.49L292.70,295.62L292.87,294.92L293.04,294.39L293.21,294.04L293.38,293.89L293.54,293.92L293.71,294.16L293.88,294.57L294.05,295.17L294.21,295.95L294.38,296.88L294.55,297.96L294.72,299.16L294.88,300.48L295.05,301.89L295.22,303.36L295.39,304.87L295.55,306.40L295.72,307.93L295.89,309.43L296.06,310.88L296.23,312.25L296.39,313.53L296.56,314.69L296.73,315.71L296.90,316.58L297.06,317.28L297.23,317.81L297.40,318.16L297.57,318.31L297.73,318.28L297.90,318.04L298.07,317.63L298.24,317.03L298.40,316.25L298.57,315.32L298.74,314.24L298.91,313.04L299.08,311.72L299.24,310.31L299.41,308.84L299.58,307.33L299.75,305.80L299.91,304.27L300.08,302.77L300.25,301.32L300.42,299.95L300.58,298.67L300.75,297.51L300.92,296.49L301.09,295.62L301.26,294.92L301.42,294.39L301.59,294.04L301.76,293.89L301.93,293.92L302.09,294.16L302.26,294.57L302.43,295.17L302.60,295.95L302.76,296.88L302.93,297.96L303.10,299.16L303.27,300.48L303.43,301.89L303.60,303.36L303.77,304.87L303.94,306.40L304.11,307.93L304.27,309.43L304.44,310.88L304.61,312.25L304.78,313.53L304.94,314.69L305.11,315.71L305.28,316.58L305.45,317.28L305.61,317.81L305.78,318.16L305.95,318.31L306.12,318.28L306.28,318.04L306.45,317.63L306.62,317.03L306.79,316.25L306.96,315.32L307.12,314.24L307.29,313.04L307.46,311.72L307.63,310.31L307.79,308.84L307.96,307.33L308.13,305.80L308.30,304.27L308.46,302.77L308.63,301.32L308.80,299.95L308.97,298.67L309.14,297.51L309.30,296.49L309.47,295.62L309.64,294.92L309.81,294.39L309.97,294.04L310.14,293.89L310.31,293.92L310.48,294.16L310.64,294.57L310.81,295.17L310.98,295.95L311.15,296.88L311.31,297.96L311.48,299.16L311.65,300.48L311.82,301.89L311.99,303.36L312.15,304.87L312.32,306.40L312.49,307.93L312.66,309.43L312.82,310.88L312.99,312.25L313.16,313.53L313.33,314.69L313.49,315.71L313.66,316.58L313.83,317.28L314.00,317.81L314.16,318.16L314.33,318.31L314.50,318.28L314.67,318.04L314.84,317.63L315.00,317.03L315.17,316.25L315.34,315.32L315.51,314.24L315.67,313.04L315.84,311.72L316.01,310.31L316.18,308.84L316.34,307.33L316.51,305.80L316.68,304.27L316.85,302.77L317.01,301.32L317.18,299.95L317.35,298.67L317.52,297.51L317.69,296.49L317.85,295.62L318.02,294.92L318.19,294.39L318.36,294.04L318.52,293.89L318.69,293.92L318.86,294.16L319.03,294.57L319.19,295.17L319.36,295.95L319.53,296.88L319.70,297.96L319.87,299.16L320.03,300.48L320.20,301.89L320.37,303.36L320.54,304.87L320.70,306.40L320.87,307.93L321.04,309.43L321.21,310.88L321.37,312.25L321.54,313.53L321.71,314.69L321.88,315.71L322.04,316.58L322.21,317.28L322.38,317.81L322.55,318.16L322.72,318.31L322.88,318.28L323.05,318.04L323.22,317.63L323.39,317.03L323.55,316.25L323.72,315.32L323.89,314.24L324.06,313.04L324.22,311.72L324.39,310.31L324.56,308.84L324.73,307.33L324.89,305.80L325.06,304.27L325.23,302.77L325.40,301.32L325.57,299.95L325.73,298.67L325.90,297.51L326.07,296.49L326.24,295.62L326.40,294.92L326.57,294.39L326.74,294.04L326.91,293.89L327.07,293.92L327.24,294.16L327.41,294.57L327.58,295.17" stroke="#8aac40" class="ln" stroke-width="1.8"/>
</g>
<line x1="76.11" y1="374.00" x2="76.11" y2="371.00" class="tkv"/>
<line x1="76.11" y1="238.20" x2="76.11" y2="241.20" class="tkv"/>
<line x1="118.03" y1="374.00" x2="118.03" y2="371.00" class="tkv"/>
<line x1="118.03" y1="238.20" x2="118.03" y2="241.20" class="tkv"/>
<line x1="159.94" y1="374.00" x2="159.94" y2="371.00" class="tkv"/>
<line x1="159.94" y1="238.20" x2="159.94" y2="241.20" class="tkv"/>
<line x1="201.86" y1="374.00" x2="201.86" y2="371.00" class="tkv"/>
<line x1="201.86" y1="238.20" x2="201.86" y2="241.20" class="tkv"/>
<line x1="243.77" y1="374.00" x2="243.77" y2="371.00" class="tkv"/>
<line x1="243.77" y1="238.20" x2="243.77" y2="241.20" class="tkv"/>
<line x1="285.69" y1="374.00" x2="285.69" y2="371.00" class="tkv"/>
<line x1="285.69" y1="238.20" x2="285.69" y2="241.20" class="tkv"/>
<line x1="34.20" y1="340.05" x2="37.20" y2="340.05" class="tk"/>
<line x1="327.60" y1="340.05" x2="324.60" y2="340.05" class="tk"/>
<line x1="34.20" y1="306.10" x2="37.20" y2="306.10" class="tk"/>
<line x1="327.60" y1="306.10" x2="324.60" y2="306.10" class="tk"/>
<line x1="34.20" y1="272.15" x2="37.20" y2="272.15" class="tk"/>
<line x1="327.60" y1="272.15" x2="324.60" y2="272.15" class="tk"/>
<path d="M33.50,238.20H328.30M33.50,374.00H328.30" class="bxh"/>
<path d="M34.20,238.20V374.00M327.60,238.20V374.00" class="bxv"/>
<text x="34.20" y="389.90" class="tl" text-anchor="middle">0</text>
<text x="76.11" y="389.90" class="tl" text-anchor="middle">0.1</text>
<text x="118.03" y="389.90" class="tl" text-anchor="middle">0.2</text>
<text x="159.94" y="389.90" class="tl" text-anchor="middle">0.3</text>
<text x="201.86" y="389.90" class="tl" text-anchor="middle">0.4</text>
<text x="243.77" y="389.90" class="tl" text-anchor="middle">0.5</text>
<text x="285.69" y="389.90" class="tl" text-anchor="middle">0.6</text>
<text x="327.60" y="389.90" class="tl" text-anchor="middle">0.7</text>
<text x="31.40" y="377.90" class="tl" text-anchor="end">-100</text>
<text x="31.40" y="343.95" class="tl" text-anchor="end">-50</text>
<text x="31.40" y="310.00" class="tl" text-anchor="end">0</text>
<text x="31.40" y="276.05" class="tl" text-anchor="end">50</text>
<text x="31.40" y="242.10" class="tl" text-anchor="end">100</text>
<text x="87.4" y="231.0" class="tt" textLength="188.1" lengthAdjust="spacingAndGlyphs">ACTUAL CURRENT WAVEFORM (GRID)</text>
<text x="147.8" y="405.8" class="lb" textLength="66.8" lengthAdjust="spacingAndGlyphs">Time (seconds)</text>
<text transform="translate(7.70,339.00) rotate(-90) scale(1,0.7)" x="0" y="0" class="yl" textLength="68.0" lengthAdjust="spacingAndGlyphs">Current (A)</text><line x1="398.24" y1="238.10" x2="398.24" y2="372.20" class="mn"/>
<line x1="412.88" y1="238.10" x2="412.88" y2="372.20" class="mn"/>
<line x1="427.52" y1="238.10" x2="427.52" y2="372.20" class="mn"/>
<line x1="456.80" y1="238.10" x2="456.80" y2="372.20" class="mn"/>
<line x1="471.44" y1="238.10" x2="471.44" y2="372.20" class="mn"/>
<line x1="486.08" y1="238.10" x2="486.08" y2="372.20" class="mn"/>
<line x1="515.36" y1="238.10" x2="515.36" y2="372.20" class="mn"/>
<line x1="530.00" y1="238.10" x2="530.00" y2="372.20" class="mn"/>
<line x1="544.64" y1="238.10" x2="544.64" y2="372.20" class="mn"/>
<line x1="573.92" y1="238.10" x2="573.92" y2="372.20" class="mn"/>
<line x1="588.56" y1="238.10" x2="588.56" y2="372.20" class="mn"/>
<line x1="603.20" y1="238.10" x2="603.20" y2="372.20" class="mn"/>
<line x1="632.48" y1="238.10" x2="632.48" y2="372.20" class="mn"/>
<line x1="647.12" y1="238.10" x2="647.12" y2="372.20" class="mn"/>
<line x1="661.76" y1="238.10" x2="661.76" y2="372.20" class="mn"/>
<line x1="384.60" y1="366.39" x2="675.40" y2="366.39" class="mnh"/>
<line x1="384.60" y1="359.59" x2="675.40" y2="359.59" class="mnh"/>
<line x1="384.60" y1="352.78" x2="675.40" y2="352.78" class="mnh"/>
<line x1="384.60" y1="345.98" x2="675.40" y2="345.98" class="mnh"/>
<line x1="384.60" y1="332.37" x2="675.40" y2="332.37" class="mnh"/>
<line x1="384.60" y1="325.56" x2="675.40" y2="325.56" class="mnh"/>
<line x1="384.60" y1="318.76" x2="675.40" y2="318.76" class="mnh"/>
<line x1="384.60" y1="311.95" x2="675.40" y2="311.95" class="mnh"/>
<line x1="384.60" y1="298.34" x2="675.40" y2="298.34" class="mnh"/>
<line x1="384.60" y1="291.54" x2="675.40" y2="291.54" class="mnh"/>
<line x1="384.60" y1="284.74" x2="675.40" y2="284.74" class="mnh"/>
<line x1="384.60" y1="277.93" x2="675.40" y2="277.93" class="mnh"/>
<line x1="384.60" y1="264.32" x2="675.40" y2="264.32" class="mnh"/>
<line x1="384.60" y1="257.51" x2="675.40" y2="257.51" class="mnh"/>
<line x1="384.60" y1="250.71" x2="675.40" y2="250.71" class="mnh"/>
<line x1="384.60" y1="243.91" x2="675.40" y2="243.91" class="mnh"/>
<line x1="442.16" y1="238.10" x2="442.16" y2="372.20" class="mj"/>
<line x1="500.72" y1="238.10" x2="500.72" y2="372.20" class="mj"/>
<line x1="559.28" y1="238.10" x2="559.28" y2="372.20" class="mj"/>
<line x1="617.84" y1="238.10" x2="617.84" y2="372.20" class="mj"/>
<line x1="384.60" y1="339.18" x2="675.40" y2="339.18" class="mjh"/>
<line x1="384.60" y1="305.15" x2="675.40" y2="305.15" class="mjh"/>
<line x1="384.60" y1="271.12" x2="675.40" y2="271.12" class="mjh"/>
<g clip-path="url(#c_br)">
<path d="M383.80,311.00L384.55,312.76L385.62,315.30L386.81,318.11L387.90,320.70L388.83,322.93L389.72,325.06L390.60,327.22L391.50,329.50L392.40,332.28L393.30,335.38L394.22,338.12L395.20,339.80L396.29,340.00L397.46,339.16L398.60,337.91L399.60,336.90L400.44,336.21L401.18,335.53L401.82,334.89L402.40,334.30L402.86,333.93L403.20,333.72L403.54,333.35L404.00,332.50L404.63,330.85L405.36,328.66L406.11,326.46L406.80,324.80L407.38,324.02L407.89,323.76L408.41,323.54L409.00,322.90L409.70,321.69L410.47,320.18L411.24,318.48L411.90,316.70L412.42,314.80L412.86,312.73L413.27,310.65L413.70,308.70L414.14,306.76L414.58,304.81L415.05,303.12L415.60,302.00L416.25,301.79L416.99,302.25L417.75,302.76L418.50,302.70L419.24,301.84L419.99,300.54L420.72,299.04L421.40,297.60L421.98,296.13L422.49,294.56L423.01,293.13L423.60,292.10L424.30,291.61L425.06,291.49L425.84,291.58L426.60,291.70L427.35,291.86L428.10,292.13L428.83,292.46L429.50,292.80L430.08,293.18L430.60,293.60L431.12,294.00L431.70,294.30L432.38,294.44L433.11,294.48L433.86,294.50L434.60,294.60L435.32,294.73L436.04,294.87L436.77,295.15L437.50,295.70L438.26,296.58L439.04,297.71L439.80,299.04L440.50,300.50L441.14,302.21L441.74,304.17L442.27,306.11L442.70,307.80L442.93,309.30L443.01,310.69L443.11,311.76L443.40,312.30L443.99,312.04L444.77,311.16L445.59,310.12L446.30,309.40L446.84,309.04L447.29,308.81L447.73,308.78L448.20,309.00L448.71,309.56L449.24,310.39L449.79,311.36L450.40,312.30L451.08,313.39L451.81,314.63L452.56,315.64L453.30,316.00L454.03,315.47L454.77,314.31L455.50,312.89L456.20,311.60L456.92,310.45L457.66,309.27L458.31,308.15L458.80,307.20L459.00,306.53L458.98,306.05L458.98,305.57L459.20,304.90L459.73,303.85L460.44,302.58L461.26,301.37L462.10,300.50L463.00,300.19L463.99,300.23L464.96,300.31L465.80,300.10L466.44,299.59L466.95,298.93L467.44,298.02L468.00,296.80L468.69,294.82L469.45,292.28L470.21,289.99L470.90,288.80L471.50,289.14L472.04,290.48L472.57,292.26L473.10,293.90L473.65,295.41L474.20,297.03L474.75,298.57L475.30,299.80L475.85,300.66L476.40,301.27L476.95,301.69L477.50,302.00L478.05,302.07L478.60,301.91L479.15,301.80L479.70,302.00L480.27,302.66L480.85,303.61L481.41,304.65L481.90,305.60L482.27,306.31L482.55,306.92L482.86,307.64L483.30,308.70L483.93,310.24L484.68,312.11L485.49,314.10L486.30,316.00L487.12,318.01L487.98,320.16L488.82,321.95L489.60,322.90L490.29,322.60L490.92,321.40L491.51,319.95L492.10,318.90L492.68,318.36L493.24,318.00L493.78,317.82L494.30,317.80L494.79,317.94L495.25,318.26L495.71,318.74L496.20,319.40L496.75,320.58L497.32,322.16L497.89,323.46L498.40,323.80L498.83,322.82L499.20,320.93L499.55,318.66L499.90,316.50L500.24,314.51L500.56,312.45L500.90,310.39L501.30,308.40L501.79,306.42L502.35,304.43L502.93,302.60L503.50,301.10L504.03,300.16L504.56,299.62L505.10,299.10L505.70,298.20L506.37,296.82L507.10,295.17L507.85,293.33L508.60,291.40L509.36,289.25L510.14,286.89L510.90,284.59L511.60,282.60L512.21,281.04L512.75,279.75L513.27,278.61L513.80,277.50L514.33,276.24L514.86,274.93L515.40,273.91L516.00,273.50L516.69,273.94L517.45,275.02L518.21,276.33L518.90,277.50L519.50,278.48L520.04,279.46L520.57,280.39L521.10,281.20L521.65,281.75L522.20,282.12L522.75,282.58L523.30,283.40L523.85,284.71L524.40,286.34L524.95,288.15L525.50,290.00L526.07,291.93L526.65,293.99L527.21,296.05L527.70,298.00L528.07,299.79L528.35,301.49L528.66,303.14L529.10,304.80L529.74,306.52L530.51,308.25L531.32,309.91L532.10,311.40L532.81,312.67L533.51,313.79L534.22,314.81L535.00,315.80L535.87,316.81L536.81,317.78L537.76,318.67L538.70,319.40L539.52,320.06L540.27,320.66L541.14,321.00L542.30,320.90L543.92,320.30L545.86,319.29L547.87,317.97L549.70,316.40L551.25,314.45L552.65,312.13L554.06,309.75L555.60,307.60L557.45,305.70L559.48,303.90L561.41,302.30L562.92,300.97L563.86,300.00L564.40,299.33L564.79,298.79L565.26,298.23L565.85,297.62L566.43,297.02L567.02,296.46L567.60,295.94L568.19,295.45L568.78,295.00L569.36,294.59L569.95,294.22L570.59,293.89L571.26,293.60L571.87,293.36L572.29,293.19L572.58,293.11L572.88,293.05L573.17,292.99L573.46,292.95L573.75,292.92L574.05,292.91L574.34,292.90L574.63,292.91L574.92,292.93L575.22,292.96L575.51,293.00L575.80,293.06L576.10,293.13L576.39,293.20L576.68,293.30L576.97,293.40L577.27,293.51L577.56,293.64L577.85,293.78L578.15,293.92L578.44,294.08L578.73,294.25L579.02,294.43L579.32,294.63L579.61,294.83L579.90,295.04L580.20,295.26L580.49,295.49L580.78,295.74L581.07,295.99L581.37,296.25L581.66,296.52L581.95,296.79L582.24,297.08L582.54,297.37L582.83,297.67L583.12,297.98L583.42,298.30L583.71,298.62L584.00,298.95L584.29,299.28L584.59,299.62L584.88,299.97L585.17,300.32L585.47,300.68L585.76,301.04L586.05,301.40L586.34,301.77L586.64,302.14L586.93,302.51L587.22,302.89L587.52,303.27L587.81,303.65L588.10,304.03L588.39,304.42L588.69,304.80L588.98,305.19L589.27,305.57L589.56,305.96L589.86,306.34L590.15,306.72L590.44,307.10L590.74,307.48L591.03,307.86L591.32,308.23L591.61,308.60L591.91,308.97L592.20,309.33L592.49,309.69L592.79,310.05L593.08,310.40L593.37,310.74L593.66,311.08L593.96,311.42L594.25,311.75L594.54,312.07L594.84,312.38L595.13,312.69L595.42,312.99L595.71,313.28L596.01,313.56L596.30,313.84L596.59,314.11L596.88,314.36L597.18,314.61L597.47,314.85L597.76,315.08L598.06,315.30L598.35,315.51L598.64,315.71L598.93,315.90L599.23,316.08L599.52,316.25L599.81,316.41L600.11,316.55L600.40,316.69L600.69,316.81L600.98,316.92L601.28,317.02L601.57,317.11L601.86,317.19L602.16,317.25L602.45,317.31L602.74,317.35L603.03,317.38L603.33,317.39L603.62,317.40L603.91,317.39L604.20,317.37L604.50,317.34L604.79,317.30L605.08,317.24L605.38,317.17L605.67,317.10L605.96,317.00L606.25,316.90L606.55,316.79L606.84,316.66L607.13,316.52L607.43,316.38L607.72,316.22L608.01,316.05L608.30,315.87L608.60,315.67L608.89,315.47L609.18,315.26L609.48,315.04L609.77,314.81L610.06,314.56L610.35,314.31L610.65,314.05L610.94,313.78L611.23,313.51L611.52,313.22L611.82,312.93L612.11,312.63L612.40,312.32L612.70,312.00L612.99,311.68L613.28,311.35L613.57,311.02L613.87,310.68L614.16,310.33L614.45,309.98L614.75,309.62L615.04,309.26L615.33,308.90L615.62,308.53L615.92,308.16L616.21,307.79L616.50,307.41L616.80,307.03L617.09,306.65L617.38,306.27L617.67,305.88L617.97,305.50L618.26,305.11L618.55,304.73L618.84,304.34L619.14,303.96L619.43,303.58L619.72,303.20L620.02,302.82L620.31,302.44L620.60,302.07L620.89,301.70L621.19,301.33L621.48,300.97L621.77,300.61L622.07,300.25L622.36,299.90L622.65,299.56L622.94,299.22L623.24,298.88L623.53,298.55L623.82,298.23L624.12,297.92L624.41,297.61L624.70,297.31L624.99,297.02L625.29,296.74L625.58,296.46L625.87,296.19L626.16,295.94L626.46,295.69L626.75,295.45L627.04,295.22L627.34,295.00L627.63,294.79L627.92,294.59L628.21,294.40L628.51,294.22L628.80,294.05L629.09,293.89L629.39,293.75L629.68,293.61L629.97,293.49L630.26,293.38L630.56,293.28L630.85,293.19L631.14,293.11L631.44,293.05L631.73,292.99L632.02,292.95L632.31,292.92L632.61,292.91L632.90,292.90L633.19,292.91L633.48,292.93L633.78,292.96L634.07,293.00L634.36,293.06L634.66,293.13L634.95,293.20L635.24,293.30L635.53,293.40L635.83,293.51L636.12,293.64L636.41,293.78L636.71,293.92L637.00,294.08L637.29,294.25L637.58,294.43L637.88,294.63L638.17,294.83L638.46,295.04L638.76,295.26L639.05,295.49L639.34,295.74L639.63,295.99L639.93,296.25L640.22,296.52L640.51,296.79L640.80,297.08L641.10,297.37L641.39,297.67L641.68,297.98L641.98,298.30L642.27,298.62L642.56,298.95L642.85,299.28L643.15,299.62L643.44,299.97L643.73,300.32L644.03,300.68L644.32,301.04L644.61,301.40L644.90,301.77L645.20,302.14L645.49,302.51L645.78,302.89L646.08,303.27L646.37,303.65L646.66,304.03L646.95,304.42L647.25,304.80L647.54,305.19L647.83,305.57L648.12,305.96L648.42,306.34L648.71,306.72L649.00,307.10L649.30,307.48L649.59,307.86L649.88,308.23L650.17,308.60L650.47,308.97L650.76,309.33L651.05,309.69L651.35,310.05L651.64,310.40L651.93,310.74L652.22,311.08L652.52,311.42L652.81,311.75L653.10,312.07L653.40,312.38L653.69,312.69L653.98,312.99L654.27,313.28L654.57,313.56L654.86,313.84L655.15,314.11L655.44,314.36L655.74,314.61L656.03,314.85L656.32,315.08L656.62,315.30L656.91,315.51L657.20,315.71L657.49,315.90L657.79,316.08L658.08,316.25L658.37,316.41L658.67,316.55L658.96,316.69L659.25,316.81L659.54,316.92L659.84,317.02L660.13,317.11L660.42,317.19L660.72,317.25L661.01,317.31L661.30,317.35L661.59,317.38L661.89,317.39L662.18,317.40L662.47,317.39L662.76,317.37L663.06,317.34L663.35,317.30L663.64,317.24L663.94,317.17L664.23,317.10L664.52,317.00L664.81,316.90L665.11,316.79L665.40,316.66L665.69,316.52L665.99,316.38L666.28,316.22L666.57,316.05L666.86,315.87L667.16,315.67L667.45,315.47L667.74,315.26L668.04,315.04L668.33,314.81L668.62,314.56L668.91,314.31L669.21,314.05L669.50,313.78L669.79,313.51L670.08,313.22L670.38,312.93L670.67,312.63L670.96,312.32L671.26,312.00L671.55,311.68L671.84,311.35L672.13,311.02L672.43,310.68L672.72,310.33L673.01,309.98L673.31,309.62L673.60,309.26L673.89,308.90L674.18,308.53L674.48,308.16L674.77,307.79L675.06,307.41L675.36,307.03L675.65,306.65L675.94,306.27L676.23,305.88" stroke="#1cee1c" class="ln" stroke-width="2.2"/>
<path d="M383.80,300.30L384.26,296.85L384.92,291.90L385.67,286.40L386.40,281.30L387.10,276.46L387.83,271.49L388.57,267.03L389.30,263.70L390.02,261.85L390.74,261.08L391.47,260.89L392.20,260.80L392.96,260.87L393.74,261.29L394.50,261.77L395.20,262.00L395.77,261.67L396.26,261.02L396.77,260.57L397.40,260.80L398.20,261.90L399.11,263.58L400.07,265.67L401.00,268.00L401.94,270.64L402.91,273.65L403.83,276.83L404.60,280.00L405.16,283.40L405.56,287.04L405.94,290.35L406.40,292.80L407.00,294.00L407.66,294.31L408.34,294.32L409.00,294.60L409.64,295.18L410.27,295.80L410.90,296.57L411.50,297.60L412.08,299.04L412.64,300.79L413.18,302.60L413.70,304.20L414.17,305.60L414.61,306.92L415.06,308.06L415.60,308.90L416.25,309.40L416.99,309.62L417.75,309.63L418.50,309.50L419.24,309.18L419.99,308.64L420.72,308.04L421.40,307.50L421.99,306.96L422.52,306.38L423.04,305.93L423.60,305.80L424.22,306.26L424.88,307.14L425.55,307.95L426.20,308.20L426.84,307.66L427.47,306.62L428.10,305.38L428.70,304.20L429.27,303.16L429.82,302.12L430.36,301.01L430.90,299.80L431.45,298.23L432.00,296.41L432.55,294.81L433.10,293.90L433.65,293.97L434.20,294.72L434.75,295.71L435.30,296.50L435.83,297.14L436.35,297.79L436.89,298.26L437.50,298.30L438.20,297.81L438.96,296.93L439.74,295.80L440.50,294.60L441.23,293.10L441.96,291.30L442.68,289.70L443.40,288.80L444.13,288.87L444.87,289.59L445.60,290.60L446.30,291.50L446.96,292.16L447.59,292.81L448.23,293.57L448.90,294.60L449.62,296.11L450.38,297.96L451.15,299.78L451.90,301.20L452.65,302.08L453.40,302.62L454.13,303.00L454.80,303.40L455.40,303.77L455.94,304.06L456.47,304.39L457.00,304.90L457.59,305.69L458.19,306.66L458.76,307.67L459.20,308.60L459.45,309.28L459.55,309.83L459.65,310.51L459.90,311.60L460.33,313.61L460.86,316.24L461.47,318.56L462.10,319.60L462.77,318.75L463.50,316.63L464.25,314.17L465.00,312.30L465.75,311.16L466.50,310.30L467.25,309.71L468.00,309.40L468.73,309.65L469.46,310.37L470.18,310.98L470.90,310.90L471.62,309.85L472.35,308.18L473.07,306.27L473.80,304.50L474.52,302.95L475.24,301.41L475.97,299.87L476.70,298.30L477.41,296.44L478.11,294.38L478.85,292.64L479.70,291.70L480.75,292.01L481.95,293.21L483.12,294.57L484.10,295.40L484.79,295.60L485.29,295.52L485.75,295.10L486.30,294.30L486.99,292.63L487.75,290.28L488.51,288.18L489.20,287.30L489.80,288.12L490.34,290.05L490.87,292.43L491.40,294.60L491.94,296.47L492.48,298.38L493.02,300.24L493.60,302.00L494.23,303.72L494.90,305.40L495.57,306.91L496.20,308.10L496.76,308.70L497.28,308.88L497.81,309.11L498.40,309.90L499.08,311.48L499.81,313.56L500.56,315.83L501.30,318.00L502.02,320.06L502.74,322.15L503.46,324.16L504.20,326.00L504.95,327.87L505.71,329.75L506.49,331.18L507.30,331.70L508.18,330.85L509.11,328.99L510.01,326.89L510.80,325.30L511.42,324.40L511.93,323.80L512.42,323.40L513.00,323.10L513.73,323.08L514.55,323.33L515.34,323.46L516.00,323.10L516.44,322.12L516.75,320.74L517.03,319.07L517.40,317.20L517.88,315.13L518.40,312.81L518.98,310.31L519.60,307.70L520.28,304.90L521.01,301.91L521.79,298.89L522.60,296.00L523.46,293.13L524.36,290.23L525.28,287.62L526.20,285.60L527.12,284.32L528.05,283.61L528.98,283.24L529.90,283.00L530.80,282.88L531.70,282.98L532.60,283.26L533.50,283.70L534.42,284.32L535.34,285.12L536.27,286.04L537.20,287.00L538.14,288.01L539.08,289.11L540.01,290.25L540.90,291.40L541.75,292.56L542.56,293.73L543.35,294.94L544.10,296.20L544.70,297.41L545.19,298.61L545.81,299.97L546.80,301.70L548.35,304.08L550.29,306.92L552.31,309.73L554.10,312.00L555.55,313.59L556.84,314.76L558.06,315.65L559.30,316.40L560.53,317.08L561.72,317.62L562.97,317.89L564.40,317.80L566.19,317.17L568.23,316.11L570.19,314.93L571.72,313.95L572.66,313.26L573.20,312.69L573.59,312.15L574.06,311.55L574.65,310.89L575.23,310.19L575.82,309.48L576.40,308.76L576.99,308.02L577.58,307.26L578.16,306.50L578.75,305.73L579.39,304.90L580.06,304.01L580.67,303.22L581.09,302.67L581.38,302.30L581.68,301.92L581.97,301.55L582.26,301.19L582.55,300.83L582.85,300.47L583.14,300.11L583.43,299.77L583.72,299.42L584.02,299.09L584.31,298.75L584.60,298.43L584.90,298.11L585.19,297.80L585.48,297.50L585.77,297.20L586.07,296.91L586.36,296.63L586.65,296.36L586.95,296.09L587.24,295.84L587.53,295.59L587.82,295.36L588.12,295.13L588.41,294.92L588.70,294.71L589.00,294.51L589.29,294.33L589.58,294.15L589.87,293.99L590.17,293.84L590.46,293.69L590.75,293.56L591.04,293.44L591.34,293.34L591.63,293.24L591.92,293.16L592.22,293.08L592.51,293.02L592.80,292.98L593.09,292.94L593.39,292.91L593.68,292.90L593.97,292.90L594.27,292.91L594.56,292.94L594.85,292.97L595.14,293.02L595.44,293.08L595.73,293.15L596.02,293.24L596.32,293.33L596.61,293.44L596.90,293.56L597.19,293.69L597.49,293.83L597.78,293.98L598.07,294.15L598.36,294.32L598.66,294.51L598.95,294.70L599.24,294.91L599.54,295.13L599.83,295.35L600.12,295.59L600.41,295.83L600.71,296.09L601.00,296.35L601.29,296.62L601.59,296.90L601.88,297.19L602.17,297.49L602.46,297.79L602.76,298.10L603.05,298.42L603.34,298.75L603.64,299.08L603.93,299.41L604.22,299.76L604.51,300.10L604.81,300.46L605.10,300.82L605.39,301.18L605.68,301.54L605.98,301.91L606.27,302.29L606.56,302.66L606.86,303.04L607.15,303.42L607.44,303.80L607.73,304.18L608.03,304.57L608.32,304.95L608.61,305.34L608.91,305.72L609.20,306.11L609.49,306.49L609.78,306.87L610.08,307.25L610.37,307.63L610.66,308.00L610.96,308.38L611.25,308.75L611.54,309.11L611.83,309.47L612.13,309.83L612.42,310.19L612.71,310.53L613.00,310.88L613.30,311.21L613.59,311.55L613.88,311.87L614.18,312.19L614.47,312.50L614.76,312.80L615.05,313.10L615.35,313.39L615.64,313.67L615.93,313.94L616.23,314.21L616.52,314.46L616.81,314.71L617.10,314.94L617.40,315.17L617.69,315.38L617.98,315.59L618.28,315.79L618.57,315.97L618.86,316.15L619.15,316.31L619.45,316.46L619.74,316.61L620.03,316.74L620.32,316.86L620.62,316.96L620.91,317.06L621.20,317.14L621.50,317.22L621.79,317.28L622.08,317.32L622.37,317.36L622.67,317.39L622.96,317.40L623.25,317.40L623.55,317.39L623.84,317.36L624.13,317.33L624.42,317.28L624.72,317.22L625.01,317.15L625.30,317.06L625.60,316.97L625.89,316.86L626.18,316.74L626.47,316.61L626.77,316.47L627.06,316.32L627.35,316.15L627.64,315.98L627.94,315.79L628.23,315.60L628.52,315.39L628.82,315.17L629.11,314.95L629.40,314.71L629.69,314.47L629.99,314.21L630.28,313.95L630.57,313.68L630.87,313.40L631.16,313.11L631.45,312.81L631.74,312.51L632.04,312.20L632.33,311.88L632.62,311.55L632.92,311.22L633.21,310.89L633.50,310.54L633.79,310.20L634.09,309.84L634.38,309.48L634.67,309.12L634.96,308.76L635.26,308.39L635.55,308.01L635.84,307.64L636.14,307.26L636.43,306.88L636.72,306.50L637.01,306.12L637.31,305.73L637.60,305.35L637.89,304.96L638.19,304.58L638.48,304.19L638.77,303.81L639.06,303.43L639.36,303.05L639.65,302.67L639.94,302.30L640.24,301.92L640.53,301.55L640.82,301.19L641.11,300.83L641.41,300.47L641.70,300.11L641.99,299.77L642.28,299.42L642.58,299.09L642.87,298.75L643.16,298.43L643.46,298.11L643.75,297.80L644.04,297.50L644.33,297.20L644.63,296.91L644.92,296.63L645.21,296.36L645.51,296.09L645.80,295.84L646.09,295.59L646.38,295.36L646.68,295.13L646.97,294.92L647.26,294.71L647.56,294.51L647.85,294.33L648.14,294.15L648.43,293.99L648.73,293.84L649.02,293.69L649.31,293.56L649.60,293.44L649.90,293.34L650.19,293.24L650.48,293.16L650.78,293.08L651.07,293.02L651.36,292.98L651.65,292.94L651.95,292.91L652.24,292.90L652.53,292.90L652.83,292.91L653.12,292.94L653.41,292.97L653.70,293.02L654.00,293.08L654.29,293.15L654.58,293.24L654.88,293.33L655.17,293.44L655.46,293.56L655.75,293.69L656.05,293.83L656.34,293.98L656.63,294.15L656.92,294.32L657.22,294.51L657.51,294.70L657.80,294.91L658.10,295.13L658.39,295.35L658.68,295.59L658.97,295.83L659.27,296.09L659.56,296.35L659.85,296.62L660.15,296.90L660.44,297.19L660.73,297.49L661.02,297.79L661.32,298.10L661.61,298.42L661.90,298.75L662.20,299.08L662.49,299.41L662.78,299.76L663.07,300.10L663.37,300.46L663.66,300.82L663.95,301.18L664.24,301.54L664.54,301.91L664.83,302.29L665.12,302.66L665.42,303.04L665.71,303.42L666.00,303.80L666.29,304.18L666.59,304.57L666.88,304.95L667.17,305.34L667.47,305.72L667.76,306.11L668.05,306.49L668.34,306.87L668.64,307.25L668.93,307.63L669.22,308.00L669.52,308.38L669.81,308.75L670.10,309.11L670.39,309.47L670.69,309.83L670.98,310.19L671.27,310.53L671.56,310.88L671.86,311.21L672.15,311.55L672.44,311.87L672.74,312.19L673.03,312.50L673.32,312.80L673.61,313.10L673.91,313.39L674.20,313.67L674.49,313.94L674.79,314.21L675.08,314.46L675.37,314.71L675.66,314.94L675.96,315.17L676.25,315.38" stroke="#a3173e" class="ln" stroke-width="2.2"/>
<path d="M383.80,303.00L384.24,305.52L384.88,309.16L385.62,313.07L386.40,316.40L387.24,319.21L388.18,321.86L389.12,323.96L390.00,325.10L390.79,324.97L391.54,323.85L392.27,322.25L393.00,320.70L393.73,319.02L394.46,317.04L395.18,315.26L395.90,314.20L396.64,314.27L397.40,315.11L398.13,316.04L398.80,316.40L399.38,315.96L399.89,315.11L400.39,314.04L400.90,313.00L401.44,312.04L401.99,311.06L402.55,309.96L403.10,308.70L403.65,307.17L404.20,305.43L404.75,303.65L405.30,302.00L405.84,300.40L406.38,298.81L406.92,297.44L407.50,296.50L408.12,296.11L408.78,296.14L409.45,296.43L410.10,296.80L410.72,297.29L411.33,297.96L411.94,298.70L412.60,299.40L413.32,300.08L414.08,300.77L414.85,301.43L415.60,302.00L416.35,302.36L417.10,302.59L417.83,302.87L418.50,303.40L419.12,304.25L419.69,305.31L420.22,306.52L420.70,307.80L421.13,309.22L421.50,310.78L421.85,312.35L422.20,313.80L422.50,315.27L422.76,316.78L423.09,317.97L423.60,318.50L424.38,317.95L425.36,316.61L426.38,315.22L427.30,314.50L428.06,314.63L428.75,315.24L429.44,316.20L430.20,317.40L431.07,319.17L432.01,321.44L432.96,323.55L433.90,324.80L434.80,324.87L435.70,324.17L436.60,323.13L437.50,322.20L438.45,321.47L439.44,320.71L440.38,319.87L441.20,318.90L441.84,317.62L442.35,316.10L442.84,314.71L443.40,313.80L444.10,313.64L444.87,313.97L445.63,314.39L446.30,314.50L446.85,314.22L447.34,313.76L447.78,313.12L448.20,312.30L448.60,311.23L448.96,309.94L449.31,308.55L449.70,307.20L450.13,305.94L450.58,304.69L451.04,303.40L451.50,302.00L451.94,300.21L452.38,298.15L452.82,296.37L453.30,295.40L453.81,295.62L454.35,296.65L454.91,297.96L455.50,299.00L456.09,299.80L456.69,300.60L457.34,301.15L458.10,301.20L459.03,300.36L460.08,298.86L461.14,297.44L462.10,296.80L462.90,297.25L463.61,298.36L464.29,299.79L465.00,301.20L465.75,302.55L466.50,304.01L467.25,305.53L468.00,307.10L468.73,308.92L469.46,310.93L470.18,312.70L470.90,313.80L471.62,313.85L472.35,313.16L473.07,312.35L473.80,312.00L474.52,312.19L475.22,312.63L475.95,313.38L476.70,314.50L477.53,316.55L478.41,319.31L479.26,321.69L480.00,322.60L480.57,321.34L481.02,318.62L481.44,315.50L481.90,313.00L482.41,311.35L482.94,310.02L483.49,308.90L484.10,307.90L484.78,307.05L485.51,306.39L486.26,305.80L487.00,305.20L487.72,304.69L488.44,304.29L489.17,303.71L489.90,302.70L490.64,301.06L491.38,298.97L492.13,296.72L492.90,294.60L493.73,292.60L494.60,290.59L495.45,288.68L496.20,287.00L496.81,285.38L497.32,283.83L497.83,282.69L498.40,282.30L499.08,283.05L499.81,284.67L500.56,286.47L501.30,287.80L502.02,288.56L502.74,289.07L503.47,289.30L504.20,289.20L504.98,288.41L505.79,287.08L506.56,285.90L507.20,285.60L507.64,286.38L507.95,287.84L508.23,289.84L508.60,292.20L509.09,295.23L509.65,298.89L510.23,302.54L510.80,305.50L511.33,307.51L511.85,308.96L512.39,310.15L513.00,311.40L513.73,312.76L514.55,314.09L515.34,315.34L516.00,316.50L516.42,317.36L516.69,317.99L516.97,318.81L517.40,320.20L518.04,322.47L518.81,325.33L519.65,328.33L520.50,331.00L521.36,333.61L522.26,336.27L523.18,338.30L524.10,339.00L525.00,337.85L525.91,335.33L526.83,332.27L527.80,329.50L528.87,327.08L530.00,324.62L531.11,322.28L532.10,320.20L532.89,318.55L533.54,317.22L534.20,315.90L535.00,314.30L536.03,312.22L537.20,309.85L538.37,307.51L539.40,305.50L540.19,304.00L540.84,302.82L541.50,301.70L542.30,300.40L543.28,298.72L544.36,296.82L545.54,295.05L546.80,293.70L548.14,292.84L549.58,292.30L551.09,292.09L552.70,292.20L554.43,292.69L556.26,293.55L558.14,294.66L560.00,295.90L561.95,297.41L563.97,299.19L565.84,300.95L567.32,302.40L568.26,303.41L568.80,304.14L569.19,304.77L569.66,305.45L570.25,306.22L570.83,306.99L571.42,307.75L572.00,308.49L572.59,309.22L573.18,309.94L573.76,310.64L574.35,311.32L574.99,312.01L575.66,312.71L576.27,313.33L576.69,313.75L576.98,314.02L577.28,314.29L577.57,314.54L577.86,314.78L578.15,315.01L578.45,315.24L578.74,315.45L579.03,315.65L579.32,315.85L579.62,316.03L579.91,316.20L580.20,316.36L580.50,316.51L580.79,316.65L581.08,316.77L581.37,316.89L581.67,316.99L581.96,317.09L582.25,317.17L582.55,317.24L582.84,317.29L583.13,317.34L583.42,317.37L583.72,317.39L584.01,317.40L584.30,317.40L584.60,317.38L584.89,317.35L585.18,317.31L585.47,317.26L585.77,317.20L586.06,317.12L586.35,317.03L586.64,316.93L586.94,316.82L587.23,316.70L587.52,316.57L587.82,316.42L588.11,316.27L588.40,316.10L588.69,315.92L588.99,315.73L589.28,315.53L589.57,315.33L589.87,315.11L590.16,314.88L590.45,314.64L590.74,314.39L591.04,314.13L591.33,313.87L591.62,313.59L591.92,313.31L592.21,313.02L592.50,312.72L592.79,312.41L593.09,312.10L593.38,311.78L593.67,311.45L593.96,311.12L594.26,310.78L594.55,310.44L594.84,310.09L595.14,309.73L595.43,309.37L595.72,309.01L596.01,308.64L596.31,308.27L596.60,307.90L596.89,307.52L597.19,307.15L597.48,306.76L597.77,306.38L598.06,306.00L598.36,305.61L598.65,305.23L598.94,304.85L599.24,304.46L599.53,304.08L599.82,303.69L600.11,303.31L600.41,302.93L600.70,302.56L600.99,302.18L601.28,301.81L601.58,301.44L601.87,301.08L602.16,300.72L602.46,300.36L602.75,300.01L603.04,299.66L603.33,299.32L603.63,298.98L603.92,298.65L604.21,298.33L604.51,298.02L604.80,297.71L605.09,297.40L605.38,297.11L605.68,296.82L605.97,296.55L606.26,296.28L606.56,296.01L606.85,295.76L607.14,295.52L607.43,295.29L607.73,295.06L608.02,294.85L608.31,294.65L608.60,294.45L608.90,294.27L609.19,294.10L609.48,293.94L609.78,293.79L610.07,293.65L610.36,293.53L610.65,293.41L610.95,293.31L611.24,293.21L611.53,293.13L611.83,293.06L612.12,293.01L612.41,292.96L612.70,292.93L613.00,292.91L613.29,292.90L613.58,292.90L613.88,292.92L614.17,292.95L614.46,292.99L614.75,293.04L615.05,293.10L615.34,293.18L615.63,293.27L615.92,293.37L616.22,293.48L616.51,293.60L616.80,293.73L617.10,293.88L617.39,294.03L617.68,294.20L617.97,294.38L618.27,294.57L618.56,294.77L618.85,294.97L619.15,295.19L619.44,295.42L619.73,295.66L620.02,295.91L620.32,296.17L620.61,296.43L620.90,296.71L621.20,296.99L621.49,297.28L621.78,297.58L622.07,297.89L622.37,298.20L622.66,298.52L622.95,298.85L623.24,299.18L623.54,299.52L623.83,299.86L624.12,300.21L624.42,300.57L624.71,300.93L625.00,301.29L625.29,301.66L625.59,302.03L625.88,302.40L626.17,302.78L626.47,303.15L626.76,303.54L627.05,303.92L627.34,304.30L627.64,304.69L627.93,305.07L628.22,305.45L628.52,305.84L628.81,306.22L629.10,306.61L629.39,306.99L629.69,307.37L629.98,307.74L630.27,308.12L630.56,308.49L630.86,308.86L631.15,309.22L631.44,309.58L631.74,309.94L632.03,310.29L632.32,310.64L632.61,310.98L632.91,311.32L633.20,311.65L633.49,311.97L633.79,312.28L634.08,312.59L634.37,312.90L634.66,313.19L634.96,313.48L635.25,313.75L635.54,314.02L635.84,314.29L636.13,314.54L636.42,314.78L636.71,315.01L637.01,315.24L637.30,315.45L637.59,315.65L637.88,315.85L638.18,316.03L638.47,316.20L638.76,316.36L639.06,316.51L639.35,316.65L639.64,316.77L639.93,316.89L640.23,316.99L640.52,317.09L640.81,317.17L641.11,317.24L641.40,317.29L641.69,317.34L641.98,317.37L642.28,317.39L642.57,317.40L642.86,317.40L643.16,317.38L643.45,317.35L643.74,317.31L644.03,317.26L644.33,317.20L644.62,317.12L644.91,317.03L645.20,316.93L645.50,316.82L645.79,316.70L646.08,316.57L646.38,316.42L646.67,316.27L646.96,316.10L647.25,315.92L647.55,315.73L647.84,315.53L648.13,315.33L648.43,315.11L648.72,314.88L649.01,314.64L649.30,314.39L649.60,314.13L649.89,313.87L650.18,313.59L650.48,313.31L650.77,313.02L651.06,312.72L651.35,312.41L651.65,312.10L651.94,311.78L652.23,311.45L652.52,311.12L652.82,310.78L653.11,310.44L653.40,310.09L653.70,309.73L653.99,309.37L654.28,309.01L654.57,308.64L654.87,308.27L655.16,307.90L655.45,307.52L655.75,307.15L656.04,306.76L656.33,306.38L656.62,306.00L656.92,305.61L657.21,305.23L657.50,304.85L657.80,304.46L658.09,304.08L658.38,303.69L658.67,303.31L658.97,302.93L659.26,302.56L659.55,302.18L659.84,301.81L660.14,301.44L660.43,301.08L660.72,300.72L661.02,300.36L661.31,300.01L661.60,299.66L661.89,299.32L662.19,298.98L662.48,298.65L662.77,298.33L663.07,298.02L663.36,297.71L663.65,297.40L663.94,297.11L664.24,296.82L664.53,296.55L664.82,296.28L665.12,296.01L665.41,295.76L665.70,295.52L665.99,295.29L666.29,295.06L666.58,294.85L666.87,294.65L667.16,294.45L667.46,294.27L667.75,294.10L668.04,293.94L668.34,293.79L668.63,293.65L668.92,293.53L669.21,293.41L669.51,293.31L669.80,293.21L670.09,293.13L670.39,293.06L670.68,293.01L670.97,292.96L671.26,292.93L671.56,292.91L671.85,292.90L672.14,292.90L672.44,292.92L672.73,292.95L673.02,292.99L673.31,293.04L673.61,293.10L673.90,293.18L674.19,293.27L674.48,293.37L674.78,293.48L675.07,293.60L675.36,293.73L675.66,293.88L675.95,294.03L676.24,294.20" stroke="#8aac40" class="ln" stroke-width="2.2"/>
</g>
<line x1="442.16" y1="373.20" x2="442.16" y2="370.20" class="tkv"/>
<line x1="442.16" y1="237.10" x2="442.16" y2="240.10" class="tkv"/>
<line x1="500.72" y1="373.20" x2="500.72" y2="370.20" class="tkv"/>
<line x1="500.72" y1="237.10" x2="500.72" y2="240.10" class="tkv"/>
<line x1="559.28" y1="373.20" x2="559.28" y2="370.20" class="tkv"/>
<line x1="559.28" y1="237.10" x2="559.28" y2="240.10" class="tkv"/>
<line x1="617.84" y1="373.20" x2="617.84" y2="370.20" class="tkv"/>
<line x1="617.84" y1="237.10" x2="617.84" y2="240.10" class="tkv"/>
<line x1="383.60" y1="339.18" x2="386.60" y2="339.18" class="tk"/>
<line x1="676.40" y1="339.18" x2="673.40" y2="339.18" class="tk"/>
<line x1="383.60" y1="305.15" x2="386.60" y2="305.15" class="tk"/>
<line x1="676.40" y1="305.15" x2="673.40" y2="305.15" class="tk"/>
<line x1="383.60" y1="271.12" x2="386.60" y2="271.12" class="tk"/>
<line x1="676.40" y1="271.12" x2="673.40" y2="271.12" class="tk"/>
<path d="M382.90,237.10H677.10M382.90,373.20H677.10" class="bxh"/>
<path d="M383.60,237.10V373.20M676.40,237.10V373.20" class="bxv"/>
<text x="383.60" y="389.10" class="tl" text-anchor="middle">0</text>
<text x="442.16" y="389.10" class="tl" text-anchor="middle">0.02</text>
<text x="500.72" y="389.10" class="tl" text-anchor="middle">0.04</text>
<text x="559.28" y="389.10" class="tl" text-anchor="middle">0.06</text>
<text x="617.84" y="389.10" class="tl" text-anchor="middle">0.08</text>
<text x="676.40" y="389.10" class="tl" text-anchor="middle">0.1</text>
<text x="380.80" y="377.10" class="tl" text-anchor="end">-100</text>
<text x="380.80" y="343.07" class="tl" text-anchor="end">-50</text>
<text x="380.80" y="309.05" class="tl" text-anchor="end">0</text>
<text x="380.80" y="275.02" class="tl" text-anchor="end">50</text>
<text x="380.80" y="241.00" class="tl" text-anchor="end">100</text>
<text x="436.5" y="229.8" class="tt" textLength="187.6" lengthAdjust="spacingAndGlyphs">ACTUAL CURRENT WAVEFORM (GRID)</text>
<text x="496.3" y="404.5" class="lb" textLength="67.4" lengthAdjust="spacingAndGlyphs">Time (seconds)</text>
<text transform="translate(356.10,338.00) rotate(-90) scale(1,0.7)" x="0" y="0" class="yl" textLength="69.5" lengthAdjust="spacingAndGlyphs">Current (A)</text>
</g>
</svg>
</body></html>
